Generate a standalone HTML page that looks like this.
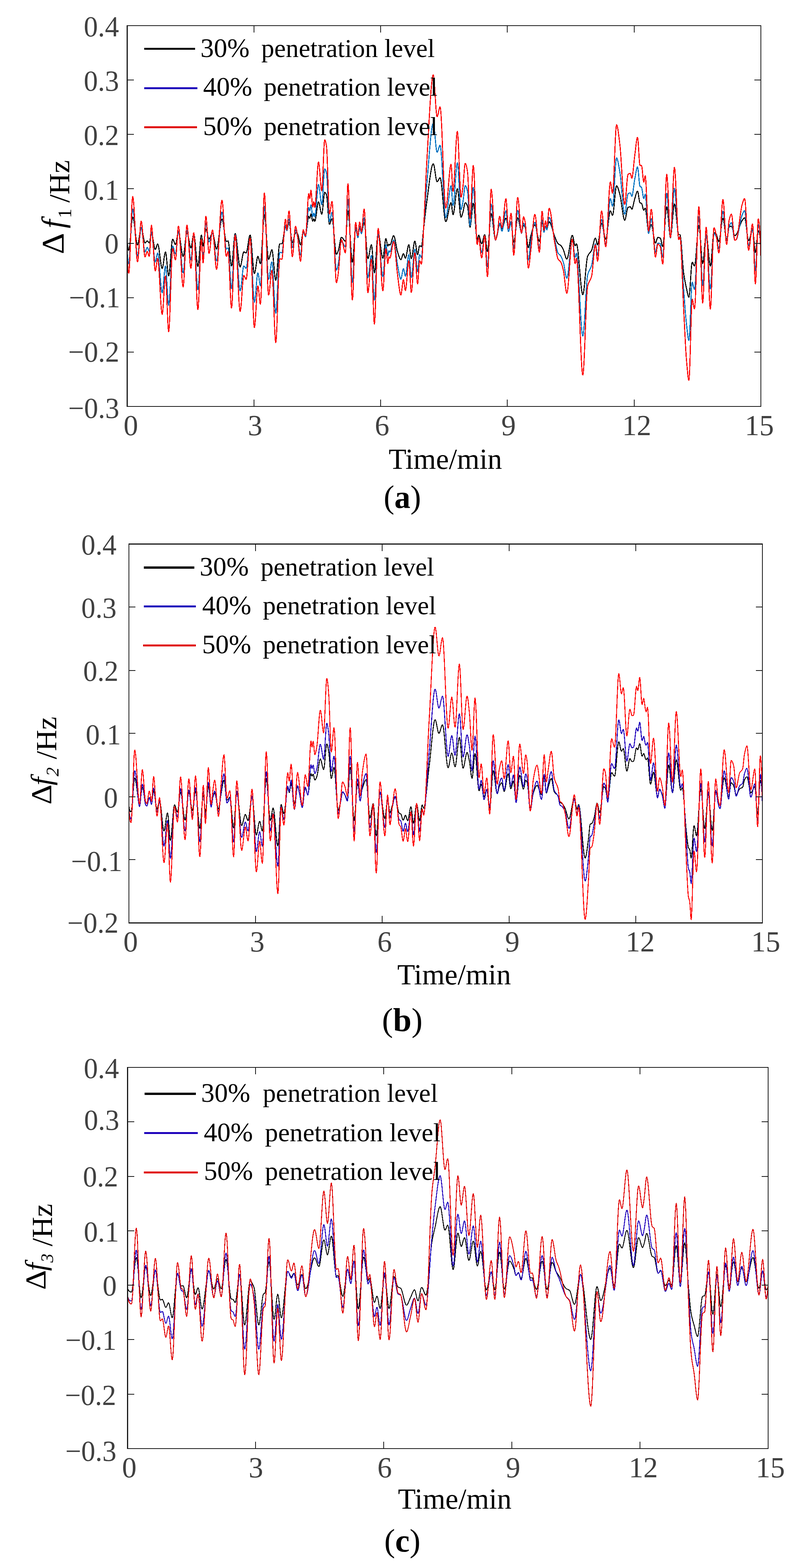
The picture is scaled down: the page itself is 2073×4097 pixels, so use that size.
<!DOCTYPE html>
<html lang="en"><head><meta charset="utf-8"><title>Frequency deviation under different penetration levels</title>
<style>html,body{margin:0;padding:0;background:#fff}body{width:2073px;height:4097px;overflow:hidden}svg{display:block}text{font-family:'Liberation Serif', 'DejaVu Serif', serif}</style></head><body>
<svg width="2073" height="4097" viewBox="0 0 2073 4097">
<rect width="2073" height="4097" fill="#ffffff"/>
<g id="chart-a">
<g fill="none" stroke-width="2.7" stroke-linejoin="round" stroke-linecap="butt" shape-rendering="crispEdges">
<path stroke="#000000" d="M332.9,636.1 333.9,644 334.9,650 335.9,653.7 336.9,654.1 337.9,650.4 338.9,643.1 339.9,633.2 340.9,621.6 341.9,609.1 342.9,596.8 343.9,585.4 344.9,576.1 345.9,569.7 346.9,567 347.9,568.1 348.9,571.6 349.9,577 350.9,583.9 351.9,591.9 352.9,600.4 353.9,609.2 354.9,617.6 355.9,625.3 356.9,631.8 357.9,636.7 358.9,639.5 359.9,639.8 360.9,637.5 361.9,633.1 362.9,627.2 363.9,620.4 364.9,613.3 365.9,606.6 366.9,600.8 367.9,596.6 368.9,594.5 369.9,595 370.9,597.7 371.9,601.9 372.9,607.3 373.9,613.2 374.9,619.3 375.9,625 376.9,629.8 377.9,633.2 378.9,634.8 379.9,634.6 380.9,633.6 381.9,632.3 382.9,631 383.9,630 384.9,629.6 385.9,630.1 386.9,631.3 387.9,632.7 388.9,634 389.9,634.8 390.9,634 391.9,629.5 392.9,622.8 393.9,615.9 394.9,610.6 395.9,608.8 396.9,610.2 397.9,613.6 398.9,618.4 399.9,624.2 400.9,630.4 401.9,636.7 402.9,642.5 403.9,647.2 404.9,650.5 405.9,651.8 406.9,650.9 407.9,648.5 408.9,645.3 409.9,641.9 410.9,639.1 411.9,637.6 412.9,638.1 413.9,641 414.9,645.9 415.9,652.3 416.9,659.8 417.9,667.8 418.9,675.9 419.9,683.7 420.9,690.6 421.9,696.1 422.9,699.9 423.9,701.4 424.9,700 425.9,695.8 426.9,689.8 427.9,682.6 428.9,675.2 429.9,668.2 430.9,662.6 431.9,659.1 432.9,658.6 433.9,662.5 434.9,670.2 435.9,680.2 436.9,691.3 437.9,702.2 438.9,711.7 439.9,718.3 440.9,720.9 441.9,718.6 442.9,711.9 443.9,702 444.9,689.8 445.9,676.3 446.9,662.6 447.9,649.6 448.9,638.4 449.9,630.1 450.9,625.5 451.9,625.1 452.9,626.5 453.9,628.8 454.9,631.5 455.9,634.3 456.9,636.7 457.9,638.3 458.9,638.7 459.9,636.7 460.9,632.6 461.9,627.2 462.9,621.2 463.9,615.5 464.9,610.8 465.9,608 466.9,607.6 467.9,609.7 468.9,613.7 469.9,619.2 470.9,625.9 471.9,633.2 472.9,640.8 473.9,648.3 474.9,655.3 475.9,661.4 476.9,666.2 477.9,669.2 478.9,670 479.9,667.8 480.9,662.6 481.9,655.2 482.9,646.4 483.9,637 484.9,627.8 485.9,619.4 486.9,612.8 487.9,608.5 488.9,607.5 489.9,609 490.9,612.2 491.9,616.6 492.9,621.9 493.9,627.7 494.9,633.4 495.9,638.7 496.9,643.2 497.9,646.4 498.9,647.8 499.9,646.7 500.9,642.4 501.9,636 502.9,628.6 503.9,621.4 504.9,615.4 505.9,611.9 506.9,611.8 507.9,615.6 508.9,622.4 509.9,631.6 510.9,642.3 511.9,653.8 512.9,665.2 513.9,675.9 514.9,685.1 515.9,691.9 516.9,695.7 517.9,695.4 518.9,690.1 519.9,680.8 520.9,668.9 521.9,655.7 522.9,642.4 523.9,630.3 524.9,620.7 525.9,615 526.9,614.6 527.9,620.6 528.9,630 529.9,638.6 530.9,642.7 531.9,640.6 532.9,634.9 533.9,626.8 534.9,617.8 535.9,609.2 536.9,602.3 537.9,598.6 538.9,598.8 539.9,601.1 540.9,604.9 541.9,609.4 542.9,614.2 543.9,618.7 544.9,622.2 545.9,624.2 546.9,624.2 547.9,623.2 548.9,621.4 549.9,619.1 550.9,616.6 551.9,614.1 552.9,611.8 553.9,610 554.9,608.9 555.9,608.9 556.9,610.8 557.9,614.2 558.9,618.8 559.9,624.3 560.9,630.1 561.9,635.8 562.9,641.2 563.9,645.6 564.9,648.9 565.9,650.4 566.9,649.9 567.9,647.3 568.9,642.8 569.9,637 570.9,630 571.9,622.2 572.9,614 573.9,605.7 574.9,597.6 575.9,590.1 576.9,583.5 577.9,578.1 578.9,574.3 579.9,572.4 580.9,572.7 581.9,575.5 582.9,580.1 583.9,586.1 584.9,593.2 585.9,600.8 586.9,608.4 587.9,615.6 588.9,621.9 589.9,626.9 590.9,630 591.9,630.9 592.9,630.7 593.9,630.3 594.9,629.9 595.9,629.6 596.9,630.8 597.9,635.7 598.9,643.5 599.9,653.3 600.9,663.9 601.9,674.3 602.9,683.6 603.9,690.6 604.9,694.5 605.9,693.9 606.9,688.4 607.9,679.1 608.9,667.2 609.9,654 610.9,640.6 611.9,628.3 612.9,618.3 613.9,611.8 614.9,610.1 615.9,612.1 616.9,616.6 617.9,623.2 618.9,631.3 619.9,640.6 620.9,650.4 621.9,660.5 622.9,670.2 623.9,679.1 624.9,686.7 625.9,692.7 626.9,696.4 627.9,697.4 628.9,695.9 629.9,692.5 630.9,687.7 631.9,682 632.9,676 633.9,670.1 634.9,664.9 635.9,660.9 636.9,658.6 637.9,658.4 638.9,658.7 639.9,659.3 640.9,659.9 641.9,660.5 642.9,660.9 643.9,660.6 644.9,658.3 645.9,654.2 646.9,648.7 647.9,642.3 648.9,635.6 649.9,629 650.9,623.1 651.9,618.3 652.9,615.1 653.9,614 654.9,616.5 655.9,622.9 656.9,632.4 657.9,644.1 658.9,657.1 659.9,670.6 660.9,683.7 661.9,695.6 662.9,705.4 663.9,712.2 664.9,715.2 665.9,714.2 666.9,710.6 667.9,704.9 668.9,698 669.9,690.5 670.9,683.3 671.9,676.9 672.9,672.2 673.9,669.8 674.9,670.3 675.9,672.9 676.9,676.9 677.9,681.4 678.9,685.5 679.9,688.3 680.9,689.1 681.9,684.7 682.9,674.9 683.9,661 684.9,644.3 685.9,626.1 686.9,608 687.9,591.1 688.9,576.8 689.9,566.5 690.9,561.6 691.9,562.9 692.9,569.2 693.9,579.4 694.9,592.6 695.9,607.6 696.9,623.5 697.9,639 698.9,653.2 699.9,665.1 700.9,673.4 701.9,677.3 702.9,676.9 703.9,674.7 704.9,671.4 705.9,667.4 706.9,663.1 707.9,659 708.9,655.6 709.9,653.3 710.9,652.7 711.9,655.6 712.9,662 713.9,671 714.9,681.8 715.9,693.4 716.9,704.9 717.9,715.5 718.9,724.2 719.9,730.1 720.9,732.3 721.9,729.9 722.9,723.2 723.9,713.3 724.9,701.2 725.9,687.8 726.9,674.2 727.9,661.4 728.9,650.3 729.9,642 730.9,637.5 731.9,637 732.9,637 733.9,637 734.9,637 735.9,637 736.9,637 737.9,635.5 738.9,631.8 739.9,626.4 740.9,620 741.9,613.2 742.9,606.5 743.9,600.5 744.9,595.9 745.9,593.1 746.9,593 747.9,595.6 748.9,598.9 749.9,600.5 750.9,598.8 751.9,594.9 752.9,589.9 753.9,585.1 754.9,581.8 755.9,581.1 756.9,584.1 757.9,590.2 758.9,598.3 759.9,607.5 760.9,616.6 761.9,624.8 762.9,631 763.9,634.2 764.9,633.9 765.9,631.7 766.9,628.1 767.9,623.7 768.9,619 769.9,614.6 770.9,611.1 771.9,608.8 772.9,608.3 773.9,608.5 774.9,608.9 775.9,609.5 776.9,610.2 777.9,611 778.9,613.2 779.9,617 780.9,621.8 781.9,627.1 782.9,632.1 783.9,636.3 784.9,639 785.9,639.5 786.9,636.8 787.9,631.6 788.9,625 789.9,618.2 790.9,612.2 791.9,608.1 792.9,607 793.9,607.7 794.9,609.1 795.9,610.7 796.9,612.2 797.9,613.2 798.9,613.4 799.9,610.9 800.9,605.5 801.9,598.3 802.9,590 803.9,581.7 804.9,574.3 805.9,568.6 806.9,565.5 807.9,566.2 808.9,569.3 809.9,570.3 810.9,566.8 811.9,561.7 812.9,558.8 813.9,560.7 814.9,566.3 815.9,572.8 816.9,577.5 817.9,577.9 818.9,575 819.9,572.2 820.9,572.6 821.9,576 822.9,578.3 823.9,576.9 824.9,572.9 825.9,566.9 826.9,559.6 827.9,551.8 828.9,544.1 829.9,537.1 830.9,531.6 831.9,528.2 832.9,527.6 833.9,529.5 834.9,533.2 835.9,538.2 836.9,543.8 837.9,549.3 838.9,554.3 839.9,558 840.9,559.9 841.9,558.7 842.9,552.7 843.9,543.4 844.9,532.3 845.9,521.1 846.9,511.4 847.9,504.7 848.9,502.7 849.9,503.1 850.9,504.2 851.9,505.9 852.9,507.9 853.9,510.7 854.9,518.2 855.9,529.5 856.9,543.1 857.9,557.2 858.9,570.1 859.9,580.2 860.9,585.6 861.9,585.8 862.9,584 863.9,581.1 864.9,577.8 865.9,574.8 866.9,572.6 867.9,571.8 868.9,574 869.9,579.5 870.9,587.6 871.9,597.6 872.9,608.8 873.9,620.6 874.9,632.2 875.9,643 876.9,652.3 877.9,659.4 878.9,663.6 879.9,664.3 880.9,663.3 881.9,661.4 882.9,658.9 883.9,656.2 884.9,653.3 885.9,649 886.9,643.8 887.9,638 888.9,632.4 889.9,627.2 890.9,623.2 891.9,620.6 892.9,620.1 893.9,620.5 894.9,621.4 895.9,622.5 896.9,623.9 897.9,625.4 898.9,626.9 899.9,628.2 900.9,629.4 901.9,630.2 902.9,630.5 903.9,626.7 904.9,614.8 905.9,598.1 906.9,579.9 907.9,563.8 908.9,553.2 909.9,551.2 910.9,555.7 911.9,564.7 912.9,577.3 913.9,592.3 914.9,608.9 915.9,626 916.9,642.7 917.9,657.9 918.9,670.7 919.9,680 920.9,684.8 921.9,684 922.9,677 923.9,665.3 924.9,650.7 925.9,635.1 926.9,620.2 927.9,607.9 928.9,599.9 929.9,598 930.9,600.2 931.9,604.4 932.9,609.6 933.9,614.4 934.9,617.8 935.9,618.6 936.9,614.3 937.9,606.8 938.9,599.5 939.9,595.4 940.9,596.3 941.9,599.6 942.9,603.7 943.9,607.1 944.9,608.3 945.9,606.6 946.9,602.8 947.9,597.7 948.9,592.1 949.9,586.9 950.9,582.9 951.9,581 952.9,582.8 953.9,589.6 954.9,600.3 955.9,613.6 956.9,628.2 957.9,642.8 958.9,656.1 959.9,667 960.9,674.1 961.9,676.1 962.9,674.6 963.9,671.1 964.9,666.1 965.9,660.4 966.9,654.4 967.9,648.8 968.9,644.1 969.9,640.8 970.9,639.6 971.9,643 972.9,651.7 973.9,663.8 974.9,677.6 975.9,691.2 976.9,702.7 977.9,710.5 978.9,712.6 979.9,708.6 980.9,699.7 981.9,687.3 982.9,672.6 983.9,656.9 984.9,641.5 985.9,627.7 986.9,616.7 987.9,609.9 988.9,608.4 989.9,610.3 990.9,614.3 991.9,620 992.9,626.9 993.9,634.6 994.9,642.7 995.9,650.8 996.9,658.3 997.9,664.9 998.9,670.2 999.9,673.6 1000.9,674.9 1001.9,672.5 1002.9,666.5 1003.9,658 1004.9,648.3 1005.9,638.8 1006.9,630.6 1007.9,625.2 1008.9,623.7 1009.9,626.1 1010.9,631 1011.9,636.5 1012.9,641.1 1013.9,643.2 1014.9,641.6 1015.9,638.8 1016.9,638.1 1017.9,639.3 1018.9,640.5 1019.9,640.2 1020.9,638.5 1021.9,635.9 1022.9,632.6 1023.9,629 1024.9,625.3 1025.9,621.8 1026.9,618.8 1027.9,616.7 1028.9,615.8 1029.9,616.3 1030.9,618.5 1031.9,621.9 1032.9,626.2 1033.9,631.3 1034.9,636.8 1035.9,642.3 1036.9,647.7 1037.9,652.6 1038.9,656.8 1039.9,660 1040.9,663.1 1041.9,666.3 1042.9,669.4 1043.9,672.3 1044.9,674.7 1045.9,676.7 1046.9,678 1047.9,678.4 1048.9,677.4 1049.9,675 1050.9,671.8 1051.9,668.4 1052.9,665.3 1053.9,663.3 1054.9,662.8 1055.9,664.4 1056.9,667.4 1057.9,670.7 1058.9,673.4 1059.9,674.5 1060.9,673.1 1061.9,669.8 1062.9,664.9 1063.9,659.3 1064.9,653.3 1065.9,647.8 1066.9,643.2 1067.9,640.1 1068.9,639.3 1069.9,642.3 1070.9,648.6 1071.9,656.7 1072.9,664.9 1073.9,671.7 1074.9,675.4 1075.9,675.1 1076.9,671.9 1077.9,666.6 1078.9,659.8 1079.9,652.4 1080.9,645.1 1081.9,638.5 1082.9,633.4 1083.9,630.5 1084.9,630.6 1085.9,634 1086.9,639.7 1087.9,646.6 1088.9,653.8 1089.9,660 1090.9,664.2 1091.9,665.2 1092.9,662.2 1093.9,656.3 1094.9,649.7 1095.9,644.2 1096.9,641.9 1097.9,642.1 1098.9,642.9 1099.9,643.7 1100.9,644.3 1101.9,644.2 1102.9,640.3 1103.9,632.6 1104.9,622.6 1105.9,611.8 1106.9,601.6 1107.9,592.9 1108.9,584.3 1109.9,575.5 1110.9,566.6 1111.9,557.7 1112.9,549.1 1113.9,540.8 1114.9,533 1115.9,525.7 1116.9,518.4 1117.9,510.8 1118.9,503 1119.9,495.1 1120.9,487.2 1121.9,479.4 1122.9,471.8 1123.9,464.5 1124.9,457.6 1125.9,451.2 1126.9,445.4 1127.9,440.2 1128.9,435.8 1129.9,432.3 1130.9,429.7 1131.9,428.2 1132.9,428 1133.9,429.9 1134.9,434 1135.9,439.6 1136.9,446.2 1137.9,453.3 1138.9,460.2 1139.9,466.4 1140.9,471.3 1141.9,474.2 1142.9,474.8 1143.9,474.1 1144.9,472.7 1145.9,470.8 1146.9,468.8 1147.9,467 1148.9,465.4 1149.9,464.5 1150.9,464.8 1151.9,467.6 1152.9,473 1153.9,480.4 1154.9,489.5 1155.9,499.8 1156.9,510.9 1157.9,522.4 1158.9,533.9 1159.9,545 1160.9,555.2 1161.9,564.1 1162.9,571.3 1163.9,576.4 1164.9,579 1165.9,578.9 1166.9,577.4 1167.9,574.6 1168.9,570.8 1169.9,566.3 1170.9,561.3 1171.9,556 1172.9,550.7 1173.9,545.5 1174.9,540.7 1175.9,536.4 1176.9,533.1 1177.9,530.7 1178.9,529.7 1179.9,531.6 1180.9,538.1 1181.9,546.9 1182.9,555.2 1183.9,560.4 1184.9,560.5 1185.9,557.4 1186.9,551.9 1187.9,544.8 1188.9,536.4 1189.9,527.4 1190.9,518.4 1191.9,510 1192.9,502.7 1193.9,497.1 1194.9,493.8 1195.9,493.4 1196.9,497.1 1197.9,504.2 1198.9,513.7 1199.9,524.8 1200.9,536.3 1201.9,547.3 1202.9,556.8 1203.9,563.8 1204.9,567.3 1205.9,567.1 1206.9,565.2 1207.9,562.4 1208.9,559 1209.9,555.8 1210.9,551.8 1211.9,546.6 1212.9,541 1213.9,535.8 1214.9,531.8 1215.9,529.8 1216.9,529.8 1217.9,530.6 1218.9,531.9 1219.9,533.6 1220.9,535.7 1221.9,538.1 1222.9,542.2 1223.9,550.7 1224.9,561.9 1225.9,573.8 1226.9,584.4 1227.9,591.6 1228.9,593.5 1229.9,590.2 1230.9,583.3 1231.9,574 1232.9,563.3 1233.9,552.6 1234.9,542.9 1235.9,535.4 1236.9,531.4 1237.9,531.9 1238.9,537.3 1239.9,546.4 1240.9,558.2 1241.9,571.7 1242.9,585.7 1243.9,599.1 1244.9,610.9 1245.9,620 1246.9,625.3 1247.9,625.8 1248.9,622.7 1249.9,618.3 1250.9,615 1251.9,614.7 1252.9,616.6 1253.9,619.8 1254.9,623.8 1255.9,628 1256.9,631.9 1257.9,635 1258.9,636.5 1259.9,636.1 1260.9,633.9 1261.9,630.3 1262.9,625.9 1263.9,621.5 1264.9,617.5 1265.9,614.5 1266.9,613.2 1267.9,614.8 1268.9,620.2 1269.9,628.1 1270.9,637.1 1271.9,645.8 1272.9,652.9 1273.9,657 1274.9,656.6 1275.9,650.7 1276.9,640.5 1277.9,627.2 1278.9,612.3 1279.9,597 1280.9,582.6 1281.9,570.5 1282.9,562 1283.9,558.4 1284.9,559.6 1285.9,563.5 1286.9,569.5 1287.9,577.2 1288.9,585.8 1289.9,594.8 1290.9,603.7 1291.9,611.8 1292.9,618.6 1293.9,623.6 1294.9,626 1295.9,625.6 1296.9,623 1297.9,619.1 1298.9,614.7 1299.9,610.6 1300.9,606.6 1301.9,601.8 1302.9,596.8 1303.9,592.3 1304.9,588.9 1305.9,587.2 1306.9,587.5 1307.9,589.1 1308.9,591.5 1309.9,594.1 1310.9,596.3 1311.9,597.4 1312.9,597.1 1313.9,595.5 1314.9,592.9 1315.9,589.6 1316.9,585.8 1317.9,581.9 1318.9,578.1 1319.9,574.7 1320.9,572.1 1321.9,570.5 1322.9,570.2 1323.9,572.6 1324.9,577 1325.9,582.6 1326.9,588.1 1327.9,592.5 1328.9,594.8 1329.9,594.6 1330.9,593.3 1331.9,591.4 1332.9,589.2 1333.9,587 1334.9,585.4 1335.9,584.5 1336.9,585.9 1337.9,592.1 1338.9,601.5 1339.9,612.1 1340.9,622.2 1341.9,629.8 1342.9,633.1 1343.9,631.7 1344.9,627.5 1345.9,620.9 1346.9,612.9 1347.9,603.9 1348.9,594.8 1349.9,586.1 1350.9,578.6 1351.9,572.9 1352.9,569.7 1353.9,569.4 1354.9,571.5 1355.9,575.1 1356.9,579.9 1357.9,585.4 1358.9,591.1 1359.9,596.5 1360.9,601.3 1361.9,604.9 1362.9,606.8 1363.9,606.4 1364.9,603.1 1365.9,598.1 1366.9,593.1 1367.9,589.6 1368.9,588.8 1369.9,589.6 1370.9,591 1371.9,592.9 1372.9,595.1 1373.9,598.6 1374.9,604.8 1375.9,612.6 1376.9,621.4 1377.9,630 1378.9,637.8 1379.9,643.8 1380.9,647.1 1381.9,646.9 1382.9,643.5 1383.9,638 1384.9,631.5 1385.9,624.9 1386.9,619.3 1387.9,615.4 1388.9,611.6 1389.9,607.9 1390.9,604.1 1391.9,600.5 1392.9,597.2 1393.9,594.2 1394.9,591.7 1395.9,589.7 1396.9,588.2 1397.9,587.5 1398.9,587.8 1399.9,589.6 1400.9,592.8 1401.9,597.1 1402.9,602.1 1403.9,607.5 1404.9,613 1405.9,618.2 1406.9,622.9 1407.9,626.7 1408.9,629.4 1409.9,630.5 1410.9,628.6 1411.9,622.5 1412.9,613.7 1413.9,603.7 1414.9,593.9 1415.9,586 1416.9,581.5 1417.9,581.7 1418.9,586.3 1419.9,592.7 1420.9,598.7 1421.9,601.7 1422.9,600.5 1423.9,597 1424.9,593.3 1425.9,591.4 1426.9,592.2 1427.9,594.2 1428.9,596.1 1429.9,596.5 1430.9,594.6 1431.9,591.1 1432.9,586.9 1433.9,583 1434.9,580.3 1435.9,579.7 1436.9,580.2 1437.9,581.5 1438.9,583.3 1439.9,585.6 1440.9,588.4 1441.9,591.4 1442.9,594.7 1443.9,598.2 1444.9,601.7 1445.9,605.2 1446.9,608.6 1447.9,611.8 1448.9,614.7 1449.9,617.3 1450.9,619.7 1451.9,622.2 1452.9,624.8 1453.9,627.3 1454.9,629.8 1455.9,632 1456.9,634 1457.9,635.6 1458.9,636.8 1459.9,637.7 1460.9,638.3 1461.9,638.8 1462.9,639.3 1463.9,639.8 1464.9,640.4 1465.9,641.2 1466.9,642.3 1467.9,643.7 1468.9,645.4 1469.9,647.2 1470.9,649.1 1471.9,651.1 1472.9,653.2 1473.9,655.8 1474.9,658.9 1475.9,662.4 1476.9,666 1477.9,669.4 1478.9,672.4 1479.9,674.9 1480.9,676.5 1481.9,676.9 1482.9,675.9 1483.9,673.4 1484.9,669.5 1485.9,664.7 1486.9,659 1487.9,652.8 1488.9,646.4 1489.9,639.9 1490.9,633.7 1491.9,628 1492.9,623 1493.9,619 1494.9,616.2 1495.9,614.9 1496.9,615.7 1497.9,618.8 1498.9,623.6 1499.9,629.1 1500.9,634.5 1501.9,639 1502.9,641.8 1503.9,642 1504.9,640.2 1505.9,638 1506.9,637 1507.9,638.5 1508.9,642.6 1509.9,648.7 1510.9,656.7 1511.9,666.2 1512.9,676.8 1513.9,688.2 1514.9,700 1515.9,711.9 1516.9,723.6 1517.9,734.7 1518.9,744.9 1519.9,753.8 1520.9,761.1 1521.9,766.5 1522.9,769.5 1523.9,769.9 1524.9,767.2 1525.9,761.7 1526.9,754 1527.9,744.6 1528.9,734 1529.9,722.8 1530.9,711.3 1531.9,700.3 1532.9,690.1 1533.9,681.4 1534.9,674.5 1535.9,670.1 1536.9,667.8 1537.9,665.8 1538.9,664.3 1539.9,662.9 1540.9,661.7 1541.9,660.6 1542.9,659.5 1543.9,658.2 1544.9,656.8 1545.9,655.2 1546.9,653.1 1547.9,650.2 1548.9,646.5 1549.9,642.4 1550.9,638 1551.9,633.7 1552.9,629.7 1553.9,626.3 1554.9,623.8 1555.9,622.4 1556.9,622.5 1557.9,625 1558.9,629.1 1559.9,633.6 1560.9,637.5 1561.9,639.5 1562.9,638.9 1563.9,635.5 1564.9,630.1 1565.9,623.3 1566.9,615.5 1567.9,607.5 1568.9,599.7 1569.9,592.9 1570.9,587.5 1571.9,584.3 1572.9,583.6 1573.9,585.2 1574.9,588.3 1575.9,592.6 1576.9,597.7 1577.9,603.4 1578.9,609 1579.9,614.4 1580.9,619.1 1581.9,622.7 1582.9,624.8 1583.9,625.1 1584.9,622.7 1585.9,617.9 1586.9,611.3 1587.9,603.2 1588.9,594.3 1589.9,585 1590.9,575.9 1591.9,567.5 1592.9,560.3 1593.9,554.8 1594.9,551.6 1595.9,551 1596.9,552.5 1597.9,555.2 1598.9,558.2 1599.9,560.9 1600.9,562.5 1601.9,562 1602.9,557.8 1603.9,550.8 1604.9,541.6 1605.9,531.1 1606.9,520.1 1607.9,509.3 1608.9,499.7 1609.9,492.1 1610.9,487.1 1611.9,485.7 1612.9,486.3 1613.9,487.8 1614.9,489.9 1615.9,492.6 1616.9,495.7 1617.9,499 1618.9,502.5 1619.9,505.9 1620.9,509.7 1621.9,514.6 1622.9,520.5 1623.9,527.1 1624.9,534.1 1625.9,541.4 1626.9,548.5 1627.9,555.4 1628.9,561.6 1629.9,567 1630.9,571.3 1631.9,574.3 1632.9,575.7 1633.9,575 1634.9,572.2 1635.9,567.7 1636.9,562.3 1637.9,556.6 1638.9,551 1639.9,546.3 1640.9,543 1641.9,541.7 1642.9,541.4 1643.9,541.1 1644.9,540.8 1645.9,540.6 1646.9,540.5 1647.9,540.5 1648.9,541.7 1649.9,543.9 1650.9,545.9 1651.9,546.4 1652.9,545.1 1653.9,542.3 1654.9,538.4 1655.9,533.9 1656.9,529.2 1657.9,524.6 1658.9,520.7 1659.9,517.4 1660.9,513.9 1661.9,510.2 1662.9,506.7 1663.9,503.6 1664.9,501.2 1665.9,499.8 1666.9,499.8 1667.9,502.8 1668.9,508.3 1669.9,515 1670.9,521.6 1671.9,527 1672.9,529.9 1673.9,530.4 1674.9,530.7 1675.9,530.9 1676.9,531.3 1677.9,532.9 1678.9,536.2 1679.9,540.3 1680.9,544.5 1681.9,547.7 1682.9,549.2 1683.9,548.3 1684.9,546.4 1685.9,544.5 1686.9,544.1 1687.9,547.3 1688.9,553.9 1689.9,562.7 1690.9,572.8 1691.9,583.1 1692.9,592.5 1693.9,599.9 1694.9,604.4 1695.9,605.1 1696.9,603.4 1697.9,600.4 1698.9,596.6 1699.9,592.8 1700.9,589.5 1701.9,587.4 1702.9,587.1 1703.9,589 1704.9,592.7 1705.9,597.7 1706.9,603.7 1707.9,610.2 1708.9,616.8 1709.9,623 1710.9,628.3 1711.9,632.4 1712.9,634.8 1713.9,635.1 1714.9,633.3 1715.9,630.1 1716.9,626.4 1717.9,623 1718.9,620.8 1719.9,620.4 1720.9,620.5 1721.9,620.7 1722.9,620.9 1723.9,621.3 1724.9,621.7 1725.9,622.2 1726.9,623.6 1727.9,627.1 1728.9,631.7 1729.9,636.7 1730.9,641 1731.9,643.8 1732.9,644.1 1733.9,639.7 1734.9,631.1 1735.9,619.3 1736.9,605.5 1737.9,590.7 1738.9,576 1739.9,562.6 1740.9,551.5 1741.9,543.8 1742.9,540.6 1743.9,542.5 1744.9,548.5 1745.9,557.7 1746.9,568.8 1747.9,581 1748.9,593.1 1749.9,604 1750.9,612.7 1751.9,618.2 1752.9,619.5 1753.9,616.2 1754.9,609.3 1755.9,599.6 1756.9,588.2 1757.9,575.8 1758.9,563.5 1759.9,552.1 1760.9,542.6 1761.9,535.9 1762.9,532.8 1763.9,533.9 1764.9,538.3 1765.9,545.3 1766.9,554.2 1767.9,564.4 1768.9,575 1769.9,585.6 1770.9,595.3 1771.9,603.6 1772.9,609.6 1773.9,612.8 1774.9,613.1 1775.9,613.1 1776.9,613.1 1777.9,613.6 1778.9,617.8 1779.9,625.6 1780.9,636.1 1781.9,648.7 1782.9,662.3 1783.9,676.2 1784.9,689.6 1785.9,701.6 1786.9,711.3 1787.9,718.5 1788.9,724.9 1789.9,730.8 1790.9,736.2 1791.9,741.3 1792.9,746.1 1793.9,750.6 1794.9,755 1795.9,759.8 1796.9,764.7 1797.9,769.3 1798.9,773.2 1799.9,775.9 1800.9,777 1801.9,773.7 1802.9,764.7 1803.9,751.6 1804.9,736.2 1805.9,720.3 1806.9,705.5 1807.9,693.6 1808.9,686.3 1809.9,685 1810.9,686.2 1811.9,688.4 1812.9,691 1813.9,693.4 1814.9,695 1815.9,695 1816.9,691.2 1817.9,683.7 1818.9,673.4 1819.9,661.1 1820.9,647.7 1821.9,633.9 1822.9,620.7 1823.9,608.8 1824.9,599.1 1825.9,592.4 1826.9,589.6 1827.9,591.8 1828.9,599 1829.9,609.8 1830.9,623.3 1831.9,638 1832.9,652.9 1833.9,666.6 1834.9,677.9 1835.9,685.7 1836.9,688.8 1837.9,686.4 1838.9,679.8 1839.9,670 1840.9,658.4 1841.9,646 1842.9,634.1 1843.9,623.9 1844.9,616.5 1845.9,613.2 1846.9,614.4 1847.9,619.2 1848.9,626.7 1849.9,636.2 1850.9,646.9 1851.9,658.1 1852.9,669.1 1853.9,679 1854.9,687.2 1855.9,692.9 1856.9,695.3 1857.9,693.2 1858.9,686.2 1859.9,675.8 1860.9,663 1861.9,649.1 1862.9,635.5 1863.9,623.4 1864.9,614 1865.9,608.6 1866.9,607.9 1867.9,608.2 1868.9,608.8 1869.9,609.6 1870.9,610.5 1871.9,611.5 1872.9,613 1873.9,615.8 1874.9,619.5 1875.9,623.4 1876.9,627 1877.9,629.8 1878.9,631.3 1879.9,630.6 1880.9,627.2 1881.9,621.7 1882.9,614.5 1883.9,606.3 1884.9,597.7 1885.9,589.4 1886.9,581.8 1887.9,575.7 1888.9,571.6 1889.9,570 1890.9,571.7 1891.9,576.2 1892.9,582.9 1893.9,590.9 1894.9,599.6 1895.9,608.1 1896.9,615.7 1897.9,621.7 1898.9,625.4 1899.9,625.9 1900.9,622.7 1901.9,617 1902.9,609.9 1903.9,602.8 1904.9,597 1905.9,593.7 1906.9,592.9 1907.9,592.2 1908.9,591.7 1909.9,591.3 1910.9,591 1911.9,590.9 1912.9,591.5 1913.9,593.6 1914.9,596.8 1915.9,600.7 1916.9,604.9 1917.9,608.9 1918.9,612.3 1919.9,614.7 1920.9,615.7 1921.9,615.4 1922.9,614.6 1923.9,613.6 1924.9,612.4 1925.9,611 1926.9,609.1 1927.9,607 1928.9,604.6 1929.9,602 1930.9,599.2 1931.9,596.4 1932.9,593.5 1933.9,590.7 1934.9,587.9 1935.9,585.2 1936.9,582.7 1937.9,580.4 1938.9,578.4 1939.9,576.7 1940.9,575.2 1941.9,573.7 1942.9,572.2 1943.9,570.9 1944.9,570 1945.9,569.4 1946.9,569.5 1947.9,572.1 1948.9,577.1 1949.9,583.9 1950.9,591.8 1951.9,600.3 1952.9,608.7 1953.9,616.4 1954.9,622.7 1955.9,627 1956.9,628.7 1957.9,628.1 1958.9,626.2 1959.9,623.2 1960.9,619.6 1961.9,615.6 1962.9,611.5 1963.9,607.6 1964.9,604.2 1965.9,601.7 1966.9,600.2 1967.9,600.8 1968.9,606.6 1969.9,616.3 1970.9,628.1 1971.9,640.3 1972.9,650.9 1973.9,658 1974.9,659.9 1975.9,656.2 1976.9,648.4 1977.9,638 1978.9,626.7 1979.9,616.1 1980.9,607.6 1981.9,603.1 1982.9,603 1983.9,604.9 1984.9,608.7 1985.9,614.3 1986.9,621.7 1987.9,631.1 1988.9,642.4 1989.1,644.4"/>
<path stroke="#0070c0" d="M332.9,662.2 333.9,674.1 334.9,683.2 335.9,688.6 336.9,689.2 337.9,683.1 338.9,671.1 339.9,654.8 340.9,635.7 341.9,615.2 342.9,595 343.9,576.4 344.9,561.1 345.9,550.5 346.9,546.2 347.9,548 348.9,553.8 349.9,562.9 350.9,574.5 351.9,587.9 352.9,602.3 353.9,616.9 354.9,631.1 355.9,644 356.9,655 357.9,663.2 358.9,667.9 359.9,668.4 360.9,664.6 361.9,657.4 362.9,647.7 363.9,636.7 364.9,625.2 365.9,614.2 366.9,604.8 367.9,597.9 368.9,594.6 369.9,595.4 370.9,599.6 371.9,606.3 372.9,614.7 373.9,624.2 374.9,633.8 375.9,642.8 376.9,650.4 377.9,655.8 378.9,658.3 379.9,657.7 380.9,655.5 381.9,652.6 382.9,649.7 383.9,647.4 384.9,646.6 385.9,647.6 386.9,649.9 387.9,652.8 388.9,655.3 389.9,656.9 390.9,655.4 391.9,646.6 392.9,633.6 393.9,620.1 394.9,609.7 395.9,606.2 396.9,608.8 397.9,614.9 398.9,623.7 399.9,634.2 400.9,645.6 401.9,657 402.9,667.4 403.9,676.1 404.9,682 405.9,684.4 406.9,683 407.9,679.1 408.9,673.8 409.9,668.2 410.9,663.6 411.9,661.1 412.9,661.9 413.9,666.7 414.9,674.7 415.9,685.2 416.9,697.4 417.9,710.5 418.9,723.8 419.9,736.4 420.9,747.7 421.9,756.8 422.9,762.9 423.9,765.3 424.9,763 425.9,756.2 426.9,746.3 427.9,734.6 428.9,722.4 429.9,711 430.9,701.8 431.9,696.1 432.9,695.3 433.9,701.8 434.9,714.4 435.9,730.8 436.9,749.1 437.9,767.1 438.9,782.7 439.9,793.6 440.9,797.9 441.9,794.1 442.9,783.4 443.9,767.3 444.9,747.5 445.9,725.8 446.9,703.6 447.9,682.6 448.9,664.5 449.9,651 450.9,643.6 451.9,643 452.9,645 453.9,648.5 454.9,652.6 455.9,656.8 456.9,660.5 457.9,662.9 458.9,663.4 459.9,659.6 460.9,651.7 461.9,641.3 462.9,629.9 463.9,619 464.9,610 465.9,604.5 466.9,603.9 467.9,607.5 468.9,614.5 469.9,624.2 470.9,635.8 471.9,648.6 472.9,661.9 473.9,675.1 474.9,687.4 475.9,698 476.9,706.3 477.9,711.6 478.9,713.1 479.9,709.1 480.9,699.9 481.9,686.8 482.9,671.3 483.9,654.6 484.9,638.2 485.9,623.4 486.9,611.6 487.9,604.2 488.9,602.3 489.9,605.1 490.9,611.2 491.9,619.7 492.9,629.8 493.9,640.8 494.9,651.7 495.9,661.8 496.9,670.3 497.9,676.3 498.9,679.1 499.9,677.1 500.9,669.4 501.9,658 502.9,644.8 503.9,631.9 504.9,621.3 505.9,614.9 506.9,614.8 507.9,621.1 508.9,632.7 509.9,648.2 510.9,666.3 511.9,685.7 512.9,705.1 513.9,723.3 514.9,738.8 515.9,750.3 516.9,756.7 517.9,756.3 518.9,748 519.9,733.6 520.9,715.1 521.9,694.5 522.9,673.8 523.9,655 524.9,640.2 525.9,631.3 526.9,630.6 527.9,639.9 528.9,654.3 529.9,667.7 530.9,674 531.9,669.7 532.9,657.9 533.9,641.3 534.9,622.7 535.9,605 536.9,590.9 537.9,583.3 538.9,583.6 539.9,588 540.9,595.1 541.9,603.8 542.9,612.9 543.9,621.4 544.9,628.1 545.9,631.8 546.9,632 547.9,630.4 548.9,627.7 549.9,624.3 550.9,620.5 551.9,616.7 552.9,613.3 553.9,610.6 554.9,609 555.9,609.1 556.9,612.3 557.9,618.3 558.9,626.4 559.9,635.9 560.9,646 561.9,656.1 562.9,665.5 563.9,673.3 564.9,678.9 565.9,681.7 566.9,680.8 567.9,676.5 568.9,669.3 569.9,659.7 570.9,648.3 571.9,635.6 572.9,622.2 573.9,608.6 574.9,595.4 575.9,583.2 576.9,572.3 577.9,563.5 578.9,557.3 579.9,554.2 580.9,554.8 581.9,559.3 582.9,566.9 583.9,576.9 584.9,588.5 585.9,600.9 586.9,613.4 587.9,625.3 588.9,635.6 589.9,643.8 590.9,649 591.9,650.5 592.9,650.1 593.9,649.2 594.9,648.4 595.9,647.9 596.9,649.8 597.9,657.8 598.9,670.7 599.9,686.7 600.9,704.1 601.9,721.2 602.9,736.4 603.9,748 604.9,754.2 605.9,753.3 606.9,744.1 607.9,728.5 608.9,708.5 609.9,686.3 610.9,663.8 611.9,643.2 612.9,626.4 613.9,615.6 614.9,612.8 615.9,616.1 616.9,623.7 617.9,634.8 618.9,648.5 619.9,664.1 620.9,680.8 621.9,697.7 622.9,714 623.9,729.1 624.9,742 625.9,752 626.9,758.3 627.9,760 628.9,757.6 629.9,751.9 630.9,743.8 631.9,734.3 632.9,724.2 633.9,714.4 634.9,705.8 635.9,699.1 636.9,695.4 637.9,695 638.9,695.9 639.9,697.3 640.9,698.9 641.9,700.3 642.9,701.2 643.9,700.9 644.9,697 645.9,690 646.9,680.6 647.9,669.9 648.9,658.5 649.9,647.3 650.9,637.3 651.9,629.1 652.9,623.6 653.9,621.8 654.9,625.9 655.9,636.6 656.9,652.3 657.9,671.6 658.9,693.2 659.9,715.6 660.9,737.3 661.9,757 662.9,773.2 663.9,784.6 664.9,789.6 665.9,787.9 666.9,781.7 667.9,772.1 668.9,760.4 669.9,747.9 670.9,735.6 671.9,724.9 672.9,717 673.9,712.9 674.9,713.8 675.9,718.4 676.9,725.3 677.9,733 678.9,740.1 679.9,745.1 680.9,746.5 681.9,739.4 682.9,723.4 683.9,700.8 684.9,673.7 685.9,644.3 686.9,614.8 687.9,587.4 688.9,564.3 689.9,547.6 690.9,539.6 691.9,541.6 692.9,552 693.9,568.8 694.9,590.5 695.9,615.1 696.9,641.1 697.9,666.6 698.9,689.9 699.9,709.3 700.9,723.1 701.9,729.4 702.9,728.6 703.9,724.6 704.9,718.5 705.9,711 706.9,703.1 707.9,695.6 708.9,689.3 709.9,685.2 710.9,684.1 711.9,688.9 712.9,699.6 713.9,714.9 714.9,733.1 715.9,752.7 716.9,772.2 717.9,790 718.9,804.7 719.9,814.7 720.9,818.4 721.9,814.4 722.9,803.2 723.9,786.7 724.9,766.4 725.9,744.1 726.9,721.3 727.9,699.9 728.9,681.4 729.9,667.6 730.9,660.1 731.9,659.2 732.9,659.5 733.9,659.8 734.9,660.1 735.9,660.4 736.9,660.5 737.9,658.1 738.9,652 739.9,643.3 740.9,633 741.9,621.9 742.9,611.1 743.9,601.4 744.9,593.9 745.9,589.5 746.9,589.4 747.9,594.2 748.9,600.2 749.9,603.1 750.9,600.5 751.9,594.2 752.9,586.2 753.9,578.5 754.9,573.1 755.9,572 756.9,576.3 757.9,584.9 758.9,596.4 759.9,609.3 760.9,622.3 761.9,633.9 762.9,642.6 763.9,647.1 764.9,646.6 765.9,642.6 766.9,636.1 767.9,628.2 768.9,619.8 769.9,611.9 770.9,605.4 771.9,601.4 772.9,600.6 773.9,602.3 774.9,605.6 775.9,609.9 776.9,614.6 777.9,619.2 778.9,624.9 779.9,632.3 780.9,640.5 781.9,648.7 782.9,656.3 783.9,662.3 784.9,666.1 785.9,666.8 786.9,661.7 787.9,652 788.9,639.6 789.9,626.7 790.9,615.4 791.9,607.7 792.9,605.8 793.9,607.1 794.9,609.8 795.9,613 796.9,616 797.9,618.2 798.9,618.6 799.9,614.5 800.9,605.9 801.9,594.4 802.9,581.3 803.9,568.1 804.9,556.2 805.9,547.1 806.9,542.2 807.9,543.4 808.9,548.8 809.9,550.6 810.9,546 811.9,539.3 812.9,535.3 813.9,538.5 814.9,547.4 815.9,557.7 816.9,565.2 817.9,565.9 818.9,561.3 819.9,556.8 820.9,557.4 821.9,562.9 822.9,566.6 823.9,564.2 824.9,557.5 825.9,547.5 826.9,535.4 827.9,522.4 828.9,509.5 829.9,497.9 830.9,488.7 831.9,483 832.9,482 833.9,485.1 834.9,491.2 835.9,499.4 836.9,508.5 837.9,517.7 838.9,525.8 839.9,532 840.9,535.1 841.9,533 842.9,523.2 843.9,508 844.9,489.9 845.9,471.6 846.9,455.7 847.9,444.8 848.9,441.3 849.9,442.1 850.9,443.9 851.9,446.5 852.9,449.7 853.9,454.3 854.9,466.6 855.9,485.4 856.9,508 857.9,531.4 858.9,552.9 859.9,569.7 860.9,578.8 861.9,579 862.9,575.9 863.9,570.9 864.9,565.3 865.9,560 866.9,556.2 867.9,554.9 868.9,558.5 869.9,567.4 870.9,580.7 871.9,597 872.9,615.4 873.9,634.6 874.9,653.6 875.9,671.2 876.9,686.4 877.9,698 878.9,704.8 879.9,706 880.9,704.1 881.9,700.4 882.9,695.8 883.9,690.9 884.9,685.7 885.9,678.4 886.9,669.6 887.9,660.1 888.9,650.7 889.9,642.3 890.9,635.6 891.9,631.4 892.9,630.5 893.9,631.1 894.9,632.3 895.9,633.9 896.9,635.8 897.9,637.8 898.9,639.9 899.9,641.7 900.9,643.3 901.9,644.4 902.9,644.8 903.9,639 904.9,620.4 905.9,594.4 906.9,566.1 907.9,541 908.9,524.5 909.9,521.4 910.9,528.7 911.9,543.3 912.9,563.6 913.9,588 914.9,614.9 915.9,642.7 916.9,669.7 917.9,694.4 918.9,715.1 919.9,730.1 920.9,738 921.9,736.7 922.9,725 923.9,705.6 924.9,681.5 925.9,655.6 926.9,630.9 927.9,610.5 928.9,597.3 929.9,594.1 930.9,597 931.9,602.6 932.9,609.3 933.9,615.7 934.9,620.2 935.9,621.1 936.9,615.6 937.9,606.1 938.9,596.7 939.9,591.5 940.9,592.9 941.9,597.8 942.9,604 943.9,609.1 944.9,610.9 945.9,608.3 946.9,602.5 947.9,594.7 948.9,586.2 949.9,578.2 950.9,572.2 951.9,569.3 952.9,572.2 953.9,583.5 954.9,601.1 955.9,622.9 956.9,646.8 957.9,670.8 958.9,692.8 959.9,710.7 960.9,722.3 961.9,725.7 962.9,723.2 963.9,717.5 964.9,709.6 965.9,700.4 966.9,690.8 967.9,681.8 968.9,674.2 969.9,668.9 970.9,667 971.9,672.4 972.9,686.4 973.9,705.9 974.9,728 975.9,749.9 976.9,768.5 977.9,780.9 978.9,784.3 979.9,777.6 980.9,762.9 981.9,742.2 982.9,717.8 983.9,691.7 984.9,666.1 985.9,643.1 986.9,624.9 987.9,613.6 988.9,611.1 989.9,614.3 990.9,621.1 991.9,630.6 992.9,642.3 993.9,655.3 994.9,668.9 995.9,682.5 996.9,695.2 997.9,706.3 998.9,715.2 999.9,721 1000.9,723.1 1001.9,719.3 1002.9,709.4 1003.9,695.5 1004.9,679.7 1005.9,664.1 1006.9,650.8 1007.9,641.8 1008.9,639.3 1009.9,643 1010.9,650 1011.9,658.2 1012.9,665 1013.9,667.9 1014.9,664 1015.9,656.9 1016.9,655.1 1017.9,657 1018.9,658.7 1019.9,658.3 1020.9,656.3 1021.9,653 1022.9,648.8 1023.9,644.2 1024.9,639.5 1025.9,635.1 1026.9,631.4 1027.9,628.7 1028.9,627.5 1029.9,628.4 1030.9,631.6 1031.9,636.7 1032.9,643.3 1033.9,650.9 1034.9,659.3 1035.9,667.8 1036.9,676.2 1037.9,683.9 1038.9,690.6 1039.9,696 1040.9,701.5 1041.9,707.2 1042.9,712.7 1043.9,718 1044.9,722.5 1045.9,726.1 1046.9,728.5 1047.9,729.3 1048.9,727.5 1049.9,723.3 1050.9,717.7 1051.9,711.7 1052.9,706.4 1053.9,702.8 1054.9,702 1055.9,704.7 1056.9,709.6 1057.9,715.2 1058.9,719.7 1059.9,721.4 1060.9,719.3 1061.9,714 1062.9,706.3 1063.9,697.2 1064.9,687.8 1065.9,678.9 1066.9,671.6 1067.9,666.7 1068.9,665.4 1069.9,670.4 1070.9,680.7 1071.9,693.9 1072.9,707.4 1073.9,718.6 1074.9,724.8 1075.9,724.3 1076.9,719 1077.9,710.3 1078.9,699.4 1079.9,687.3 1080.9,675.3 1081.9,664.6 1082.9,656.3 1083.9,651.6 1084.9,651.8 1085.9,657.4 1086.9,666.9 1087.9,678.5 1088.9,690.4 1089.9,700.7 1090.9,707.7 1091.9,709.5 1092.9,703.8 1093.9,692.7 1094.9,680.1 1095.9,669.8 1096.9,665.3 1097.9,666.2 1098.9,668.3 1099.9,670.8 1100.9,672.7 1101.9,672.8 1102.9,666.5 1103.9,654.1 1104.9,638 1105.9,620.6 1106.9,604.1 1107.9,590.1 1108.9,576.1 1109.9,561.7 1110.9,547.2 1111.9,532.7 1112.9,518.6 1113.9,505.1 1114.9,492.3 1115.9,480.5 1116.9,468.6 1117.9,456.3 1118.9,443.7 1119.9,430.9 1120.9,418.1 1121.9,405.5 1122.9,393.3 1123.9,381.5 1124.9,370.3 1125.9,359.9 1126.9,350.4 1127.9,342.1 1128.9,335 1129.9,329.3 1130.9,325.2 1131.9,322.8 1132.9,322.3 1133.9,325.4 1134.9,332 1135.9,341.1 1136.9,351.8 1137.9,363.2 1138.9,374.3 1139.9,384.2 1140.9,392.1 1141.9,396.8 1142.9,397.8 1143.9,396.5 1144.9,394 1145.9,390.8 1146.9,387.3 1147.9,384 1148.9,381.4 1149.9,379.8 1150.9,380.2 1151.9,384.9 1152.9,393.7 1153.9,406 1154.9,420.9 1155.9,437.9 1156.9,456.2 1157.9,475.2 1158.9,494.1 1159.9,512.4 1160.9,529.2 1161.9,543.9 1162.9,555.8 1163.9,564.2 1164.9,568.4 1165.9,568.3 1166.9,565.6 1167.9,561 1168.9,554.7 1169.9,547.1 1170.9,538.7 1171.9,529.8 1172.9,520.7 1173.9,512 1174.9,503.8 1175.9,496.7 1176.9,491 1177.9,487.1 1178.9,485.4 1179.9,488.5 1180.9,499.4 1181.9,514 1182.9,527.8 1183.9,536.5 1184.9,536.6 1185.9,531.5 1186.9,522.5 1187.9,510.7 1188.9,496.8 1189.9,482 1190.9,467.2 1191.9,453.2 1192.9,441.1 1193.9,431.9 1194.9,426.4 1195.9,425.7 1196.9,431.8 1197.9,443.5 1198.9,459.3 1199.9,477.5 1200.9,496.5 1201.9,514.6 1202.9,530.2 1203.9,541.8 1204.9,547.5 1205.9,547.3 1206.9,544.4 1207.9,540.1 1208.9,534.9 1209.9,529.7 1210.9,523.2 1211.9,514.4 1212.9,504.9 1213.9,495.9 1214.9,489 1215.9,485.5 1216.9,485.6 1217.9,486.8 1218.9,488.8 1219.9,491.5 1220.9,494.8 1221.9,498.6 1222.9,505.1 1223.9,519.1 1224.9,537.5 1225.9,557.1 1226.9,574.5 1227.9,586.3 1228.9,589.5 1229.9,584.3 1230.9,573.2 1231.9,558.2 1232.9,541.1 1233.9,523.9 1234.9,508.3 1235.9,496.3 1236.9,489.8 1237.9,490.6 1238.9,498.8 1239.9,512.7 1240.9,530.7 1241.9,551.2 1242.9,572.5 1243.9,592.9 1244.9,610.8 1245.9,624.6 1246.9,632.7 1247.9,633.6 1248.9,630.1 1249.9,625.2 1250.9,621.5 1251.9,621.4 1252.9,624.8 1253.9,630.4 1254.9,637.5 1255.9,645 1256.9,651.8 1257.9,657.1 1258.9,659.9 1259.9,659.2 1260.9,655.2 1261.9,648.8 1262.9,641.1 1263.9,633.2 1264.9,626.1 1265.9,620.8 1266.9,618.4 1267.9,621.4 1268.9,631.1 1269.9,645.3 1270.9,661.4 1271.9,677 1272.9,689.7 1273.9,697.1 1274.9,696.4 1275.9,686.7 1276.9,669.7 1277.9,647.7 1278.9,623 1279.9,597.6 1280.9,573.7 1281.9,553.7 1282.9,539.6 1283.9,533.6 1284.9,535.2 1285.9,540.7 1286.9,549.1 1287.9,559.6 1288.9,571.5 1289.9,584.1 1290.9,596.3 1291.9,607.6 1292.9,617 1293.9,623.9 1294.9,627.3 1295.9,627.1 1296.9,625.1 1297.9,622 1298.9,618.3 1299.9,614.5 1300.9,610 1301.9,603.8 1302.9,597.1 1303.9,590.8 1304.9,585.8 1305.9,583.3 1306.9,584 1307.9,587.3 1308.9,592.1 1309.9,597.2 1310.9,601.5 1311.9,603.9 1312.9,603.3 1313.9,600.2 1314.9,595.1 1315.9,588.5 1316.9,581.2 1317.9,573.5 1318.9,566.1 1319.9,559.6 1320.9,554.4 1321.9,551.3 1322.9,550.8 1323.9,556 1324.9,565.8 1325.9,578.1 1326.9,590.3 1327.9,600 1328.9,605.1 1329.9,604.5 1330.9,601.3 1331.9,596.5 1332.9,591 1333.9,585.7 1334.9,581.6 1335.9,579.4 1336.9,581.3 1337.9,590.2 1338.9,603.5 1339.9,618.7 1340.9,633.1 1341.9,644 1342.9,648.7 1343.9,646.6 1344.9,640 1345.9,629.9 1346.9,617.4 1347.9,603.5 1348.9,589.3 1349.9,575.9 1350.9,564.2 1351.9,555.3 1352.9,550.3 1353.9,550 1354.9,553.2 1355.9,559 1356.9,566.6 1357.9,575.3 1358.9,584.3 1359.9,593 1360.9,600.5 1361.9,606.2 1362.9,609.3 1363.9,608.8 1364.9,604 1365.9,596.9 1366.9,589.8 1367.9,584.7 1368.9,583.6 1369.9,584.8 1370.9,587.1 1371.9,590.2 1372.9,593.6 1373.9,599.4 1374.9,609.5 1375.9,622.5 1376.9,636.9 1377.9,651.3 1378.9,664.1 1379.9,674 1380.9,679.5 1381.9,679.2 1382.9,674 1383.9,665.6 1384.9,655.3 1385.9,645 1386.9,636.2 1387.9,629.7 1388.9,623.3 1389.9,616.8 1390.9,610.4 1391.9,604.1 1392.9,598.3 1393.9,593 1394.9,588.5 1395.9,584.9 1396.9,582.3 1397.9,581.1 1398.9,581.4 1399.9,584.4 1400.9,589.4 1401.9,596.1 1402.9,604 1403.9,612.5 1404.9,621.1 1405.9,629.4 1406.9,636.8 1407.9,642.8 1408.9,647 1409.9,648.7 1410.9,646 1411.9,636.8 1412.9,623.6 1413.9,608.5 1414.9,593.9 1415.9,582 1416.9,575.2 1417.9,575.6 1418.9,582.7 1419.9,592.8 1420.9,602.1 1421.9,606.9 1422.9,605.1 1423.9,599.8 1424.9,594.2 1425.9,591.4 1426.9,592.9 1427.9,596.4 1428.9,599.6 1429.9,600.3 1430.9,596.7 1431.9,589.9 1432.9,581.9 1433.9,574.4 1434.9,569.2 1435.9,567.9 1436.9,568.8 1437.9,570.6 1438.9,573.2 1439.9,576.6 1440.9,580.6 1441.9,585.1 1442.9,590 1443.9,595.1 1444.9,600.4 1445.9,605.7 1446.9,611 1447.9,616 1448.9,620.7 1449.9,625 1450.9,629.2 1451.9,633.8 1452.9,638.6 1453.9,643.4 1454.9,648 1455.9,652.3 1456.9,656.1 1457.9,659.2 1458.9,661.5 1459.9,662.9 1460.9,664 1461.9,664.8 1462.9,665.6 1463.9,666.4 1464.9,667.4 1465.9,668.7 1466.9,670.4 1467.9,672.4 1468.9,674.7 1469.9,677.3 1470.9,680 1471.9,683 1472.9,686.1 1473.9,690.2 1474.9,695.5 1475.9,701.5 1476.9,707.7 1477.9,713.7 1478.9,719.1 1479.9,723.4 1480.9,726.2 1481.9,727 1482.9,725.4 1483.9,721.2 1484.9,714.9 1485.9,706.9 1486.9,697.6 1487.9,687.5 1488.9,677 1489.9,666.4 1490.9,656.2 1491.9,646.8 1492.9,638.6 1493.9,632 1494.9,627.5 1495.9,625.4 1496.9,626.7 1497.9,632.1 1498.9,640.2 1499.9,649.7 1500.9,659 1501.9,666.8 1502.9,671.5 1503.9,671.8 1504.9,668.2 1505.9,663.8 1506.9,661.8 1507.9,664.3 1508.9,670.8 1509.9,680.8 1510.9,693.9 1511.9,709.3 1512.9,726.5 1513.9,745 1514.9,764.3 1515.9,783.7 1516.9,802.7 1517.9,820.8 1518.9,837.4 1519.9,851.9 1520.9,863.8 1521.9,872.5 1522.9,877.4 1523.9,878.1 1524.9,873.8 1525.9,865.2 1526.9,853 1527.9,838.2 1528.9,821.4 1529.9,803.6 1530.9,785.6 1531.9,768.1 1532.9,752 1533.9,738 1534.9,727.1 1535.9,720 1536.9,716.1 1537.9,712.9 1538.9,710.3 1539.9,708.1 1540.9,706.1 1541.9,704.3 1542.9,702.4 1543.9,700.3 1544.9,698 1545.9,695.1 1546.9,691.6 1547.9,686.6 1548.9,680.2 1549.9,672.9 1550.9,665.2 1551.9,657.5 1552.9,650.5 1553.9,644.4 1554.9,639.9 1555.9,637.4 1556.9,637.6 1557.9,641.9 1558.9,648.9 1559.9,656.7 1560.9,663.3 1561.9,666.9 1562.9,665.7 1563.9,660.1 1564.9,651.1 1565.9,639.6 1566.9,626.6 1567.9,613.2 1568.9,600.2 1569.9,588.8 1570.9,579.8 1571.9,574.3 1572.9,573.2 1573.9,575.6 1574.9,580.5 1575.9,587.2 1576.9,595.3 1577.9,604.1 1578.9,612.9 1579.9,621.3 1580.9,628.6 1581.9,634.3 1582.9,637.6 1583.9,638.1 1584.9,634.2 1585.9,626.5 1586.9,615.8 1587.9,602.8 1588.9,588.5 1589.9,573.6 1590.9,559 1591.9,545.5 1592.9,533.9 1593.9,525.1 1594.9,519.9 1595.9,519 1596.9,521.6 1597.9,526.2 1598.9,531.4 1599.9,536.1 1600.9,538.9 1601.9,538 1602.9,531.3 1603.9,519.7 1604.9,504.5 1605.9,487.3 1606.9,469.1 1607.9,451.5 1608.9,435.7 1609.9,423.1 1610.9,415 1611.9,412.7 1612.9,413.7 1613.9,416.2 1614.9,419.8 1615.9,424.4 1616.9,429.6 1617.9,435.2 1618.9,441.1 1619.9,446.8 1620.9,453 1621.9,461.1 1622.9,470.7 1623.9,481.5 1624.9,492.9 1625.9,504.6 1626.9,516.2 1627.9,527.2 1628.9,537.3 1629.9,546.1 1630.9,553 1631.9,557.8 1632.9,560 1633.9,558.9 1634.9,554.5 1635.9,547.6 1636.9,539.1 1637.9,530 1638.9,521.3 1639.9,513.8 1640.9,508.6 1641.9,506.5 1642.9,505.7 1643.9,505.1 1644.9,504.6 1645.9,504.2 1646.9,504 1647.9,504 1648.9,505.8 1649.9,509.2 1650.9,512.2 1651.9,513 1652.9,510.8 1653.9,506.1 1654.9,499.7 1655.9,492.3 1656.9,484.5 1657.9,477 1658.9,470.5 1659.9,465.2 1660.9,459.4 1661.9,453.4 1662.9,447.7 1663.9,442.7 1664.9,438.9 1665.9,436.6 1666.9,436.5 1667.9,441.6 1668.9,450.6 1669.9,461.7 1670.9,472.8 1671.9,481.8 1672.9,486.7 1673.9,487.7 1674.9,488.3 1675.9,488.7 1676.9,489.5 1677.9,492.2 1678.9,497.7 1679.9,504.6 1680.9,511.5 1681.9,516.8 1682.9,519.1 1683.9,517.3 1684.9,512.9 1685.9,508.7 1686.9,507.7 1687.9,513.1 1688.9,524.1 1689.9,539 1690.9,555.9 1691.9,573.2 1692.9,589 1693.9,601.5 1694.9,609.1 1695.9,610.1 1696.9,606.5 1697.9,600 1698.9,592 1699.9,583.8 1700.9,576.8 1701.9,572.3 1702.9,571.6 1703.9,575 1704.9,581.6 1705.9,590.8 1706.9,601.7 1707.9,613.4 1708.9,625.3 1709.9,636.5 1710.9,646.2 1711.9,653.6 1712.9,658 1713.9,658.5 1714.9,655.6 1715.9,650.6 1716.9,644.8 1717.9,639.5 1718.9,636 1719.9,635.3 1720.9,635.3 1721.9,635.5 1722.9,635.6 1723.9,635.9 1724.9,636.2 1725.9,636.5 1726.9,638.5 1727.9,643.9 1728.9,651.3 1729.9,659.2 1730.9,666.2 1731.9,670.8 1732.9,671.3 1733.9,664.3 1734.9,650.4 1735.9,631.5 1736.9,609.2 1737.9,585.4 1738.9,561.8 1739.9,540.2 1740.9,522.4 1741.9,510 1742.9,504.8 1743.9,507.7 1744.9,516.7 1745.9,530.2 1746.9,546.8 1747.9,564.9 1748.9,582.8 1749.9,599 1750.9,612 1751.9,620.2 1752.9,622 1753.9,617.1 1754.9,606.7 1755.9,592.2 1756.9,575 1757.9,556.5 1758.9,538 1759.9,520.9 1760.9,506.6 1761.9,496.5 1762.9,491.9 1763.9,493.7 1764.9,500.9 1765.9,512.4 1766.9,527 1767.9,543.6 1768.9,561.1 1769.9,578.4 1770.9,594.4 1771.9,607.9 1772.9,617.8 1773.9,623 1774.9,623 1775.9,620.9 1776.9,618.7 1777.9,618.9 1778.9,624.2 1779.9,634 1780.9,647.5 1781.9,663.7 1782.9,681.8 1783.9,700.6 1784.9,719.4 1785.9,737.1 1786.9,752.9 1787.9,766.3 1788.9,779.7 1789.9,793.1 1790.9,806.3 1791.9,818.8 1792.9,830.5 1793.9,840.9 1794.9,850 1795.9,859 1796.9,868 1797.9,876.3 1798.9,883.2 1799.9,887.9 1800.9,889.7 1801.9,884.3 1802.9,869.3 1803.9,847.6 1804.9,822.2 1805.9,795.7 1806.9,771.2 1807.9,751.5 1808.9,739.4 1809.9,737.2 1810.9,739.6 1811.9,743.7 1812.9,748.6 1813.9,753 1814.9,756 1815.9,756 1816.9,749.2 1817.9,735.7 1818.9,717.2 1819.9,695 1820.9,670.8 1821.9,646 1822.9,622.1 1823.9,600.7 1824.9,583.2 1825.9,571.2 1826.9,566.2 1827.9,570.1 1828.9,583.1 1829.9,602.9 1830.9,627.3 1831.9,654 1832.9,681 1833.9,705.9 1834.9,726.5 1835.9,740.7 1836.9,746.2 1837.9,742 1838.9,730.3 1839.9,713.2 1840.9,692.7 1841.9,670.9 1842.9,650 1843.9,632 1844.9,619.1 1845.9,613.2 1846.9,615.4 1847.9,623.7 1848.9,636.7 1849.9,653.1 1850.9,671.7 1851.9,691 1852.9,710 1853.9,727.2 1854.9,741.3 1855.9,751.1 1856.9,755.2 1857.9,751.8 1858.9,740.3 1859.9,722.9 1860.9,701.7 1861.9,678.8 1862.9,656.3 1863.9,636.2 1864.9,620.6 1865.9,611.8 1866.9,610.6 1867.9,611.2 1868.9,612.4 1869.9,613.9 1870.9,615.8 1871.9,617.8 1872.9,620.5 1873.9,625.1 1874.9,630.9 1875.9,637.1 1876.9,642.8 1877.9,647.2 1878.9,649.5 1879.9,648.4 1880.9,643 1881.9,634.1 1882.9,622.7 1883.9,609.6 1884.9,596 1885.9,582.6 1886.9,570.6 1887.9,560.8 1888.9,554.2 1889.9,551.8 1890.9,554.1 1891.9,560.3 1892.9,569.4 1893.9,580.4 1894.9,592.3 1895.9,604 1896.9,614.4 1897.9,622.7 1898.9,627.7 1899.9,628.5 1900.9,625.3 1901.9,619.4 1902.9,612 1903.9,604.3 1904.9,597.5 1905.9,592.8 1906.9,590.1 1907.9,587.6 1908.9,585.4 1909.9,583.6 1910.9,582.3 1911.9,581.8 1912.9,582.9 1913.9,586.7 1914.9,592.7 1915.9,599.9 1916.9,607.5 1917.9,614.9 1918.9,621.2 1919.9,625.7 1920.9,627.4 1921.9,627.3 1922.9,626.9 1923.9,626.4 1924.9,625.6 1925.9,624 1926.9,621.4 1927.9,618 1928.9,613.9 1929.9,609.4 1930.9,604.4 1931.9,599.1 1932.9,593.7 1933.9,588.3 1934.9,583 1935.9,577.9 1936.9,573.2 1937.9,569 1938.9,565.3 1939.9,562.5 1940.9,560 1941.9,557.5 1942.9,555.2 1943.9,553.1 1944.9,551.6 1945.9,550.6 1946.9,550.8 1947.9,554.8 1948.9,562.5 1949.9,572.9 1950.9,585.1 1951.9,598.2 1952.9,611 1953.9,622.8 1954.9,632.5 1955.9,639.1 1956.9,641.8 1957.9,640.8 1958.9,637.8 1959.9,633.2 1960.9,627.6 1961.9,621.4 1962.9,615.1 1963.9,609.1 1964.9,603.9 1965.9,599.9 1966.9,597.7 1967.9,598.9 1968.9,609.4 1969.9,627.1 1970.9,648.8 1971.9,670.9 1972.9,690.2 1973.9,703.3 1974.9,706.8 1975.9,699 1976.9,682.6 1977.9,661 1978.9,637.3 1979.9,615 1980.9,597.4 1981.9,587.9 1982.9,587.6 1983.9,590.9 1984.9,597.3 1985.9,607.1 1986.9,620.5 1987.9,637.7 1988.9,658.9 1989.1,662.7"/>
<path stroke="#ff0000" d="M332.9,676.6 333.9,693.1 334.9,705.6 335.9,713 336.9,713.8 337.9,705.2 338.9,688.5 339.9,665.7 340.9,638.9 341.9,610.3 342.9,581.9 343.9,555.9 344.9,534.5 345.9,519.6 346.9,513.6 347.9,516.1 348.9,524.2 349.9,536.9 350.9,553.1 351.9,571.7 352.9,591.7 353.9,612.2 354.9,631.9 355.9,649.9 356.9,665.2 357.9,676.6 358.9,683.2 359.9,683.9 360.9,678.4 361.9,668.1 362.9,654.2 363.9,638.3 364.9,621.7 365.9,605.9 366.9,592.4 367.9,582.5 368.9,577.7 369.9,578.9 370.9,585 371.9,594.9 372.9,607.3 373.9,621.2 374.9,635.3 375.9,648.5 376.9,659.7 377.9,667.7 378.9,671.3 379.9,670.6 380.9,668 381.9,664.4 382.9,660.8 383.9,658 384.9,657 385.9,658.3 386.9,661.2 387.9,664.7 388.9,667.9 389.9,669.9 390.9,667.4 391.9,653.3 392.9,632.5 393.9,610.7 394.9,594.1 395.9,588.4 396.9,592.4 397.9,601.7 398.9,615.1 399.9,631.2 400.9,648.6 401.9,666 402.9,682 403.9,695.2 404.9,704.3 405.9,707.9 406.9,705.9 407.9,700.5 408.9,693.1 409.9,685.4 410.9,679 411.9,675.5 412.9,676.7 413.9,683.4 414.9,694.6 415.9,709.3 416.9,726.4 417.9,744.7 418.9,763.3 419.9,781 420.9,796.7 421.9,809.4 422.9,818 423.9,821.4 424.9,818.1 425.9,808.5 426.9,794.4 427.9,777.7 428.9,760.2 429.9,744 430.9,730.9 431.9,722.7 432.9,721.6 433.9,730.8 434.9,748.6 435.9,772 436.9,797.9 437.9,823.4 438.9,845.4 439.9,861 440.9,867.1 441.9,861.7 442.9,846.6 443.9,824.1 444.9,796.4 445.9,765.8 446.9,734.7 447.9,705.2 448.9,679.9 449.9,660.8 450.9,650.4 451.9,649.7 452.9,652.6 453.9,657.5 454.9,663.5 455.9,669.5 456.9,674.8 457.9,678.3 458.9,679 459.9,673.3 460.9,661.7 461.9,646.3 462.9,629.5 463.9,613.3 464.9,600.1 465.9,592 466.9,591 467.9,596.2 468.9,606.4 469.9,620.4 470.9,637.3 471.9,655.9 472.9,675.3 473.9,694.4 474.9,712.2 475.9,727.7 476.9,739.8 477.9,747.4 478.9,749.6 479.9,743.8 480.9,730.4 481.9,711.4 482.9,688.8 483.9,664.6 484.9,640.8 485.9,619.3 486.9,602.1 487.9,591.2 488.9,588.5 489.9,592.7 490.9,601.6 491.9,614.1 492.9,628.9 493.9,645 494.9,661 495.9,675.8 496.9,688.3 497.9,697.1 498.9,701.2 499.9,698.4 500.9,687.3 501.9,670.8 502.9,651.9 503.9,633.3 504.9,618 505.9,608.8 506.9,608.6 507.9,617.5 508.9,633.8 509.9,655.7 510.9,681.2 511.9,708.6 512.9,735.9 513.9,761.4 514.9,783.3 515.9,799.6 516.9,808.5 517.9,807.9 518.9,796 519.9,775.1 520.9,748.3 521.9,718.4 522.9,688.4 523.9,661.2 524.9,639.7 525.9,626.8 526.9,625.8 527.9,639 528.9,659.3 529.9,678.2 530.9,687 531.9,681.3 532.9,665.4 533.9,643.1 534.9,618.2 535.9,594.4 536.9,575.5 537.9,565.2 538.9,566.2 539.9,574.9 540.9,588.9 541.9,606.1 542.9,624.1 543.9,640.8 544.9,654 545.9,661.4 546.9,661.6 547.9,657.5 548.9,650.5 549.9,641.6 550.9,631.7 551.9,621.8 552.9,612.8 553.9,605.8 554.9,601.6 555.9,601.4 556.9,605.9 557.9,614.4 558.9,625.8 559.9,639.2 560.9,653.5 561.9,667.8 562.9,680.9 563.9,692 564.9,699.9 565.9,703.8 566.9,702.6 567.9,696.5 568.9,686.3 569.9,672.7 570.9,656.6 571.9,638.7 572.9,619.7 573.9,600.5 574.9,581.8 575.9,564.5 576.9,549.2 577.9,536.7 578.9,527.9 579.9,523.5 580.9,524.5 581.9,531.3 582.9,542.8 583.9,558 584.9,575.7 585.9,594.6 586.9,613.6 587.9,631.7 588.9,647.5 589.9,659.9 590.9,667.8 591.9,670 592.9,667.9 593.9,663.8 594.9,659.7 595.9,657.2 596.9,659.6 597.9,670.8 598.9,688.7 599.9,710.9 600.9,735.1 601.9,758.9 602.9,780.1 603.9,796.2 604.9,804.9 605.9,803.6 606.9,791.2 607.9,770.2 608.9,743.2 609.9,713.3 610.9,683 611.9,655.1 612.9,632.5 613.9,618 614.9,614.1 615.9,618.7 616.9,629 617.9,644 618.9,662.6 619.9,683.6 620.9,706.2 621.9,729.1 622.9,751.2 623.9,771.6 624.9,789.1 625.9,802.6 626.9,811.1 627.9,813.5 628.9,809.9 629.9,801.7 630.9,790.2 631.9,776.5 632.9,762 633.9,747.8 634.9,735.4 635.9,725.8 636.9,720.4 637.9,719.8 638.9,721.3 639.9,723.5 640.9,726.1 641.9,728.4 642.9,729.9 643.9,729.4 644.9,724.1 645.9,714.5 646.9,701.9 647.9,687.2 648.9,671.7 649.9,656.5 650.9,642.8 651.9,631.7 652.9,624.3 653.9,621.8 654.9,627.6 655.9,642.4 656.9,664.4 657.9,691.4 658.9,721.5 659.9,752.8 660.9,783.1 661.9,810.6 662.9,833.3 663.9,849.1 664.9,856 665.9,853.7 666.9,844.8 667.9,831.2 668.9,814.6 669.9,796.7 670.9,779.3 671.9,764 672.9,752.7 673.9,747 674.9,748.1 675.9,754.7 676.9,764.5 677.9,775.5 678.9,785.6 679.9,792.8 680.9,794.7 681.9,784.7 682.9,762.3 683.9,730.6 684.9,692.6 685.9,651.4 686.9,610 687.9,571.6 688.9,539.1 689.9,515.7 690.9,504.5 691.9,507.4 692.9,521.9 693.9,545.6 694.9,576 695.9,610.6 696.9,647 697.9,682.8 698.9,715.6 699.9,742.8 700.9,762.1 701.9,771.1 702.9,769.9 703.9,764.2 704.9,755.4 705.9,744.8 706.9,733.5 707.9,722.7 708.9,713.8 709.9,707.9 710.9,706.3 711.9,713 712.9,728.2 713.9,749.7 714.9,775.3 715.9,802.9 716.9,830.3 717.9,855.4 718.9,876.1 719.9,890.1 720.9,895.3 721.9,889.8 722.9,874.5 723.9,851.7 724.9,823.8 725.9,793 726.9,761.7 727.9,732.2 728.9,706.7 729.9,687.7 730.9,677.3 731.9,676.2 732.9,676.4 733.9,676.8 734.9,677.1 735.9,677.4 736.9,677.5 737.9,673.9 738.9,665 739.9,652.2 740.9,636.9 741.9,620.6 742.9,604.7 743.9,590.4 744.9,579.4 745.9,572.9 746.9,573 747.9,582.6 748.9,594.7 749.9,600.5 750.9,596.3 751.9,586.3 752.9,573.7 753.9,561.6 754.9,553 755.9,551.3 756.9,558.1 757.9,571.8 758.9,590 759.9,610.5 760.9,631 761.9,649.4 762.9,663.3 763.9,670.4 764.9,669.5 765.9,662.6 766.9,651.7 767.9,638.3 768.9,624.1 769.9,610.7 770.9,599.7 771.9,592.8 772.9,591.5 773.9,593.8 774.9,598.3 775.9,604.1 776.9,610.5 777.9,616.8 778.9,624.6 779.9,634.7 780.9,646 781.9,657.4 782.9,667.8 783.9,676.2 784.9,681.5 785.9,682.3 786.9,675.6 787.9,662.5 788.9,645.9 789.9,628.6 790.9,613.4 791.9,603.2 792.9,600.6 793.9,602.2 794.9,605.4 795.9,609.2 796.9,612.9 797.9,615.4 798.9,615.9 799.9,610 800.9,597.7 801.9,581 802.9,562.2 803.9,543.1 804.9,526 805.9,512.9 806.9,505.9 807.9,507.7 808.9,516.3 809.9,519.2 810.9,512.4 811.9,502.5 812.9,496.7 813.9,501.3 814.9,514.1 815.9,529 816.9,539.8 817.9,540.8 818.9,533.9 819.9,527.1 820.9,528.1 821.9,536.3 822.9,541.8 823.9,538.5 824.9,529.1 825.9,515.1 826.9,498.2 827.9,479.9 828.9,461.9 829.9,445.6 830.9,432.7 831.9,424.8 832.9,423.3 833.9,427.8 834.9,436.5 835.9,448 836.9,460.9 837.9,473.9 838.9,485.4 839.9,494.1 840.9,498.5 841.9,495.5 842.9,481.6 843.9,460 844.9,434.4 845.9,408.5 846.9,386 847.9,370.5 848.9,365.7 849.9,366.8 850.9,369.5 851.9,373.4 852.9,378.3 853.9,385 854.9,402.4 855.9,428.7 856.9,460.3 857.9,493 858.9,522.9 859.9,546.2 860.9,558.8 861.9,559.2 862.9,554.9 863.9,548.1 864.9,540.4 865.9,533.2 866.9,528 867.9,526.2 868.9,531.2 869.9,543.8 870.9,562.4 871.9,585.4 872.9,611.2 873.9,638.2 874.9,664.9 875.9,689.7 876.9,711 877.9,727.3 878.9,736.9 879.9,738.6 880.9,735.7 881.9,730.4 882.9,723.7 883.9,716.5 884.9,708.8 885.9,697.9 886.9,684.8 887.9,670.7 888.9,656.7 889.9,644.1 890.9,634.2 891.9,628 892.9,626.7 893.9,628 894.9,630.8 895.9,634.6 896.9,639.1 897.9,643.9 898.9,648.7 899.9,653.1 900.9,656.8 901.9,659.4 902.9,660.5 903.9,651.9 904.9,624.8 905.9,586.6 906.9,545.3 907.9,508.6 908.9,484.5 909.9,479.9 910.9,490.1 911.9,510.5 912.9,539 913.9,573.2 914.9,610.9 915.9,649.8 916.9,687.7 917.9,722.2 918.9,751.2 919.9,772.3 920.9,783.4 921.9,781.5 922.9,765.1 923.9,737.8 924.9,703.9 925.9,667.5 926.9,632.9 927.9,604.2 928.9,585.7 929.9,581.1 930.9,584.8 931.9,592 932.9,600.7 933.9,608.8 934.9,614.6 935.9,615.8 936.9,609.2 937.9,597.6 938.9,586.2 939.9,579.8 940.9,581.7 941.9,588.2 942.9,596.4 943.9,603.2 944.9,605.7 945.9,602 946.9,593.6 947.9,582.4 948.9,570.1 949.9,558.7 950.9,550 951.9,545.8 952.9,550 953.9,565.7 954.9,590.4 955.9,620.9 956.9,654.4 957.9,688 958.9,718.8 959.9,743.8 960.9,760.1 961.9,764.8 962.9,761.1 963.9,752.7 964.9,740.9 965.9,727.2 966.9,712.9 967.9,699.4 968.9,688.1 969.9,680.3 970.9,677.5 971.9,685.3 972.9,705.4 973.9,733.6 974.9,765.5 975.9,797.1 976.9,824 977.9,842 978.9,846.8 979.9,837.2 980.9,815.9 981.9,786.1 982.9,750.8 983.9,713.2 984.9,676.2 985.9,643.1 986.9,616.8 987.9,600.4 988.9,596.8 989.9,601.5 990.9,611.3 991.9,625.2 992.9,642.1 993.9,661.1 994.9,680.9 995.9,700.6 996.9,719.1 997.9,735.3 998.9,748.1 999.9,756.6 1000.9,759.7 1001.9,754.7 1002.9,741.7 1003.9,723.5 1004.9,702.8 1005.9,682.3 1006.9,664.8 1007.9,653.1 1008.9,649.8 1009.9,654.7 1010.9,664.4 1011.9,675.5 1012.9,684.7 1013.9,688.8 1014.9,683.3 1015.9,673.4 1016.9,670.7 1017.9,672.6 1018.9,674.4 1019.9,673.8 1020.9,671 1021.9,666.4 1022.9,660.7 1023.9,654.4 1024.9,647.9 1025.9,641.8 1026.9,636.7 1027.9,633.1 1028.9,631.5 1029.9,632.6 1030.9,636.7 1031.9,643.4 1032.9,652.1 1033.9,662.3 1034.9,673.3 1035.9,684.7 1036.9,695.9 1037.9,706.3 1038.9,715.4 1039.9,722.9 1040.9,730.7 1041.9,738.8 1042.9,746.9 1043.9,754.5 1044.9,761.1 1045.9,766.4 1046.9,769.8 1047.9,771 1048.9,768.5 1049.9,762.3 1050.9,754 1051.9,745.1 1052.9,737.2 1053.9,731.9 1054.9,730.8 1055.9,734.7 1056.9,742 1057.9,750.1 1058.9,756.7 1059.9,759.3 1060.9,756.3 1061.9,748.8 1062.9,738.1 1063.9,725.5 1064.9,712.3 1065.9,699.9 1066.9,689.7 1067.9,683 1068.9,681.1 1069.9,688 1070.9,702.4 1071.9,720.8 1072.9,739.6 1073.9,755.1 1074.9,763.7 1075.9,763 1076.9,755.6 1077.9,743.4 1078.9,728 1079.9,711.1 1080.9,694.3 1081.9,679.2 1082.9,667.6 1083.9,661 1084.9,661.2 1085.9,669.1 1086.9,682.5 1087.9,698.7 1088.9,715.3 1089.9,729.8 1090.9,739.6 1091.9,742.1 1092.9,734.1 1093.9,718.8 1094.9,701.4 1095.9,687.1 1096.9,681 1097.9,682 1098.9,684.5 1099.9,687.4 1100.9,689.6 1101.9,689.7 1102.9,682.3 1103.9,667.7 1104.9,648.4 1105.9,627.1 1106.9,606.2 1107.9,587.4 1108.9,567.2 1109.9,545.5 1110.9,523.1 1111.9,500.4 1112.9,478.1 1113.9,456.7 1114.9,437 1115.9,419.4 1116.9,402.2 1117.9,384.4 1118.9,366.3 1119.9,348.1 1120.9,330 1121.9,312.2 1122.9,294.9 1123.9,278.3 1124.9,262.6 1125.9,248.1 1126.9,234.9 1127.9,223.3 1128.9,213.4 1129.9,205.5 1130.9,199.8 1131.9,196.5 1132.9,195.8 1133.9,200.3 1134.9,209.8 1135.9,223 1136.9,238.5 1137.9,255 1138.9,271.1 1139.9,285.5 1140.9,296.8 1141.9,303.8 1142.9,305.1 1143.9,303.3 1144.9,299.7 1145.9,295.2 1146.9,290.2 1147.9,285.5 1148.9,281.7 1149.9,279.5 1150.9,280 1151.9,286.6 1152.9,298.9 1153.9,316 1154.9,337 1155.9,360.7 1156.9,386.4 1157.9,413 1158.9,439.5 1159.9,465 1160.9,488.5 1161.9,509.1 1162.9,525.8 1163.9,537.5 1164.9,543.5 1165.9,543.3 1166.9,539.7 1167.9,533.2 1168.9,524.6 1169.9,514.2 1170.9,502.6 1171.9,490.3 1172.9,477.9 1173.9,465.8 1174.9,454.7 1175.9,444.9 1176.9,437.1 1177.9,431.7 1178.9,429.3 1179.9,433.6 1180.9,448.6 1181.9,468.7 1182.9,487.7 1183.9,499.5 1184.9,499.8 1185.9,492.6 1186.9,479.9 1187.9,463.2 1188.9,443.8 1189.9,422.9 1190.9,402 1191.9,382.4 1192.9,365.4 1193.9,352.4 1194.9,344.6 1195.9,343.7 1196.9,352.2 1197.9,368.7 1198.9,390.8 1199.9,416.4 1200.9,443 1201.9,468.5 1202.9,490.5 1203.9,506.7 1204.9,514.8 1205.9,514.4 1206.9,510.6 1207.9,504.7 1208.9,497.7 1209.9,490.5 1210.9,481.4 1211.9,468.8 1212.9,455 1213.9,442.1 1214.9,432 1215.9,426.8 1216.9,427 1217.9,428.9 1218.9,432 1219.9,436.3 1220.9,441.4 1221.9,447.1 1222.9,456.6 1223.9,475.8 1224.9,500.9 1225.9,527.4 1226.9,550.9 1227.9,566.9 1228.9,571.2 1229.9,563.9 1230.9,548.6 1231.9,527.7 1232.9,504 1233.9,480 1234.9,458.3 1235.9,441.7 1236.9,432.7 1237.9,433.9 1238.9,445.5 1239.9,465.4 1240.9,491.2 1241.9,520.6 1242.9,551 1243.9,580.3 1244.9,606 1245.9,625.8 1246.9,637.3 1247.9,638.7 1248.9,633.8 1249.9,626.9 1250.9,621.8 1251.9,621.6 1252.9,626.2 1253.9,633.9 1254.9,643.6 1255.9,653.8 1256.9,663.2 1257.9,670.4 1258.9,674.2 1259.9,673.2 1260.9,667.5 1261.9,658.5 1262.9,647.8 1263.9,636.6 1264.9,626.6 1265.9,619.2 1266.9,615.8 1267.9,619.8 1268.9,633.1 1269.9,652.4 1270.9,674.3 1271.9,695.6 1272.9,712.9 1273.9,722.8 1274.9,721.9 1275.9,708.3 1276.9,684.6 1277.9,653.9 1278.9,619.3 1279.9,583.8 1280.9,550.5 1281.9,522.5 1282.9,502.8 1283.9,494.5 1284.9,496.8 1285.9,504.5 1286.9,516.4 1287.9,531.3 1288.9,548.2 1289.9,565.9 1290.9,583.3 1291.9,599.3 1292.9,612.7 1293.9,622.3 1294.9,627.2 1295.9,627 1296.9,624.7 1297.9,621 1298.9,616.6 1299.9,612 1300.9,605.6 1301.9,596.6 1302.9,586.4 1303.9,576.7 1304.9,569.1 1305.9,565.1 1306.9,566 1307.9,570.8 1308.9,577.7 1309.9,585.1 1310.9,591.3 1311.9,594.7 1312.9,593.9 1313.9,589.5 1314.9,582.2 1315.9,573 1316.9,562.6 1317.9,551.7 1318.9,541.3 1319.9,532 1320.9,524.7 1321.9,520.3 1322.9,519.6 1323.9,527 1324.9,541.1 1325.9,558.5 1326.9,576 1327.9,590 1328.9,597.2 1329.9,596.2 1330.9,591.3 1331.9,583.8 1332.9,575.3 1333.9,567.1 1334.9,560.7 1335.9,557.3 1336.9,560.4 1337.9,574.4 1338.9,595.5 1339.9,619.6 1340.9,642.3 1341.9,659.5 1342.9,667 1343.9,663.8 1344.9,653.6 1345.9,638.2 1346.9,619.1 1347.9,598 1348.9,576.3 1349.9,555.8 1350.9,537.9 1351.9,524.4 1352.9,516.8 1353.9,516.3 1354.9,521.3 1355.9,530.4 1356.9,542.3 1357.9,555.9 1358.9,570 1359.9,583.6 1360.9,595.4 1361.9,604.3 1362.9,609.1 1363.9,608.2 1364.9,600.4 1365.9,588.7 1366.9,576.8 1367.9,568.5 1368.9,566.7 1369.9,568.3 1370.9,571.5 1371.9,575.7 1372.9,580.5 1373.9,588.5 1374.9,602.5 1375.9,620.6 1376.9,640.7 1377.9,660.7 1378.9,678.7 1379.9,692.5 1380.9,700.1 1381.9,700.3 1382.9,695.9 1383.9,688.6 1384.9,679.5 1385.9,669.7 1386.9,660.3 1387.9,651.9 1388.9,642.2 1389.9,631.3 1390.9,619.8 1391.9,608 1392.9,596.5 1393.9,585.8 1394.9,576.4 1395.9,568.7 1396.9,563.1 1397.9,560.3 1398.9,560.8 1399.9,565.1 1400.9,572.5 1401.9,582.3 1402.9,593.8 1403.9,606.2 1404.9,618.8 1405.9,630.9 1406.9,641.7 1407.9,650.5 1408.9,656.6 1409.9,659.2 1410.9,655.1 1411.9,641.8 1412.9,622.5 1413.9,600.6 1414.9,579.3 1415.9,562 1416.9,552.1 1417.9,552.9 1418.9,563.9 1419.9,579.6 1420.9,594.2 1421.9,601.7 1422.9,598.8 1423.9,590.4 1424.9,581.5 1425.9,577 1426.9,579.8 1427.9,586.3 1428.9,592.3 1429.9,593.7 1430.9,588.1 1431.9,577.9 1432.9,565.7 1433.9,554.2 1434.9,546.3 1435.9,544.5 1436.9,545.8 1437.9,548.8 1438.9,553.1 1439.9,558.6 1440.9,565 1441.9,572.2 1442.9,580 1443.9,588.1 1444.9,596.3 1445.9,604.5 1446.9,612.5 1447.9,620 1448.9,626.8 1449.9,632.8 1450.9,638.3 1451.9,644.2 1452.9,650.2 1453.9,656 1454.9,661.6 1455.9,666.7 1456.9,671.1 1457.9,674.7 1458.9,677.1 1459.9,678.6 1460.9,679.7 1461.9,680.5 1462.9,681.2 1463.9,682 1464.9,683 1465.9,684.4 1466.9,686.4 1467.9,688.9 1468.9,691.9 1469.9,695.3 1470.9,699 1471.9,703 1472.9,707.2 1473.9,713 1474.9,720.5 1475.9,729.1 1476.9,738 1477.9,746.7 1478.9,754.5 1479.9,760.8 1480.9,764.9 1481.9,766.2 1482.9,763.8 1483.9,758 1484.9,749.3 1485.9,738.3 1486.9,725.5 1487.9,711.5 1488.9,696.9 1489.9,682.2 1490.9,668.1 1491.9,655.1 1492.9,643.7 1493.9,634.6 1494.9,628.3 1495.9,625.4 1496.9,627.2 1497.9,634.5 1498.9,645.6 1499.9,658.5 1500.9,671.2 1501.9,681.7 1502.9,688.2 1503.9,688.6 1504.9,683.6 1505.9,677.6 1506.9,674.9 1507.9,678.3 1508.9,687.5 1509.9,701.7 1510.9,720 1511.9,741.7 1512.9,766 1513.9,792.1 1514.9,819.3 1515.9,846.7 1516.9,873.5 1517.9,899 1518.9,922.3 1519.9,942.8 1520.9,959.5 1521.9,971.8 1522.9,978.8 1523.9,979.7 1524.9,973.2 1525.9,960.2 1526.9,942 1527.9,919.8 1528.9,894.9 1529.9,868.5 1530.9,841.8 1531.9,816.1 1532.9,792.8 1533.9,772.9 1534.9,757.8 1535.9,748.8 1536.9,744.7 1537.9,741.5 1538.9,738.9 1539.9,736.8 1540.9,735 1541.9,733.3 1542.9,731.5 1543.9,729.5 1544.9,727.1 1545.9,724 1546.9,720.1 1547.9,713.5 1548.9,704.5 1549.9,693.9 1550.9,682.5 1551.9,671.1 1552.9,660.3 1553.9,651.1 1554.9,644.1 1555.9,640.2 1556.9,640.5 1557.9,646.7 1558.9,656.7 1559.9,667.8 1560.9,677.3 1561.9,682.4 1562.9,680.8 1563.9,673 1564.9,660.3 1565.9,644.2 1566.9,626 1567.9,607.1 1568.9,589 1569.9,572.9 1570.9,560.3 1571.9,552.7 1572.9,551.1 1573.9,554.5 1574.9,561.6 1575.9,571.3 1576.9,582.9 1577.9,595.5 1578.9,608.3 1579.9,620.4 1580.9,630.9 1581.9,639 1582.9,643.9 1583.9,644.5 1584.9,639 1585.9,628.1 1586.9,612.9 1587.9,594.5 1588.9,574.1 1589.9,553 1590.9,532.3 1591.9,513.1 1592.9,496.7 1593.9,484.2 1594.9,476.8 1595.9,475.5 1596.9,479.4 1597.9,486.1 1598.9,493.8 1599.9,500.7 1600.9,504.8 1601.9,503.6 1602.9,494 1603.9,477.6 1604.9,456.1 1605.9,431.6 1606.9,405.9 1607.9,380.9 1608.9,358.5 1609.9,340.6 1610.9,329.1 1611.9,325.8 1612.9,327.2 1613.9,330.7 1614.9,335.7 1615.9,342.1 1616.9,349.3 1617.9,357.2 1618.9,365.3 1619.9,373.3 1620.9,382 1621.9,393.4 1622.9,407.1 1623.9,422.3 1624.9,438.5 1625.9,455.1 1626.9,471.6 1627.9,487.3 1628.9,501.6 1629.9,514 1630.9,523.9 1631.9,530.7 1632.9,533.8 1633.9,532.3 1634.9,525.7 1635.9,515.5 1636.9,503 1637.9,489.6 1638.9,476.8 1639.9,465.9 1640.9,458.4 1641.9,455.6 1642.9,454.8 1643.9,454.2 1644.9,453.7 1645.9,453.4 1646.9,453.1 1647.9,453.1 1648.9,455.8 1649.9,460.5 1650.9,464.8 1651.9,466 1652.9,463.2 1653.9,457.1 1654.9,448.8 1655.9,439.1 1656.9,428.7 1657.9,418.8 1658.9,409.9 1659.9,402.3 1660.9,393.8 1661.9,385 1662.9,376.4 1663.9,368.8 1664.9,362.8 1665.9,359.3 1666.9,359.3 1667.9,366.9 1668.9,380.5 1669.9,397 1670.9,413.3 1671.9,426 1672.9,432.1 1673.9,432.2 1674.9,432.2 1675.9,432.2 1676.9,432.2 1677.9,435 1678.9,442.8 1679.9,453.3 1680.9,463.9 1681.9,472.3 1682.9,476.1 1683.9,473.4 1684.9,466.7 1685.9,460.5 1686.9,459 1687.9,466.6 1688.9,482.2 1689.9,503.1 1690.9,527 1691.9,551.4 1692.9,573.6 1693.9,591.3 1694.9,602 1695.9,603.4 1696.9,598.1 1697.9,588.6 1698.9,576.9 1699.9,564.9 1700.9,554.6 1701.9,547.9 1702.9,546.9 1703.9,551.8 1704.9,561.3 1705.9,574.4 1706.9,590 1707.9,606.9 1708.9,623.9 1709.9,639.9 1710.9,653.8 1711.9,664.5 1712.9,670.7 1713.9,671.4 1714.9,667.2 1715.9,660 1716.9,651.6 1717.9,643.9 1718.9,638.9 1719.9,637.9 1720.9,638.2 1721.9,638.9 1722.9,639.8 1723.9,641.1 1724.9,642.5 1725.9,644.2 1726.9,647.7 1727.9,655.1 1728.9,664.6 1729.9,674.6 1730.9,683.2 1731.9,688.9 1732.9,689.3 1733.9,679.5 1734.9,660 1735.9,633.4 1736.9,602.1 1737.9,568.6 1738.9,535.4 1739.9,505 1740.9,479.9 1741.9,462.5 1742.9,455.3 1743.9,459.3 1744.9,472 1745.9,491.1 1746.9,514.5 1747.9,540 1748.9,565.3 1749.9,588.2 1750.9,606.5 1751.9,618 1752.9,620.6 1753.9,613.7 1754.9,599 1755.9,578.6 1756.9,554.3 1757.9,528.2 1758.9,502.1 1759.9,478 1760.9,457.9 1761.9,443.6 1762.9,437.1 1763.9,439.8 1764.9,450.1 1765.9,466.6 1766.9,487.6 1767.9,511.4 1768.9,536.6 1769.9,561.4 1770.9,584.3 1771.9,603.7 1772.9,617.9 1773.9,625.4 1774.9,625.4 1775.9,622.1 1776.9,618.9 1777.9,619.1 1778.9,626.2 1779.9,639.5 1780.9,657.8 1781.9,679.8 1782.9,704.3 1783.9,730.1 1784.9,755.8 1785.9,780.4 1786.9,802.5 1787.9,821.7 1788.9,841.3 1789.9,861.4 1790.9,881.2 1791.9,900 1792.9,917.3 1793.9,932.3 1794.9,944.5 1795.9,956.1 1796.9,967.5 1797.9,977.8 1798.9,986.2 1799.9,991.9 1800.9,994.1 1801.9,986.5 1802.9,965.7 1803.9,935.5 1804.9,900 1805.9,863.2 1806.9,829 1807.9,801.5 1808.9,784.7 1809.9,781.7 1810.9,784.8 1811.9,790.3 1812.9,796.8 1813.9,802.7 1814.9,806.7 1815.9,806.7 1816.9,797.1 1817.9,778.2 1818.9,752.1 1819.9,721 1820.9,687 1821.9,652.1 1822.9,618.6 1823.9,588.5 1824.9,564 1825.9,547.2 1826.9,540.1 1827.9,545.6 1828.9,563.8 1829.9,591.4 1830.9,625.5 1831.9,663 1832.9,700.7 1833.9,735.5 1834.9,764.4 1835.9,784.2 1836.9,791.8 1837.9,785.7 1838.9,768.2 1839.9,742.7 1840.9,712.2 1841.9,679.7 1842.9,648.5 1843.9,621.7 1844.9,602.4 1845.9,593.7 1846.9,597 1847.9,609.5 1848.9,629 1849.9,653.7 1850.9,681.6 1851.9,710.8 1852.9,739.3 1853.9,765.2 1854.9,786.4 1855.9,801.2 1856.9,807.4 1857.9,802.3 1858.9,785.5 1859.9,760 1860.9,728.8 1861.9,695.2 1862.9,662 1863.9,632.5 1864.9,609.7 1865.9,596.7 1866.9,595 1867.9,596.6 1868.9,599.5 1869.9,603.3 1870.9,607.5 1871.9,612 1872.9,617.1 1873.9,624.7 1874.9,633.7 1875.9,643 1876.9,651.4 1877.9,657.8 1878.9,661.2 1879.9,659.7 1880.9,651.9 1881.9,639.2 1882.9,622.8 1883.9,604.1 1884.9,584.5 1885.9,565.4 1886.9,548.2 1887.9,534.2 1888.9,524.7 1889.9,521.2 1890.9,524.7 1891.9,534.3 1892.9,548.3 1893.9,565.1 1894.9,583.3 1895.9,601.2 1896.9,617.3 1897.9,629.9 1898.9,637.6 1899.9,638.7 1900.9,633.1 1901.9,622.6 1902.9,609.5 1903.9,595.9 1904.9,584 1905.9,576.1 1906.9,572 1907.9,568.2 1908.9,564.9 1909.9,562.2 1910.9,560.4 1911.9,559.6 1912.9,561.2 1913.9,567 1914.9,575.8 1915.9,586.5 1916.9,597.9 1917.9,608.8 1918.9,618.2 1919.9,624.8 1920.9,627.4 1921.9,627.3 1922.9,626.9 1923.9,626.4 1924.9,625.6 1925.9,623.3 1926.9,619.7 1927.9,614.9 1928.9,609.2 1929.9,602.6 1930.9,595.4 1931.9,587.9 1932.9,580.1 1933.9,572.2 1934.9,564.6 1935.9,557.2 1936.9,550.4 1937.9,544.4 1938.9,539.2 1939.9,535.2 1940.9,531.8 1941.9,528.4 1942.9,525.1 1943.9,522.3 1944.9,520.1 1945.9,518.9 1946.9,519.1 1947.9,525 1948.9,536.4 1949.9,551.8 1950.9,569.8 1951.9,589.1 1952.9,608.1 1953.9,625.5 1954.9,639.8 1955.9,649.6 1956.9,653.5 1957.9,652 1958.9,647.3 1959.9,640.2 1960.9,631.5 1961.9,621.8 1962.9,611.9 1963.9,602.5 1964.9,594.4 1965.9,588.3 1966.9,584.9 1967.9,586.5 1968.9,601.6 1969.9,627.1 1970.9,658.3 1971.9,690.2 1972.9,718 1973.9,736.9 1974.9,741.9 1975.9,730.9 1976.9,707.5 1977.9,676.7 1978.9,643 1979.9,611.3 1980.9,586.2 1981.9,572.6 1982.9,572.1 1983.9,576.5 1984.9,585.1 1985.9,598.4 1986.9,616.6 1987.9,640.1 1988.9,669.2 1989.1,674.4"/>
</g>
<path d="M331 66H334V1063H331ZM1988 66H1990V1063H1988ZM331 66H1990V68H331ZM331 1061H1990V1063H331ZM334 208H350V210H334ZM1972 208H1988V210H1972ZM334 350H350V352H334ZM1972 350H1988V352H1972ZM334 492H350V494H334ZM1972 492H1988V494H1972ZM334 635H350V637H334ZM1972 635H1988V637H1972ZM334 777H350V779H334ZM1972 777H1988V779H1972ZM334 919H350V921H334ZM1972 919H1988V921H1972ZM663 1044H665V1061H663ZM663 68H665V85H663ZM994 1044H996V1061H994ZM994 68H996V85H994ZM1325 1044H1327V1061H1325ZM1325 68H1327V85H1325ZM1657 1044H1659V1061H1657ZM1657 68H1659V85H1657Z" fill="#141414" shape-rendering="crispEdges"/>
<text x="218.9" y="94.8" font-size="76" fill="#404040" textLength="92.1" lengthAdjust="spacingAndGlyphs">0.4</text>
<text x="218.9" y="237.4" font-size="76" fill="#404040" textLength="92.1" lengthAdjust="spacingAndGlyphs">0.3</text>
<text x="218.9" y="379.1" font-size="76" fill="#404040" textLength="92.1" lengthAdjust="spacingAndGlyphs">0.2</text>
<text x="218.9" y="521.6" font-size="76" fill="#404040" textLength="92.1" lengthAdjust="spacingAndGlyphs">0.1</text>
<text x="273.4" y="662.1" font-size="76" fill="#404040" textLength="36.9" lengthAdjust="spacingAndGlyphs">0</text>
<text x="180.3" y="802.5" font-size="76" fill="#404040" textLength="133.7" lengthAdjust="spacingAndGlyphs">−0.1</text>
<text x="178.2" y="945.1" font-size="76" fill="#404040" textLength="133.7" lengthAdjust="spacingAndGlyphs">−0.2</text>
<text x="178.2" y="1091.8" font-size="76" fill="#404040" textLength="133.7" lengthAdjust="spacingAndGlyphs">−0.3</text>
<text x="323.1" y="1136.6" font-size="76" fill="#404040">0</text>
<text x="647.7" y="1136.6" font-size="76" fill="#404040">3</text>
<text x="979.7" y="1136.6" font-size="76" fill="#404040">6</text>
<text x="1310.5" y="1136.6" font-size="76" fill="#404040">9</text>
<text x="1626.5" y="1136.6" font-size="76" fill="#404040">12</text>
<text x="1947.1" y="1136.6" font-size="76" fill="#404040">15</text>
<text x="1016.1" y="1225.4" font-size="75.8" fill="#000">Time/min</text>
<text x="1003.0" y="1326.8" font-size="83.7" fill="#000">(<tspan font-weight="bold">a</tspan>)</text>
<text transform="translate(165.6 660.8) rotate(-90)" x="-3.5" y="0" font-size="82" fill="#000" textLength="55.9" lengthAdjust="spacingAndGlyphs">Δ</text>
<text transform="translate(165.6 580.3) rotate(-90)" x="-16.4" y="0" font-size="82" fill="#000" font-style="italic">f</text>
<text transform="translate(186.3 556.7) rotate(-90)" x="-13.2" y="0" font-size="50" fill="#000">1</text>
<text transform="translate(180.6 529.6) rotate(-90)" x="-0.0" y="0" font-size="77" fill="#000">/Hz</text>
<path d="M377 125H510V130H377Z" fill="#000000" shape-rendering="crispEdges"/>
<text x="524.1" y="148.6" font-size="70" fill="#000">30%</text>
<text x="683.0" y="148.6" font-size="67.8" fill="#000">penetration level</text>
<path d="M377 228H516V233H377Z" fill="#1c00bb" shape-rendering="crispEdges"/>
<text x="531.0" y="250.1" font-size="70" fill="#000">40%</text>
<text x="689.4" y="250.1" font-size="67.9" fill="#000">penetration level</text>
<path d="M377 330H515V335H377Z" fill="#e00000" shape-rendering="crispEdges"/>
<text x="530.8" y="352.6" font-size="70" fill="#000">50%</text>
<text x="689.4" y="352.6" font-size="67.9" fill="#000">penetration level</text>
</g>
<g id="chart-b">
<g fill="none" stroke-width="2.4" stroke-linejoin="round" stroke-linecap="butt" shape-rendering="crispEdges">
<path stroke="#000000" d="M336.9,2106.1 337.9,2112.1 338.9,2116.3 339.9,2119 340.9,2120.5 341.9,2121.2 342.9,2121.1 343.9,2117.2 344.9,2109 345.9,2097.9 346.9,2084.9 347.9,2071.3 348.9,2058.1 349.9,2046.7 350.9,2038.1 351.9,2033.5 352.9,2033.5 353.9,2036.1 354.9,2040.7 355.9,2046.7 356.9,2053.8 357.9,2061.7 358.9,2069.8 359.9,2077.7 360.9,2085.1 361.9,2091.6 362.9,2096.6 363.9,2099.9 364.9,2100.9 365.9,2098.3 366.9,2092.2 367.9,2083.9 368.9,2074.9 369.9,2066.4 370.9,2059.9 371.9,2056.7 372.9,2057.4 373.9,2060.8 374.9,2065.9 375.9,2072.2 376.9,2078.9 377.9,2085.3 378.9,2090.8 379.9,2094.6 380.9,2096.2 381.9,2097.3 382.9,2098 383.9,2098.3 384.9,2097.3 385.9,2095 386.9,2091.9 387.9,2088.6 388.9,2085.9 389.9,2084.2 390.9,2084.2 391.9,2085.7 392.9,2088.2 393.9,2090.9 394.9,2093.2 395.9,2094.3 396.9,2092.9 397.9,2087.7 398.9,2080.5 399.9,2073.3 400.9,2068.3 401.9,2067.1 402.9,2069.7 403.9,2074.8 404.9,2081.6 405.9,2089.3 406.9,2097.2 407.9,2104.3 408.9,2110 409.9,2113.4 410.9,2113.7 411.9,2111.3 412.9,2107.1 413.9,2102.1 414.9,2097.2 415.9,2093.5 416.9,2091.8 417.9,2093.1 418.9,2097.3 419.9,2103.9 420.9,2112.2 421.9,2121.7 422.9,2131.8 423.9,2141.9 424.9,2151.3 425.9,2159.6 426.9,2166.1 427.9,2170.2 428.9,2171.3 429.9,2169.3 430.9,2164.7 431.9,2158.3 432.9,2150.9 433.9,2143.1 434.9,2135.8 435.9,2129.6 436.9,2125.4 437.9,2123.9 438.9,2127.5 439.9,2136.6 440.9,2149.2 441.9,2163.4 442.9,2177.1 443.9,2188.3 444.9,2195.1 445.9,2195.7 446.9,2191.5 447.9,2183.7 448.9,2173.3 449.9,2161.2 450.9,2148.2 451.9,2135.4 452.9,2123.5 453.9,2113.6 454.9,2106.5 455.9,2103.2 456.9,2103.5 457.9,2105.4 458.9,2108.3 459.9,2111.8 460.9,2115.4 461.9,2118.5 462.9,2120.8 463.9,2121.8 464.9,2119.9 465.9,2114.3 466.9,2106.3 467.9,2096.8 468.9,2087.3 469.9,2078.8 470.9,2072.5 471.9,2069.7 472.9,2070.7 473.9,2074.4 474.9,2080.3 475.9,2087.9 476.9,2096.6 477.9,2105.8 478.9,2115.1 479.9,2123.8 480.9,2131.5 481.9,2137.5 482.9,2141.4 483.9,2142.6 484.9,2140.2 485.9,2134.3 486.9,2125.8 487.9,2115.6 488.9,2104.6 489.9,2093.8 490.9,2084 491.9,2076.1 492.9,2071 493.9,2069.7 494.9,2071.8 495.9,2076.5 496.9,2083.1 497.9,2090.7 498.9,2098.6 499.9,2106 500.9,2112.2 501.9,2116.4 502.9,2117.9 503.9,2115.7 504.9,2110.2 505.9,2102.5 506.9,2093.6 507.9,2084.6 508.9,2076.5 509.9,2070.3 510.9,2067.2 511.9,2068.1 512.9,2073 513.9,2081.2 514.9,2091.9 515.9,2104.1 516.9,2117.1 517.9,2130 518.9,2142 519.9,2152.2 520.9,2159.9 521.9,2164.2 522.9,2164.2 523.9,2158.7 524.9,2149 525.9,2136.5 526.9,2122.4 527.9,2108.2 528.9,2095.3 529.9,2085 530.9,2078.7 531.9,2078 532.9,2084.3 533.9,2095.4 534.9,2107.7 535.9,2118 536.9,2123 537.9,2120.6 538.9,2112.6 539.9,2100.9 540.9,2087.4 541.9,2074.1 542.9,2062.9 543.9,2055.6 544.9,2054.2 545.9,2058.1 546.9,2065.6 547.9,2075.1 548.9,2085.2 549.9,2094.3 550.9,2101 551.9,2103.5 552.9,2101.6 553.9,2096.9 554.9,2091 555.9,2085.4 556.9,2081.8 557.9,2078.7 558.9,2075.8 559.9,2073.6 560.9,2072.3 561.9,2072.7 562.9,2075.1 563.9,2079.3 564.9,2084.7 565.9,2090.8 566.9,2097.1 567.9,2103.1 568.9,2108.2 569.9,2111.9 570.9,2113.8 571.9,2113.1 572.9,2109.2 573.9,2103.1 574.9,2095.7 575.9,2087.9 576.9,2080.9 577.9,2075.1 578.9,2069.1 579.9,2062.7 580.9,2056.3 581.9,2050.3 582.9,2045.1 583.9,2041.2 584.9,2038.8 585.9,2038.6 586.9,2042.6 587.9,2050.1 588.9,2059.7 589.9,2070 590.9,2079.5 591.9,2086.8 592.9,2090.3 593.9,2090.3 594.9,2089.8 595.9,2088.9 596.9,2088 597.9,2086.8 598.9,2085 599.9,2083.4 600.9,2082.7 601.9,2084.8 602.9,2091.1 603.9,2100.5 604.9,2112 605.9,2124.5 606.9,2136.8 607.9,2147.9 608.9,2156.8 609.9,2162.3 610.9,2163.2 611.9,2157.8 612.9,2146.8 613.9,2132.3 614.9,2116.1 615.9,2100.2 616.9,2086.3 617.9,2076.3 618.9,2072.2 619.9,2073.5 620.9,2077.4 621.9,2083.5 622.9,2091.3 623.9,2100.3 624.9,2110 625.9,2120 626.9,2129.6 627.9,2138.5 628.9,2146.2 629.9,2152.2 630.9,2155.9 631.9,2157 632.9,2155.9 633.9,2153.4 634.9,2149.9 635.9,2145.7 636.9,2141.3 637.9,2136.9 638.9,2133.1 639.9,2130.2 640.9,2128.5 641.9,2128.5 642.9,2130.1 643.9,2132.8 644.9,2136 645.9,2139.3 646.9,2142 647.9,2143.7 648.9,2143.6 649.9,2140.8 650.9,2135.4 651.9,2128.3 652.9,2120.1 653.9,2111.3 654.9,2102.7 655.9,2094.9 656.9,2088.5 657.9,2084.2 658.9,2082.7 659.9,2084.9 660.9,2091 661.9,2100.2 662.9,2111.6 663.9,2124.3 664.9,2137.5 665.9,2150.4 666.9,2162.1 667.9,2171.8 668.9,2178.6 669.9,2181.7 670.9,2181 671.9,2177.8 672.9,2173 673.9,2167.1 674.9,2160.8 675.9,2154.9 676.9,2150 677.9,2146.8 678.9,2145.9 679.9,2147.7 680.9,2151.6 681.9,2156.7 682.9,2162.1 683.9,2167 684.9,2170.3 685.9,2171.3 686.9,2166.7 687.9,2155.9 688.9,2140.5 689.9,2122.1 690.9,2102.1 691.9,2082.2 692.9,2063.9 693.9,2048.8 694.9,2038.5 695.9,2034.4 696.9,2036.9 697.9,2044 698.9,2054.8 699.9,2068.2 700.9,2083.1 701.9,2098.4 702.9,2113.1 703.9,2126.1 704.9,2136.2 705.9,2142.5 706.9,2143.9 707.9,2141.5 708.9,2136.6 709.9,2130.4 710.9,2123.7 711.9,2117.7 712.9,2113.2 713.9,2111.4 714.9,2113 715.9,2117.8 716.9,2125.3 717.9,2134.7 718.9,2145.6 719.9,2157.2 720.9,2169.1 721.9,2180.5 722.9,2190.9 723.9,2199.7 724.9,2206.2 725.9,2209.9 726.9,2209.7 727.9,2202.2 728.9,2188.5 729.9,2170.9 730.9,2151.6 731.9,2132.9 732.9,2116.9 733.9,2106 734.9,2102.3 735.9,2103.6 736.9,2106.9 737.9,2111.2 738.9,2116 739.9,2120.5 740.9,2124 741.9,2125.7 742.9,2124.6 743.9,2120.3 744.9,2113.4 745.9,2104.7 746.9,2095 747.9,2085.1 748.9,2075.6 749.9,2067.5 750.9,2061.4 751.9,2058.2 752.9,2058.7 753.9,2062.6 754.9,2067.5 755.9,2070.7 756.9,2069.6 757.9,2064.1 758.9,2056.8 759.9,2050.3 760.9,2047.5 761.9,2049.3 762.9,2054.5 763.9,2061.9 764.9,2070.6 765.9,2079.6 766.9,2088 767.9,2094.7 768.9,2098.9 769.9,2099.4 770.9,2096.5 771.9,2091 772.9,2083.8 773.9,2075.9 774.9,2068.2 775.9,2061.6 776.9,2057 777.9,2055.3 778.9,2056.5 779.9,2059.5 780.9,2063.7 781.9,2068.4 782.9,2073.2 783.9,2077.3 784.9,2081.9 785.9,2087.2 786.9,2092.4 787.9,2097 788.9,2100.5 789.9,2102.2 790.9,2101.1 791.9,2096.7 792.9,2090 793.9,2082 794.9,2073.9 795.9,2066.7 796.9,2061.4 797.9,2059.2 798.9,2060.1 799.9,2062.5 800.9,2066 801.9,2069.7 802.9,2073 803.9,2075.4 804.9,2076.1 805.9,2073.4 806.9,2067.2 807.9,2058.7 808.9,2049.1 809.9,2039.4 810.9,2030.8 811.9,2024.5 812.9,2021.5 813.9,2022.8 814.9,2026.4 815.9,2027.8 816.9,2026 817.9,2023.4 818.9,2022.9 819.9,2026 820.9,2031 821.9,2035.8 822.9,2038.3 823.9,2037.9 824.9,2036.7 825.9,2034.8 826.9,2032.5 827.9,2030.1 828.9,2027.1 829.9,2022.4 830.9,2016.4 831.9,2009.6 832.9,2002.6 833.9,1995.9 834.9,1990.1 835.9,1985.7 836.9,1983.3 837.9,1983.3 838.9,1985.3 839.9,1988.8 840.9,1993.2 841.9,1998 842.9,2002.8 843.9,2006.8 844.9,2009.7 845.9,2010.9 846.9,2008.7 847.9,2001.9 848.9,1992 849.9,1980.4 850.9,1968.4 851.9,1957.4 852.9,1948.9 853.9,1944.1 854.9,1944 855.9,1946.5 856.9,1950.6 857.9,1955.9 858.9,1961.7 859.9,1968.5 860.9,1979.3 861.9,1992.9 862.9,2007.1 863.9,2020 864.9,2029.8 865.9,2034.3 866.9,2033.3 867.9,2029.6 868.9,2024.1 869.9,2017.9 870.9,2012.1 871.9,2007.5 872.9,2005.3 873.9,2006.8 874.9,2013 875.9,2023 876.9,2035.8 877.9,2050.3 878.9,2065.5 879.9,2080.3 880.9,2093.9 881.9,2105.1 882.9,2113 883.9,2116.5 884.9,2116 885.9,2113.8 886.9,2110.5 887.9,2106.4 888.9,2102 889.9,2097.8 890.9,2093 891.9,2086.8 892.9,2080.1 893.9,2074.3 894.9,2070.5 895.9,2069.7 896.9,2070.2 897.9,2071.2 898.9,2072.6 899.9,2074.1 900.9,2075.6 901.9,2077.1 902.9,2079.2 903.9,2081.6 904.9,2084.1 905.9,2086.4 906.9,2088.1 907.9,2089.1 908.9,2087.7 909.9,2078.7 910.9,2063.9 911.9,2046.3 912.9,2028.7 913.9,2014.2 914.9,2005.6 915.9,2005.4 916.9,2012.3 917.9,2024.7 918.9,2041.1 919.9,2060 920.9,2080 921.9,2099.5 922.9,2117.2 923.9,2131.5 924.9,2140.9 925.9,2144 926.9,2139.9 927.9,2130 928.9,2115.9 929.9,2099.7 930.9,2083 931.9,2067.7 932.9,2055.6 933.9,2048.6 934.9,2047.8 935.9,2050.8 936.9,2055.9 937.9,2062.1 938.9,2068.3 939.9,2073.6 940.9,2076.9 941.9,2077.3 942.9,2075.6 943.9,2072.5 944.9,2068.7 945.9,2064.6 946.9,2061 947.9,2058.1 948.9,2055.2 949.9,2052.2 950.9,2049.1 951.9,2046.1 952.9,2043.3 953.9,2040.9 954.9,2039 955.9,2037.7 956.9,2037.1 957.9,2038.7 958.9,2045.4 959.9,2056 960.9,2069.4 961.9,2084.2 962.9,2099.3 963.9,2113.4 964.9,2125.3 965.9,2133.7 966.9,2137.4 967.9,2136.5 968.9,2133 969.9,2127.8 970.9,2121.6 971.9,2115 972.9,2108.9 973.9,2103.8 974.9,2100.5 975.9,2099.9 976.9,2105.3 977.9,2116.4 978.9,2131.1 979.9,2147.2 980.9,2162.7 981.9,2175.3 982.9,2183.1 983.9,2183.9 984.9,2178.3 985.9,2167.7 986.9,2153.5 987.9,2137.2 988.9,2120.1 989.9,2103.6 990.9,2089.1 991.9,2078.1 992.9,2071.8 993.9,2071.2 994.9,2073.5 995.9,2077.7 996.9,2083.3 997.9,2090.2 998.9,2097.7 999.9,2105.6 1000.9,2113.5 1001.9,2120.9 1002.9,2127.6 1003.9,2133 1004.9,2136.8 1005.9,2138.7 1006.9,2137.4 1007.9,2131.6 1008.9,2122.7 1009.9,2112.4 1010.9,2102.4 1011.9,2094.4 1012.9,2090 1013.9,2090.7 1014.9,2095.5 1015.9,2102.8 1016.9,2110.8 1017.9,2118 1018.9,2122.7 1019.9,2123.4 1020.9,2121.7 1021.9,2118.5 1022.9,2114.5 1023.9,2110.3 1024.9,2106.5 1025.9,2103.3 1026.9,2099.7 1027.9,2095.9 1028.9,2092.2 1029.9,2088.9 1030.9,2086 1031.9,2084.1 1032.9,2083.2 1033.9,2083.9 1034.9,2086.4 1035.9,2090.4 1036.9,2095.4 1037.9,2101 1038.9,2106.9 1039.9,2112.5 1040.9,2117.6 1041.9,2121.6 1042.9,2124.2 1043.9,2125.1 1044.9,2125.4 1045.9,2125.7 1046.9,2126 1047.9,2126.7 1048.9,2128.9 1049.9,2132.2 1050.9,2135.9 1051.9,2139.4 1052.9,2142.1 1053.9,2143.2 1054.9,2142.3 1055.9,2139.9 1056.9,2136.8 1057.9,2133.7 1058.9,2131.2 1059.9,2130.1 1060.9,2131.2 1061.9,2134 1062.9,2137.6 1063.9,2141.1 1064.9,2143.7 1065.9,2144.4 1066.9,2142.5 1067.9,2138.5 1068.9,2133.1 1069.9,2126.8 1070.9,2120.6 1071.9,2114.9 1072.9,2110.5 1073.9,2108.2 1074.9,2109 1075.9,2114.4 1076.9,2123 1077.9,2132.8 1078.9,2141.9 1079.9,2148.6 1080.9,2151 1081.9,2148.7 1082.9,2143.2 1083.9,2135.4 1084.9,2126.5 1085.9,2117.5 1086.9,2109.4 1087.9,2103.3 1088.9,2100.3 1089.9,2101.2 1090.9,2105.6 1091.9,2112.5 1092.9,2120.7 1093.9,2129.1 1094.9,2136.6 1095.9,2142.1 1096.9,2144.5 1097.9,2142.3 1098.9,2136 1099.9,2127.1 1100.9,2117.6 1101.9,2109.2 1102.9,2103.8 1103.9,2103 1104.9,2105.3 1105.9,2108.7 1106.9,2111.4 1107.9,2111.6 1108.9,2109.8 1109.9,2106.1 1110.9,2100.9 1111.9,2094.4 1112.9,2086.7 1113.9,2078.1 1114.9,2068.9 1115.9,2059.1 1116.9,2049.1 1117.9,2039.1 1118.9,2029.2 1119.9,2019.7 1120.9,2010.8 1121.9,2002.8 1122.9,1994.5 1123.9,1985.3 1124.9,1975.6 1125.9,1965.4 1126.9,1955 1127.9,1944.5 1128.9,1934.2 1129.9,1924.2 1130.9,1914.8 1131.9,1906.1 1132.9,1898.4 1133.9,1891.8 1134.9,1886.5 1135.9,1882.7 1136.9,1880.7 1137.9,1880.6 1138.9,1882.5 1139.9,1885.9 1140.9,1890.4 1141.9,1895.5 1142.9,1900.9 1143.9,1906.1 1144.9,1910.6 1145.9,1914 1146.9,1915.9 1147.9,1916 1148.9,1914.6 1149.9,1912.2 1150.9,1909.1 1151.9,1905.6 1152.9,1902.1 1153.9,1898.9 1154.9,1896.2 1155.9,1894.5 1156.9,1894 1157.9,1895.9 1158.9,1900.5 1159.9,1907.3 1160.9,1915.9 1161.9,1925.9 1162.9,1936.8 1163.9,1948.2 1164.9,1959.6 1165.9,1970.8 1166.9,1981.1 1167.9,1990.2 1168.9,1997.6 1169.9,2003 1170.9,2005.8 1171.9,2005.8 1172.9,2003.6 1173.9,1999.6 1174.9,1994.5 1175.9,1988.7 1176.9,1982.7 1177.9,1977.1 1178.9,1972.4 1179.9,1969 1180.9,1967.6 1181.9,1968.6 1182.9,1971.9 1183.9,1976.9 1184.9,1982.9 1185.9,1989.1 1186.9,1995 1187.9,1999.8 1188.9,2002.8 1189.9,2003.4 1190.9,2000.9 1191.9,1995.4 1192.9,1987.8 1193.9,1978.7 1194.9,1968.7 1195.9,1958.4 1196.9,1948.6 1197.9,1939.8 1198.9,1932.8 1199.9,1928.2 1200.9,1926.6 1201.9,1929.2 1202.9,1935.9 1203.9,1945.6 1204.9,1957.3 1205.9,1969.7 1206.9,1982 1207.9,1992.9 1208.9,2001.5 1209.9,2006.6 1210.9,2007.3 1211.9,2005.5 1212.9,2002 1213.9,1997.3 1214.9,1991.8 1215.9,1985.9 1216.9,1980.1 1217.9,1974.8 1218.9,1970.4 1219.9,1967.4 1220.9,1966.3 1221.9,1967.1 1222.9,1969.7 1223.9,1973.4 1224.9,1978 1225.9,1982.9 1226.9,1987.7 1227.9,1993.4 1228.9,2001.2 1229.9,2009.8 1230.9,2018.4 1231.9,2025.9 1232.9,2031.3 1233.9,2033.6 1234.9,2031.2 1235.9,2024 1236.9,2013.5 1237.9,2001.4 1238.9,1989.2 1239.9,1978.7 1240.9,1971.4 1241.9,1968.9 1242.9,1971.8 1243.9,1978.9 1244.9,1989.2 1245.9,2001.8 1246.9,2015.5 1247.9,2029.4 1248.9,2042.4 1249.9,2053.5 1250.9,2061.7 1251.9,2065.9 1252.9,2065.6 1253.9,2062.8 1254.9,2058.7 1255.9,2054.4 1256.9,2050.9 1257.9,2049.3 1258.9,2050.6 1259.9,2054.7 1260.9,2060.6 1261.9,2067.2 1262.9,2073.6 1263.9,2078.7 1264.9,2081.6 1265.9,2081.5 1266.9,2079.6 1267.9,2076.6 1268.9,2072.9 1269.9,2069.3 1270.9,2066.1 1271.9,2064.1 1272.9,2063.8 1273.9,2067.4 1274.9,2074.4 1275.9,2083.5 1276.9,2093.3 1277.9,2102.4 1278.9,2109.4 1279.9,2113 1280.9,2111.4 1281.9,2103.9 1282.9,2091.9 1283.9,2077 1284.9,2060.8 1285.9,2044.9 1286.9,2030.7 1287.9,2019.9 1288.9,2014.1 1289.9,2014 1290.9,2017.3 1291.9,2022.8 1292.9,2030 1293.9,2038.3 1294.9,2046.9 1295.9,2055.4 1296.9,2062.9 1297.9,2069 1298.9,2072.9 1299.9,2074 1300.9,2072.2 1301.9,2068.4 1302.9,2063.8 1303.9,2059.3 1304.9,2055.9 1305.9,2053.7 1306.9,2051.4 1307.9,2049.4 1308.9,2047.6 1309.9,2046.2 1310.9,2045.5 1311.9,2045.6 1312.9,2048 1313.9,2052.1 1314.9,2057.1 1315.9,2062 1316.9,2065.8 1317.9,2067.5 1318.9,2066.6 1319.9,2063.6 1320.9,2059 1321.9,2053.2 1322.9,2046.9 1323.9,2040.3 1324.9,2034.1 1325.9,2028.7 1326.9,2024.6 1327.9,2022.2 1328.9,2022.3 1329.9,2026.4 1330.9,2033.4 1331.9,2041.9 1332.9,2050.2 1333.9,2057 1334.9,2060.7 1335.9,2060.5 1336.9,2058.1 1337.9,2054.5 1338.9,2050.2 1339.9,2046 1340.9,2042.7 1341.9,2040.8 1342.9,2041.8 1343.9,2048 1344.9,2057.7 1345.9,2068.9 1346.9,2079.6 1347.9,2088 1348.9,2091.9 1349.9,2090.7 1350.9,2085.9 1351.9,2078.4 1352.9,2069.2 1353.9,2059.2 1354.9,2049.1 1355.9,2039.9 1356.9,2032.5 1357.9,2027.6 1358.9,2026.3 1359.9,2027.7 1360.9,2030.9 1361.9,2035.3 1362.9,2040.6 1363.9,2046.1 1364.9,2051.4 1365.9,2056.2 1366.9,2059.8 1367.9,2061.8 1368.9,2061.5 1369.9,2058.3 1370.9,2053.1 1371.9,2047.3 1372.9,2042.1 1373.9,2039 1374.9,2038.7 1375.9,2039.8 1376.9,2041.7 1377.9,2044.1 1378.9,2047.5 1379.9,2054.8 1380.9,2064.9 1381.9,2076.5 1382.9,2088.2 1383.9,2098.7 1384.9,2106.4 1385.9,2110.2 1386.9,2109.5 1387.9,2106.6 1388.9,2101.9 1389.9,2096.2 1390.9,2089.8 1391.9,2083.5 1392.9,2077.7 1393.9,2073.1 1394.9,2070 1395.9,2067.1 1396.9,2064.3 1397.9,2061.6 1398.9,2059.1 1399.9,2056.9 1400.9,2055 1401.9,2053.6 1402.9,2052.7 1403.9,2052.4 1404.9,2052.9 1405.9,2054.3 1406.9,2056.4 1407.9,2058.9 1408.9,2061.8 1409.9,2064.9 1410.9,2067.9 1411.9,2070.7 1412.9,2073.1 1413.9,2075 1414.9,2076.1 1415.9,2076.2 1416.9,2072.4 1417.9,2065 1418.9,2055.8 1419.9,2046.2 1420.9,2037.8 1421.9,2032.2 1422.9,2031 1423.9,2036.2 1424.9,2046 1425.9,2057.3 1426.9,2067.1 1427.9,2072.2 1428.9,2071.8 1429.9,2069.1 1430.9,2065.3 1431.9,2061.2 1432.9,2057.4 1433.9,2054.2 1434.9,2050.7 1435.9,2046.9 1436.9,2043.3 1437.9,2039.9 1438.9,2037.1 1439.9,2035.1 1440.9,2034.2 1441.9,2034.9 1442.9,2038.1 1443.9,2043.1 1444.9,2049.2 1445.9,2055.5 1446.9,2061.4 1447.9,2066.1 1448.9,2068.8 1449.9,2070.4 1450.9,2071.7 1451.9,2072.8 1452.9,2073.6 1453.9,2074.4 1454.9,2075.2 1455.9,2076 1456.9,2077 1457.9,2078.3 1458.9,2079.8 1459.9,2082.2 1460.9,2086.2 1461.9,2090.7 1462.9,2094.5 1463.9,2096.3 1464.9,2097.1 1465.9,2097.7 1466.9,2098.2 1467.9,2098.7 1468.9,2099.3 1469.9,2100.1 1470.9,2101.3 1471.9,2102.6 1472.9,2104.2 1473.9,2105.9 1474.9,2107.8 1475.9,2109.8 1476.9,2111.8 1477.9,2113.9 1478.9,2116.6 1479.9,2119.8 1480.9,2123.3 1481.9,2126.9 1482.9,2130.4 1483.9,2133.7 1484.9,2136.3 1485.9,2138.3 1486.9,2139.4 1487.9,2139.3 1488.9,2137.8 1489.9,2134.9 1490.9,2131 1491.9,2126.4 1492.9,2121.1 1493.9,2115.5 1494.9,2109.7 1495.9,2104.1 1496.9,2098.8 1497.9,2094.1 1498.9,2090.2 1499.9,2087.4 1500.9,2085.8 1501.9,2085.9 1502.9,2088.9 1503.9,2094 1504.9,2100.2 1505.9,2106.3 1506.9,2111.3 1507.9,2114 1508.9,2113.5 1509.9,2110.4 1510.9,2106.3 1511.9,2103 1512.9,2102 1513.9,2104 1514.9,2108.5 1515.9,2115.2 1516.9,2123.7 1517.9,2133.6 1518.9,2144.7 1519.9,2156.5 1520.9,2168.8 1521.9,2181.2 1522.9,2193.3 1523.9,2204.8 1524.9,2215.4 1525.9,2224.7 1526.9,2232.3 1527.9,2238 1528.9,2241.3 1529.9,2242 1530.9,2240.4 1531.9,2236.9 1532.9,2231.9 1533.9,2225.7 1534.9,2218.6 1535.9,2211 1536.9,2203 1537.9,2195.2 1538.9,2187.6 1539.9,2177.5 1540.9,2165.8 1541.9,2156.4 1542.9,2153.2 1543.9,2152.8 1544.9,2152.6 1545.9,2152.4 1546.9,2151.8 1547.9,2150.6 1548.9,2148.7 1549.9,2146.3 1550.9,2143.4 1551.9,2140.3 1552.9,2137.1 1553.9,2133.3 1554.9,2128.1 1555.9,2121.8 1556.9,2115.3 1557.9,2109 1558.9,2103.7 1559.9,2100 1560.9,2098.6 1561.9,2099.9 1562.9,2103.5 1563.9,2108.6 1564.9,2114 1565.9,2118.9 1566.9,2122.3 1567.9,2123.3 1568.9,2121.1 1569.9,2116.1 1570.9,2109 1571.9,2100.5 1572.9,2091.2 1573.9,2081.7 1574.9,2072.8 1575.9,2065.1 1576.9,2059.3 1577.9,2056 1578.9,2055.6 1579.9,2056.4 1580.9,2057.7 1581.9,2059.4 1582.9,2061.4 1583.9,2065.7 1584.9,2071.8 1585.9,2078.5 1586.9,2084.4 1587.9,2088.5 1588.9,2089.3 1589.9,2086.3 1590.9,2080.3 1591.9,2072.1 1592.9,2062.4 1593.9,2052.1 1594.9,2041.9 1595.9,2032.8 1596.9,2025.3 1597.9,2020.5 1598.9,2019 1599.9,2019.5 1600.9,2020.6 1601.9,2022.2 1602.9,2023.9 1603.9,2025.6 1604.9,2027 1605.9,2027.9 1606.9,2027.9 1607.9,2024.7 1608.9,2018 1609.9,2008.7 1610.9,1997.6 1611.9,1985.5 1612.9,1973.2 1613.9,1961.6 1614.9,1951.5 1615.9,1943.7 1616.9,1939.1 1617.9,1938.2 1618.9,1940.4 1619.9,1944.4 1620.9,1949.5 1621.9,1954.7 1622.9,1959.2 1623.9,1962.2 1624.9,1962.8 1625.9,1961.6 1626.9,1959.5 1627.9,1957.4 1628.9,1956 1629.9,1956.5 1630.9,1960.3 1631.9,1966.8 1632.9,1975.1 1633.9,1984.4 1634.9,1993.8 1635.9,2002.4 1636.9,2009.3 1637.9,2013.8 1638.9,2015 1639.9,2013 1640.9,2008.8 1641.9,2003.2 1642.9,1997 1643.9,1991.1 1644.9,1986.1 1645.9,1983.1 1646.9,1982.5 1647.9,1983.6 1648.9,1985.3 1649.9,1987.4 1650.9,1989.1 1651.9,1990.2 1652.9,1990.2 1653.9,1990 1654.9,1989.6 1655.9,1989.1 1656.9,1987.8 1657.9,1984.1 1658.9,1978.6 1659.9,1972.2 1660.9,1965.6 1661.9,1959.9 1662.9,1955.6 1663.9,1953.8 1664.9,1954.6 1665.9,1956.8 1666.9,1958.6 1667.9,1958.5 1668.9,1955.5 1669.9,1950.8 1670.9,1946.2 1671.9,1943.2 1672.9,1943.5 1673.9,1948.2 1674.9,1955.5 1675.9,1963.7 1676.9,1970.9 1677.9,1975.3 1678.9,1975.6 1679.9,1974 1680.9,1971.7 1681.9,1969.6 1682.9,1968.9 1683.9,1970.5 1684.9,1974 1685.9,1977.9 1686.9,1981.2 1687.9,1983.6 1688.9,1985.2 1689.9,1984.6 1690.9,1982.7 1691.9,1980.7 1692.9,1980.1 1693.9,1984.2 1694.9,1993.1 1695.9,2004.9 1696.9,2018.1 1697.9,2030.7 1698.9,2041.2 1699.9,2047.8 1700.9,2049 1701.9,2046.7 1702.9,2042.4 1703.9,2036.9 1704.9,2030.9 1705.9,2025.3 1706.9,2020.8 1707.9,2018.2 1708.9,2018.3 1709.9,2021.5 1710.9,2027.3 1711.9,2034.8 1712.9,2043.5 1713.9,2052.6 1714.9,2061.5 1715.9,2069.6 1716.9,2076.1 1717.9,2080.4 1718.9,2081.8 1719.9,2080 1720.9,2075.9 1721.9,2071 1722.9,2066.5 1723.9,2063.8 1724.9,2063.7 1725.9,2064.5 1726.9,2066 1727.9,2068 1728.9,2070.3 1729.9,2072.8 1730.9,2075.4 1731.9,2078.3 1732.9,2082.8 1733.9,2088.3 1734.9,2094.1 1735.9,2099.3 1736.9,2103.3 1737.9,2105.2 1738.9,2103.5 1739.9,2096.3 1740.9,2085 1741.9,2070.8 1742.9,2055 1743.9,2039.1 1744.9,2024.1 1745.9,2011.6 1746.9,2002.7 1747.9,1998.9 1748.9,2000.4 1749.9,2005.5 1750.9,2013.4 1751.9,2023.2 1752.9,2034 1753.9,2044.9 1754.9,2054.9 1755.9,2063.3 1756.9,2069.1 1757.9,2071.4 1758.9,2069.2 1759.9,2062.8 1760.9,2053.1 1761.9,2041.4 1762.9,2028.5 1763.9,2015.7 1764.9,2003.9 1765.9,1994.1 1766.9,1987.6 1767.9,1985.3 1768.9,1987 1769.9,1991.6 1770.9,1998.4 1771.9,2006.9 1772.9,2016.5 1773.9,2026.6 1774.9,2036.6 1775.9,2046 1776.9,2054 1777.9,2060.2 1778.9,2064 1779.9,2064.7 1780.9,2063.2 1781.9,2060.8 1782.9,2058.8 1783.9,2058.6 1784.9,2062.2 1785.9,2069.4 1786.9,2079.3 1787.9,2091.4 1788.9,2105 1789.9,2119.3 1790.9,2133.6 1791.9,2147.3 1792.9,2159.6 1793.9,2169.9 1794.9,2179.1 1795.9,2188.7 1796.9,2197.9 1797.9,2205.9 1798.9,2211.9 1799.9,2215.3 1800.9,2216.9 1801.9,2218 1802.9,2219.6 1803.9,2224 1804.9,2232.1 1805.9,2239.6 1806.9,2242.2 1807.9,2237 1808.9,2225.6 1809.9,2210.3 1810.9,2193.5 1811.9,2177.6 1812.9,2164.8 1813.9,2157.7 1814.9,2157.6 1815.9,2160.9 1816.9,2166.2 1817.9,2172.2 1818.9,2177.9 1819.9,2182.1 1820.9,2183.6 1821.9,2180.5 1822.9,2172.7 1823.9,2161.2 1824.9,2147.1 1825.9,2131.3 1826.9,2114.9 1827.9,2099.1 1828.9,2084.7 1829.9,2072.9 1830.9,2064.6 1831.9,2061 1832.9,2062.9 1833.9,2069.9 1834.9,2080.7 1835.9,2094.3 1836.9,2109.3 1837.9,2124.6 1838.9,2139 1839.9,2151.3 1840.9,2160.4 1841.9,2165 1842.9,2164 1843.9,2157.8 1844.9,2147.5 1845.9,2134.5 1846.9,2120.2 1847.9,2105.8 1848.9,2092.7 1849.9,2082.2 1850.9,2075.6 1851.9,2074.2 1852.9,2078.1 1853.9,2086.2 1854.9,2097.4 1855.9,2110.7 1856.9,2124.8 1857.9,2138.7 1858.9,2151.4 1859.9,2161.6 1860.9,2168.3 1861.9,2170.5 1862.9,2166.5 1863.9,2157 1864.9,2143.5 1865.9,2127.6 1866.9,2110.9 1867.9,2095.1 1868.9,2081.8 1869.9,2072.4 1870.9,2068.8 1871.9,2070 1872.9,2073.3 1873.9,2078.1 1874.9,2083.5 1875.9,2088.7 1876.9,2093.1 1877.9,2096 1878.9,2098.7 1879.9,2101.1 1880.9,2103 1881.9,2103.9 1882.9,2103.1 1883.9,2099.1 1884.9,2092.8 1885.9,2084.6 1886.9,2075.4 1887.9,2065.6 1888.9,2056 1889.9,2047.2 1890.9,2039.9 1891.9,2034.7 1892.9,2032.3 1893.9,2032.9 1894.9,2035.3 1895.9,2039.2 1896.9,2044.3 1897.9,2050.2 1898.9,2056.4 1899.9,2062.7 1900.9,2068.7 1901.9,2073.9 1902.9,2078.1 1903.9,2080.9 1904.9,2081.8 1905.9,2079.3 1906.9,2073.4 1907.9,2065.4 1908.9,2057.2 1909.9,2050.1 1910.9,2045.9 1911.9,2045.3 1912.9,2045.9 1913.9,2046.8 1914.9,2048.1 1915.9,2049.6 1916.9,2051.3 1917.9,2053.1 1918.9,2055.8 1919.9,2060.1 1920.9,2065 1921.9,2069.8 1922.9,2073.8 1923.9,2076.2 1924.9,2076.5 1925.9,2075.7 1926.9,2074.2 1927.9,2072.2 1928.9,2069.9 1929.9,2067.5 1930.9,2065.2 1931.9,2063.2 1932.9,2061.6 1933.9,2060.7 1934.9,2060.1 1935.9,2059.7 1936.9,2059.3 1937.9,2059 1938.9,2058.6 1939.9,2058.1 1940.9,2057.5 1941.9,2056.1 1942.9,2052.4 1943.9,2047.3 1944.9,2042.1 1945.9,2038.4 1946.9,2036.4 1947.9,2034.5 1948.9,2032.8 1949.9,2031.4 1950.9,2030.4 1951.9,2029.8 1952.9,2029.7 1953.9,2031.5 1954.9,2035 1955.9,2039.9 1956.9,2045.6 1957.9,2051.7 1958.9,2057.7 1959.9,2063.2 1960.9,2067.6 1961.9,2070.5 1962.9,2071.4 1963.9,2070.9 1964.9,2069.7 1965.9,2068 1966.9,2066 1967.9,2063.8 1968.9,2061.6 1969.9,2059.5 1970.9,2057.7 1971.9,2056.4 1972.9,2055.8 1973.9,2057.4 1974.9,2065.3 1975.9,2077.5 1976.9,2091.9 1977.9,2106.2 1978.9,2118.3 1979.9,2125.9 1980.9,2126.8 1981.9,2118.8 1982.9,2104.2 1983.9,2086.1 1984.9,2067.5 1985.9,2051.5 1986.9,2041.1 1987.9,2038.9 1988.9,2041.4 1989.9,2047.1 1990.9,2056 1991.9,2068.4 1992.9,2084.2 1993.1,2087"/>
<path stroke="#1c00bb" d="M336.9,2112.7 337.9,2122.7 338.9,2130 339.9,2135.1 340.9,2138.2 341.9,2139.8 342.9,2139.8 343.9,2134.2 344.9,2122.5 345.9,2106.5 346.9,2087.9 347.9,2068.3 348.9,2049.4 349.9,2033 350.9,2020.7 351.9,2014.1 352.9,2014.1 353.9,2017.7 354.9,2024 355.9,2032.4 356.9,2042.3 357.9,2053.1 358.9,2064.3 359.9,2075.3 360.9,2085.6 361.9,2094.5 362.9,2101.5 363.9,2106 364.9,2107.4 365.9,2104 366.9,2095.9 367.9,2084.9 368.9,2073 369.9,2061.8 370.9,2053.1 371.9,2048.9 372.9,2049.9 373.9,2054.4 374.9,2061.4 375.9,2070 376.9,2079.1 377.9,2087.9 378.9,2095.4 379.9,2100.6 380.9,2103 381.9,2104.6 382.9,2105.7 383.9,2106.1 384.9,2104.6 385.9,2101 386.9,2096.2 387.9,2091.2 388.9,2086.9 389.9,2084.3 390.9,2084.4 391.9,2087.1 392.9,2091.4 393.9,2096.1 394.9,2100.1 395.9,2102.1 396.9,2099.9 397.9,2091.7 398.9,2080.4 399.9,2069.1 400.9,2061.2 401.9,2059.4 402.9,2062.7 403.9,2069.5 404.9,2078.6 405.9,2088.9 406.9,2099.4 407.9,2109 408.9,2116.5 409.9,2121 410.9,2121.5 411.9,2118.5 412.9,2113.3 413.9,2107.1 414.9,2101.1 415.9,2096.5 416.9,2094.4 417.9,2096.3 418.9,2102.5 419.9,2112.1 420.9,2124.2 421.9,2138.1 422.9,2152.8 423.9,2167.5 424.9,2181.3 425.9,2193.3 426.9,2202.8 427.9,2208.8 428.9,2210.5 429.9,2207.6 430.9,2201.2 431.9,2192.2 432.9,2181.8 433.9,2170.9 434.9,2160.6 435.9,2152 436.9,2146.1 437.9,2144 438.9,2148.9 439.9,2161.4 440.9,2178.7 441.9,2198.2 442.9,2217 443.9,2232.4 444.9,2241.6 445.9,2242.4 446.9,2236.4 447.9,2225.2 448.9,2210.2 449.9,2192.7 450.9,2174 451.9,2155.5 452.9,2138.4 453.9,2124 454.9,2113.8 455.9,2109 456.9,2109.4 457.9,2112.1 458.9,2116.2 459.9,2121 460.9,2125.9 461.9,2130.3 462.9,2133.5 463.9,2134.8 464.9,2132.1 465.9,2124.2 466.9,2112.7 467.9,2099.3 468.9,2085.7 469.9,2073.6 470.9,2064.6 471.9,2060.6 472.9,2062.1 473.9,2067.8 474.9,2076.8 475.9,2088.3 476.9,2101.4 477.9,2115.4 478.9,2129.5 479.9,2142.7 480.9,2154.4 481.9,2163.6 482.9,2169.5 483.9,2171.3 484.9,2167.7 485.9,2159 486.9,2146.5 487.9,2131.5 488.9,2115.4 489.9,2099.5 490.9,2085 491.9,2073.4 492.9,2066 493.9,2063.9 494.9,2067 495.9,2073.7 496.9,2083 497.9,2093.7 498.9,2104.9 499.9,2115.4 500.9,2124.2 501.9,2130.2 502.9,2132.2 503.9,2129 504.9,2121 505.9,2109.8 506.9,2096.8 507.9,2083.6 508.9,2071.7 509.9,2062.7 510.9,2058.2 511.9,2059.4 512.9,2066.6 513.9,2078.6 514.9,2094 515.9,2111.8 516.9,2130.6 517.9,2149.4 518.9,2166.8 519.9,2181.7 520.9,2192.9 521.9,2199.2 522.9,2199 523.9,2190.8 524.9,2176 525.9,2156.9 526.9,2135.5 527.9,2113.9 528.9,2094.2 529.9,2078.5 530.9,2069 531.9,2067.8 532.9,2077.6 533.9,2094.6 534.9,2113.7 535.9,2129.6 536.9,2137.3 537.9,2134.1 538.9,2123.2 539.9,2107.3 540.9,2089 541.9,2070.9 542.9,2055.6 543.9,2045.8 544.9,2043.8 545.9,2049 546.9,2058.8 547.9,2071.4 548.9,2084.7 549.9,2096.7 550.9,2105.4 551.9,2108.7 552.9,2106.4 553.9,2100.7 554.9,2093.4 555.9,2086.4 556.9,2081.4 557.9,2076.9 558.9,2072.6 559.9,2069.1 560.9,2067.2 561.9,2067.6 562.9,2070.8 563.9,2076.3 564.9,2083.4 565.9,2091.4 566.9,2099.7 567.9,2107.5 568.9,2114.2 569.9,2119.1 570.9,2121.6 571.9,2120.7 572.9,2115.8 573.9,2107.9 574.9,2098.4 575.9,2088.5 576.9,2079.3 577.9,2071.8 578.9,2063.7 579.9,2055.1 580.9,2046.4 581.9,2038.3 582.9,2031.2 583.9,2025.8 584.9,2022.5 585.9,2022.3 586.9,2028.1 587.9,2039.1 588.9,2053.3 589.9,2068.3 590.9,2082.2 591.9,2092.9 592.9,2098.1 593.9,2098 594.9,2096.8 595.9,2095.2 596.9,2093.3 597.9,2091.1 598.9,2088 599.9,2085.3 600.9,2084 601.9,2087 602.9,2096.1 603.9,2109.6 604.9,2126.1 605.9,2144 606.9,2161.7 607.9,2177.6 608.9,2190.3 609.9,2198.2 610.9,2199.6 611.9,2191.6 612.9,2175.7 613.9,2154.6 614.9,2131 615.9,2107.7 616.9,2087.5 617.9,2073 618.9,2067 619.9,2068.8 620.9,2074.5 621.9,2083.2 622.9,2094.4 623.9,2107.2 624.9,2121.1 625.9,2135.3 626.9,2149.1 627.9,2161.9 628.9,2172.9 629.9,2181.4 630.9,2186.8 631.9,2188.3 632.9,2186.8 633.9,2183.2 634.9,2178.2 635.9,2172.4 636.9,2166.1 637.9,2160 638.9,2154.7 639.9,2150.5 640.9,2148.2 641.9,2148.2 642.9,2150.6 643.9,2154.6 644.9,2159.5 645.9,2164.3 646.9,2168.4 647.9,2171 648.9,2170.9 649.9,2166.6 650.9,2158.7 651.9,2148.1 652.9,2135.8 653.9,2122.7 654.9,2109.9 655.9,2098.2 656.9,2088.7 657.9,2082.4 658.9,2080 659.9,2083.4 660.9,2092.3 661.9,2105.8 662.9,2122.4 663.9,2141.1 664.9,2160.4 665.9,2179.3 666.9,2196.5 667.9,2210.7 668.9,2220.7 669.9,2225.3 670.9,2224.2 671.9,2219.6 672.9,2212.5 673.9,2203.8 674.9,2194.7 675.9,2186 676.9,2178.8 677.9,2174.1 678.9,2172.8 679.9,2175.5 680.9,2181.3 681.9,2188.8 682.9,2196.8 683.9,2204 684.9,2209 685.9,2210.5 686.9,2203.9 687.9,2188.6 688.9,2166.7 689.9,2140.5 690.9,2112.2 691.9,2084 692.9,2058 693.9,2036.6 694.9,2021.9 695.9,2016.2 696.9,2019.6 697.9,2029.8 698.9,2045.1 699.9,2064.1 700.9,2085.1 701.9,2106.8 702.9,2127.6 703.9,2146 704.9,2160.3 705.9,2169.2 706.9,2171.2 707.9,2167.8 708.9,2161.1 709.9,2152.3 710.9,2143 711.9,2134.5 712.9,2128.3 713.9,2125.8 714.9,2128 715.9,2134.7 716.9,2145.1 717.9,2158.3 718.9,2173.4 719.9,2189.7 720.9,2206.2 721.9,2222.1 722.9,2236.6 723.9,2248.9 724.9,2258 725.9,2263.2 726.9,2262.9 727.9,2252 728.9,2232.1 729.9,2206.7 730.9,2178.8 731.9,2151.7 732.9,2128.6 733.9,2112.8 734.9,2107.5 735.9,2109.5 736.9,2114.1 737.9,2120.4 738.9,2127.3 739.9,2133.8 740.9,2138.8 741.9,2141.3 742.9,2140 743.9,2134.4 744.9,2125.5 745.9,2114.3 746.9,2101.8 747.9,2089 748.9,2076.9 749.9,2066.4 750.9,2058.6 751.9,2054.4 752.9,2054.9 753.9,2059.2 754.9,2064.5 755.9,2068.1 756.9,2066.7 757.9,2059.6 758.9,2050.2 759.9,2042 760.9,2038.3 761.9,2041.1 762.9,2048.7 763.9,2059.6 764.9,2072.5 765.9,2085.8 766.9,2098.1 767.9,2108.1 768.9,2114.1 769.9,2115 770.9,2110.8 771.9,2103 772.9,2093 773.9,2081.8 774.9,2070.9 775.9,2061.6 776.9,2055.1 777.9,2052.7 778.9,2054.1 779.9,2057.6 780.9,2062.6 781.9,2068.2 782.9,2073.8 783.9,2078.8 784.9,2084.6 785.9,2091.1 786.9,2097.7 787.9,2103.5 788.9,2107.9 789.9,2110 790.9,2108.7 791.9,2103.2 792.9,2094.9 793.9,2085 794.9,2074.9 795.9,2065.9 796.9,2059.3 797.9,2056.6 798.9,2057.7 799.9,2060.7 800.9,2064.9 801.9,2069.5 802.9,2073.6 803.9,2076.6 804.9,2077.4 805.9,2073.4 806.9,2064.4 807.9,2052.1 808.9,2038.1 809.9,2024.1 810.9,2011.6 811.9,2002.4 812.9,1998 813.9,2000.2 814.9,2005.9 815.9,2008.2 816.9,2004.9 817.9,2000.5 818.9,1999.5 819.9,2003.9 820.9,2011 821.9,2017.8 822.9,2021.3 823.9,2020.8 824.9,2019 825.9,2016.4 826.9,2013.1 827.9,2009.5 828.9,2005.4 829.9,1998.8 830.9,1990.5 831.9,1981.1 832.9,1971.4 833.9,1962.2 834.9,1954.2 835.9,1948.1 836.9,1944.8 837.9,1944.8 838.9,1947.6 839.9,1952.5 840.9,1958.7 841.9,1965.5 842.9,1972.1 843.9,1977.8 844.9,1981.8 845.9,1983.5 846.9,1980.4 847.9,1971 848.9,1957.2 849.9,1940.9 850.9,1924.2 851.9,1908.9 852.9,1897 853.9,1890.3 854.9,1890.1 855.9,1893.4 856.9,1899 857.9,1906.1 858.9,1913.9 859.9,1923.2 860.9,1938.4 861.9,1957.4 862.9,1977.5 863.9,1995.8 864.9,2009.6 865.9,2016 866.9,2014.6 867.9,2009.4 868.9,2001.9 869.9,1993.3 870.9,1985.2 871.9,1978.9 872.9,1975.8 873.9,1977.9 874.9,1986.3 875.9,1999.7 876.9,2016.9 877.9,2036.4 878.9,2056.9 879.9,2076.9 880.9,2095.2 881.9,2110.3 882.9,2120.9 883.9,2125.6 884.9,2124.8 885.9,2121.3 886.9,2116.2 887.9,2110 888.9,2103.7 889.9,2098 890.9,2092.4 891.9,2085.8 892.9,2079.1 893.9,2073.3 894.9,2069.6 895.9,2068.9 896.9,2069.5 897.9,2070.6 898.9,2072.1 899.9,2073.8 900.9,2075.5 901.9,2077.3 902.9,2080 903.9,2083.1 904.9,2086.3 905.9,2089.3 906.9,2091.7 907.9,2093 908.9,2091.1 909.9,2078.4 910.9,2057.7 911.9,2033 912.9,2008.5 913.9,1988.1 914.9,1976.1 915.9,1975.8 916.9,1985.6 917.9,2003.2 918.9,2026.5 919.9,2053.4 920.9,2081.8 921.9,2109.5 922.9,2134.6 923.9,2154.9 924.9,2168.3 925.9,2172.7 926.9,2166.8 927.9,2152.6 928.9,2132.5 929.9,2109.2 930.9,2085.3 931.9,2063.4 932.9,2046.1 933.9,2036 934.9,2035.1 935.9,2040.9 936.9,2050.9 937.9,2063 938.9,2075.2 939.9,2085.5 940.9,2092 941.9,2092.7 942.9,2088.6 943.9,2081.4 944.9,2072.5 945.9,2063.5 946.9,2055.9 947.9,2050.8 948.9,2046.2 949.9,2041.7 950.9,2037.3 951.9,2033.2 952.9,2029.5 953.9,2026.3 954.9,2023.9 955.9,2022.2 956.9,2021.4 957.9,2023.7 958.9,2033.1 959.9,2048 960.9,2066.7 961.9,2087.6 962.9,2108.7 963.9,2128.5 964.9,2145.2 965.9,2157 966.9,2162.2 967.9,2160.8 968.9,2155.8 969.9,2148.3 970.9,2139.3 971.9,2129.8 972.9,2120.8 973.9,2113.5 974.9,2108.7 975.9,2107.8 976.9,2115.5 977.9,2131.2 978.9,2152 979.9,2174.8 980.9,2196.7 981.9,2214.6 982.9,2225.5 983.9,2226.7 984.9,2218.9 985.9,2204.1 986.9,2184.3 987.9,2161.4 988.9,2137.5 989.9,2114.5 990.9,2094.2 991.9,2078.8 992.9,2070.1 993.9,2069.3 994.9,2072.4 995.9,2078.1 996.9,2085.9 997.9,2095.3 998.9,2105.7 999.9,2116.6 1000.9,2127.5 1001.9,2137.7 1002.9,2146.8 1003.9,2154.3 1004.9,2159.6 1005.9,2162.1 1006.9,2160.2 1007.9,2151.2 1008.9,2137.6 1009.9,2121.8 1010.9,2106.5 1011.9,2094.3 1012.9,2087.6 1013.9,2088.6 1014.9,2095.6 1015.9,2106.2 1016.9,2118 1017.9,2128.5 1018.9,2135.3 1019.9,2136.4 1020.9,2133.9 1021.9,2129.3 1022.9,2123.5 1023.9,2117.5 1024.9,2112.1 1025.9,2107.7 1026.9,2102.8 1027.9,2097.7 1028.9,2092.7 1029.9,2088.2 1030.9,2084.4 1031.9,2081.8 1032.9,2080.6 1033.9,2081.6 1034.9,2085.2 1035.9,2091 1036.9,2098.2 1037.9,2106.4 1038.9,2115 1039.9,2123.2 1040.9,2130.7 1041.9,2136.7 1042.9,2140.7 1043.9,2142.2 1044.9,2142.9 1045.9,2143.4 1046.9,2144 1047.9,2145.3 1048.9,2149 1049.9,2154.3 1050.9,2160.3 1051.9,2165.9 1052.9,2170.1 1053.9,2171.9 1054.9,2170.5 1055.9,2166.7 1056.9,2161.7 1057.9,2156.7 1058.9,2152.7 1059.9,2151 1060.9,2152.6 1061.9,2156.9 1062.9,2162.5 1063.9,2168 1064.9,2172 1065.9,2173.1 1066.9,2170.4 1067.9,2164.7 1068.9,2156.9 1069.9,2148 1070.9,2139 1071.9,2130.9 1072.9,2124.7 1073.9,2121.3 1074.9,2122.4 1075.9,2130 1076.9,2141.9 1077.9,2155.6 1078.9,2168.4 1079.9,2177.7 1080.9,2181 1081.9,2177.5 1082.9,2169.1 1083.9,2157.4 1084.9,2143.9 1085.9,2130.3 1086.9,2118.1 1087.9,2108.9 1088.9,2104.3 1089.9,2105.7 1090.9,2112.4 1091.9,2122.9 1092.9,2135.5 1093.9,2148.3 1094.9,2159.8 1095.9,2168.2 1096.9,2171.8 1097.9,2168.9 1098.9,2160.2 1099.9,2148 1100.9,2134.9 1101.9,2123.4 1102.9,2116 1103.9,2114.8 1104.9,2117.8 1105.9,2122.2 1106.9,2125.6 1107.9,2125.9 1108.9,2123.1 1109.9,2117.6 1110.9,2109.8 1111.9,2100.1 1112.9,2088.6 1113.9,2075.9 1114.9,2062.2 1115.9,2047.8 1116.9,2033 1117.9,2018.3 1118.9,2003.9 1119.9,1990.1 1120.9,1977.4 1121.9,1965.9 1122.9,1954.3 1123.9,1941.7 1124.9,1928.3 1125.9,1914.4 1126.9,1900.3 1127.9,1886.2 1128.9,1872.3 1129.9,1858.9 1130.9,1846.3 1131.9,1834.7 1132.9,1824.4 1133.9,1815.6 1134.9,1808.6 1135.9,1803.6 1136.9,1801 1137.9,1800.9 1138.9,1803.4 1139.9,1808.1 1140.9,1814.4 1141.9,1821.6 1142.9,1829 1143.9,1836.2 1144.9,1842.5 1145.9,1847.2 1146.9,1849.8 1147.9,1849.9 1148.9,1847.9 1149.9,1844.5 1150.9,1840.2 1151.9,1835.3 1152.9,1830.3 1153.9,1825.8 1154.9,1822 1155.9,1819.6 1156.9,1818.9 1157.9,1821.6 1158.9,1828 1159.9,1837.5 1160.9,1849.6 1161.9,1863.5 1162.9,1878.8 1163.9,1894.8 1164.9,1910.9 1165.9,1926.5 1166.9,1941 1167.9,1953.7 1168.9,1964.2 1169.9,1971.7 1170.9,1975.7 1171.9,1975.7 1172.9,1972.5 1173.9,1967 1174.9,1959.8 1175.9,1951.7 1176.9,1943.3 1177.9,1935.5 1178.9,1928.9 1179.9,1924.2 1180.9,1922.2 1181.9,1923.6 1182.9,1928.4 1183.9,1935.5 1184.9,1944 1185.9,1952.9 1186.9,1961.3 1187.9,1968.1 1188.9,1972.5 1189.9,1973.4 1190.9,1969.7 1191.9,1962.1 1192.9,1951.3 1193.9,1938.4 1194.9,1924.2 1195.9,1909.7 1196.9,1895.8 1197.9,1883.5 1198.9,1873.5 1199.9,1867 1200.9,1864.8 1201.9,1868.4 1202.9,1877.8 1203.9,1891.4 1204.9,1907.7 1205.9,1925.2 1206.9,1942.3 1207.9,1957.6 1208.9,1969.6 1209.9,1976.7 1210.9,1977.8 1211.9,1975.2 1212.9,1970.3 1213.9,1963.7 1214.9,1955.9 1215.9,1947.6 1216.9,1939.5 1217.9,1932 1218.9,1925.9 1219.9,1921.7 1220.9,1920.1 1221.9,1921.2 1222.9,1924.5 1223.9,1929.5 1224.9,1935.5 1225.9,1942 1226.9,1948.5 1227.9,1956.5 1228.9,1967.4 1229.9,1979.7 1230.9,1992.1 1231.9,2002.9 1232.9,2010.7 1233.9,2014 1234.9,2010.7 1235.9,2000.5 1236.9,1985.8 1237.9,1968.8 1238.9,1951.8 1239.9,1937 1240.9,1926.7 1241.9,1923.2 1242.9,1927.3 1243.9,1937.5 1244.9,1952.3 1245.9,1970.3 1246.9,1989.9 1247.9,2009.7 1248.9,2028.3 1249.9,2044.1 1250.9,2055.8 1251.9,2061.8 1252.9,2061.5 1253.9,2057.6 1254.9,2052 1255.9,2045.9 1256.9,2041.1 1257.9,2038.8 1258.9,2040.9 1259.9,2047.3 1260.9,2056.5 1261.9,2066.8 1262.9,2076.7 1263.9,2084.7 1264.9,2089.2 1265.9,2089.2 1266.9,2086.3 1267.9,2081.8 1268.9,2076.3 1269.9,2070.8 1270.9,2066.1 1271.9,2063 1272.9,2062.5 1273.9,2065.8 1274.9,2072.3 1275.9,2080.6 1276.9,2089.6 1277.9,2098 1278.9,2104.5 1279.9,2107.8 1280.9,2105.8 1281.9,2096.7 1282.9,2082.3 1283.9,2064.3 1284.9,2044.7 1285.9,2025.3 1286.9,2008.2 1287.9,1995.2 1288.9,1988.1 1289.9,1988.2 1290.9,1992.8 1291.9,2000.7 1292.9,2011 1293.9,2022.9 1294.9,2035.3 1295.9,2047.3 1296.9,2058.2 1297.9,2066.8 1298.9,2072.4 1299.9,2074 1300.9,2071.4 1301.9,2066.1 1302.9,2059.4 1303.9,2052.9 1304.9,2048.2 1305.9,2044.9 1306.9,2041.7 1307.9,2038.7 1308.9,2036.1 1309.9,2034.1 1310.9,2033 1311.9,2033.2 1312.9,2036.6 1313.9,2042.7 1314.9,2049.9 1315.9,2056.9 1316.9,2062.4 1317.9,2064.9 1318.9,2063.5 1319.9,2059.1 1320.9,2052.4 1321.9,2044 1322.9,2034.6 1323.9,2025 1324.9,2015.9 1325.9,2007.9 1326.9,2001.8 1327.9,1998.4 1328.9,1998.5 1329.9,2004.5 1330.9,2014.6 1331.9,2026.8 1332.9,2038.9 1333.9,2048.7 1334.9,2054 1335.9,2053.7 1336.9,2050.3 1337.9,2045 1338.9,2038.8 1339.9,2032.8 1340.9,2027.9 1341.9,2025.2 1342.9,2026.6 1343.9,2035.3 1344.9,2048.9 1345.9,2064.7 1346.9,2079.8 1347.9,2091.5 1348.9,2097.1 1349.9,2095.3 1350.9,2088.5 1351.9,2077.9 1352.9,2064.8 1353.9,2050.5 1354.9,2036.2 1355.9,2023.2 1356.9,2012.6 1357.9,2005.8 1358.9,2003.9 1359.9,2005.9 1360.9,2010.5 1361.9,2016.9 1362.9,2024.5 1363.9,2032.5 1364.9,2040.2 1365.9,2047 1366.9,2052.2 1367.9,2055.1 1368.9,2054.8 1369.9,2050.2 1370.9,2042.8 1371.9,2034.5 1372.9,2027.2 1373.9,2022.7 1374.9,2022.4 1375.9,2024.6 1376.9,2028.3 1377.9,2032.8 1378.9,2038.4 1379.9,2048.4 1380.9,2061.6 1381.9,2076.3 1382.9,2090.9 1383.9,2103.8 1384.9,2113.4 1385.9,2118 1386.9,2117.2 1387.9,2113.4 1388.9,2107.4 1389.9,2099.9 1390.9,2091.7 1391.9,2083.5 1392.9,2076 1393.9,2069.9 1394.9,2065.6 1395.9,2061.7 1396.9,2057.8 1397.9,2054.1 1398.9,2050.6 1399.9,2047.5 1400.9,2044.9 1401.9,2042.9 1402.9,2041.6 1403.9,2041.2 1404.9,2042.2 1405.9,2045 1406.9,2049.1 1407.9,2054.2 1408.9,2060 1409.9,2066 1410.9,2072 1411.9,2077.6 1412.9,2082.5 1413.9,2086.2 1414.9,2088.4 1415.9,2088.6 1416.9,2083.1 1417.9,2072.5 1418.9,2059.2 1419.9,2045.3 1420.9,2033.1 1421.9,2025 1422.9,2023.2 1423.9,2029.2 1424.9,2040.6 1425.9,2053.6 1426.9,2064.9 1427.9,2070.9 1428.9,2070.1 1429.9,2066.1 1430.9,2060.3 1431.9,2054.1 1432.9,2048.5 1433.9,2044 1434.9,2039 1435.9,2033.8 1436.9,2028.8 1437.9,2024.3 1438.9,2020.5 1439.9,2017.7 1440.9,2016.4 1441.9,2017.4 1442.9,2021.9 1443.9,2028.9 1444.9,2037.4 1445.9,2046.3 1446.9,2054.6 1447.9,2061.2 1448.9,2065 1449.9,2067.4 1450.9,2069.2 1451.9,2070.7 1452.9,2072 1453.9,2073.1 1454.9,2074.3 1455.9,2075.5 1456.9,2076.9 1457.9,2078.7 1458.9,2080.9 1459.9,2084.3 1460.9,2089.8 1461.9,2096 1462.9,2101 1463.9,2103.4 1464.9,2104.4 1465.9,2105.2 1466.9,2105.8 1467.9,2106.3 1468.9,2107 1469.9,2108 1470.9,2109.1 1471.9,2110.4 1472.9,2111.9 1473.9,2113.5 1474.9,2115.3 1475.9,2117.3 1476.9,2119.5 1477.9,2122 1478.9,2125.8 1479.9,2130.7 1480.9,2136.5 1481.9,2142.5 1482.9,2148.5 1483.9,2154.1 1484.9,2158.9 1485.9,2162.4 1486.9,2164.3 1487.9,2164.3 1488.9,2162.1 1489.9,2158.1 1490.9,2152.6 1491.9,2145.9 1492.9,2138.5 1493.9,2130.5 1494.9,2122.4 1495.9,2114.4 1496.9,2106.9 1497.9,2100.3 1498.9,2094.8 1499.9,2090.7 1500.9,2088.5 1501.9,2088.6 1502.9,2092.8 1503.9,2100.1 1504.9,2108.8 1505.9,2117.4 1506.9,2124.5 1507.9,2128.3 1508.9,2127.1 1509.9,2120.8 1510.9,2112.5 1511.9,2105.8 1512.9,2103.9 1513.9,2106.7 1514.9,2113.1 1515.9,2122.5 1516.9,2134.5 1517.9,2148.6 1518.9,2164.3 1519.9,2181 1520.9,2198.4 1521.9,2215.9 1522.9,2233.1 1523.9,2249.4 1524.9,2264.3 1525.9,2277.4 1526.9,2288.3 1527.9,2296.3 1528.9,2301 1529.9,2302 1530.9,2300.1 1531.9,2295.9 1532.9,2289.9 1533.9,2282.3 1534.9,2273.6 1535.9,2264.1 1536.9,2254.1 1537.9,2244.1 1538.9,2234.2 1539.9,2220.4 1540.9,2203.9 1541.9,2190.6 1542.9,2185.7 1543.9,2184.9 1544.9,2184.5 1545.9,2184 1546.9,2182.9 1547.9,2180.3 1548.9,2176.2 1549.9,2171 1550.9,2165.2 1551.9,2159.1 1552.9,2153.3 1553.9,2147.2 1554.9,2139.7 1555.9,2131.3 1556.9,2122.8 1557.9,2114.9 1558.9,2108.3 1559.9,2103.8 1560.9,2102 1561.9,2103.9 1562.9,2109.4 1563.9,2116.9 1564.9,2125 1565.9,2132.4 1566.9,2137.5 1567.9,2138.9 1568.9,2135.9 1569.9,2129.2 1570.9,2119.5 1571.9,2107.8 1572.9,2095.1 1573.9,2082.2 1574.9,2070 1575.9,2059.5 1576.9,2051.5 1577.9,2047 1578.9,2046.5 1579.9,2047.4 1580.9,2049 1581.9,2051.2 1582.9,2053.9 1583.9,2060 1584.9,2069.1 1585.9,2079.2 1586.9,2088.3 1587.9,2094.5 1588.9,2095.7 1589.9,2091.5 1590.9,2082.9 1591.9,2071.1 1592.9,2057.2 1593.9,2042.4 1594.9,2027.9 1595.9,2014.7 1596.9,2004.1 1597.9,1997.1 1598.9,1995 1599.9,1995.7 1600.9,1997.4 1601.9,1999.7 1602.9,2002.3 1603.9,2004.8 1604.9,2006.9 1605.9,2008.2 1606.9,2008.3 1607.9,2003.7 1608.9,1994.2 1609.9,1980.9 1610.9,1965.2 1611.9,1948 1612.9,1930.6 1613.9,1914.1 1614.9,1899.8 1615.9,1888.7 1616.9,1882.1 1617.9,1880.9 1618.9,1884 1619.9,1889.9 1620.9,1897.2 1621.9,1904.8 1622.9,1911.3 1623.9,1915.7 1624.9,1916.6 1625.9,1914.6 1626.9,1911.3 1627.9,1907.9 1628.9,1905.7 1629.9,1906.4 1630.9,1911.8 1631.9,1921 1632.9,1932.7 1633.9,1945.7 1634.9,1958.9 1635.9,1971.1 1636.9,1980.9 1637.9,1987.2 1638.9,1988.9 1639.9,1986.1 1640.9,1980.2 1641.9,1972.4 1642.9,1963.7 1643.9,1955.4 1644.9,1948.5 1645.9,1944.2 1646.9,1943.4 1647.9,1944.8 1648.9,1947.2 1649.9,1949.9 1650.9,1952.2 1651.9,1953.6 1652.9,1953.7 1653.9,1953.5 1654.9,1953.1 1655.9,1952.6 1656.9,1950.9 1657.9,1945.7 1658.9,1937.8 1659.9,1928.6 1660.9,1919.3 1661.9,1910.9 1662.9,1904.8 1663.9,1902.1 1664.9,1903.5 1665.9,1907.1 1666.9,1910.2 1667.9,1910 1668.9,1905.5 1669.9,1898.6 1670.9,1891.8 1671.9,1887.3 1672.9,1887.8 1673.9,1894.5 1674.9,1905.2 1675.9,1917.2 1676.9,1927.7 1677.9,1934.1 1678.9,1934.5 1679.9,1932.1 1680.9,1928.6 1681.9,1925.6 1682.9,1924.5 1683.9,1927.2 1684.9,1932.7 1685.9,1938.8 1686.9,1943.3 1687.9,1945.8 1688.9,1947.4 1689.9,1946.4 1690.9,1943.5 1691.9,1940.6 1692.9,1939.7 1693.9,1945.6 1694.9,1958.3 1695.9,1975.3 1696.9,1994.1 1697.9,2012.3 1698.9,2027.4 1699.9,2036.8 1700.9,2038.5 1701.9,2035.2 1702.9,2028.9 1703.9,2020.8 1704.9,2012.1 1705.9,2003.9 1706.9,1997.4 1707.9,1993.6 1708.9,1993.7 1709.9,1998.4 1710.9,2006.6 1711.9,2017.4 1712.9,2029.8 1713.9,2043 1714.9,2055.8 1715.9,2067.4 1716.9,2076.8 1717.9,2082.9 1718.9,2084.9 1719.9,2082.6 1720.9,2077.6 1721.9,2071.5 1722.9,2065.9 1723.9,2062.6 1724.9,2062.4 1725.9,2063.6 1726.9,2065.5 1727.9,2068.1 1728.9,2071.1 1729.9,2074.4 1730.9,2077.8 1731.9,2081.3 1732.9,2086.5 1733.9,2092.8 1734.9,2099.3 1735.9,2105.2 1736.9,2109.6 1737.9,2111.7 1738.9,2109.3 1739.9,2099.6 1740.9,2084.2 1741.9,2064.9 1742.9,2043.5 1743.9,2021.7 1744.9,2001.4 1745.9,1984.4 1746.9,1972.3 1747.9,1967.1 1748.9,1969.2 1749.9,1976.6 1750.9,1988 1751.9,2002.1 1752.9,2017.6 1753.9,2033.2 1754.9,2047.7 1755.9,2059.7 1756.9,2068.1 1757.9,2071.4 1758.9,2068.2 1759.9,2058.9 1760.9,2045 1761.9,2027.9 1762.9,2009.3 1763.9,1990.7 1764.9,1973.6 1765.9,1959.5 1766.9,1950 1767.9,1946.6 1768.9,1949.1 1769.9,1955.5 1770.9,1965.1 1771.9,1977 1772.9,1990.5 1773.9,2004.7 1774.9,2018.8 1775.9,2031.9 1776.9,2043.2 1777.9,2051.9 1778.9,2057.1 1779.9,2058.2 1780.9,2055.7 1781.9,2051.8 1782.9,2048.6 1783.9,2048.2 1784.9,2052.5 1785.9,2061 1786.9,2073 1787.9,2087.7 1788.9,2104.4 1789.9,2122.3 1790.9,2140.6 1791.9,2158.5 1792.9,2175.4 1793.9,2190.5 1794.9,2205.4 1795.9,2222.1 1796.9,2238.7 1797.9,2253.5 1798.9,2264.6 1799.9,2270.4 1800.9,2272.8 1801.9,2274.5 1802.9,2276.8 1803.9,2283.1 1804.9,2294.5 1805.9,2305 1806.9,2308.7 1807.9,2301.4 1808.9,2285.4 1809.9,2264 1810.9,2240.5 1811.9,2218.2 1812.9,2200.4 1813.9,2190.4 1814.9,2190.1 1815.9,2194.6 1816.9,2201.8 1817.9,2209.9 1818.9,2217.6 1819.9,2223.3 1820.9,2225.3 1821.9,2220.9 1822.9,2209.5 1823.9,2192.8 1824.9,2172.1 1825.9,2149.1 1826.9,2125.3 1827.9,2102.1 1828.9,2081.2 1829.9,2064 1830.9,2051.9 1831.9,2046.7 1832.9,2049.5 1833.9,2059.8 1834.9,2075.8 1835.9,2095.7 1836.9,2117.9 1837.9,2140.4 1838.9,2161.7 1839.9,2179.9 1840.9,2193.2 1841.9,2200 1842.9,2198.7 1843.9,2189.6 1844.9,2174.8 1845.9,2156.1 1846.9,2135.4 1847.9,2114.7 1848.9,2095.7 1849.9,2080.6 1850.9,2071 1851.9,2069 1852.9,2074.8 1853.9,2086.6 1854.9,2103 1855.9,2122.3 1856.9,2142.9 1857.9,2163.3 1858.9,2181.7 1859.9,2196.6 1860.9,2206.5 1861.9,2209.6 1862.9,2204 1863.9,2190.4 1864.9,2171.1 1865.9,2148.5 1866.9,2124.8 1867.9,2102.4 1868.9,2083.3 1869.9,2070.1 1870.9,2064.9 1871.9,2066.5 1872.9,2071 1873.9,2077.4 1874.9,2084.6 1875.9,2091.7 1876.9,2097.6 1877.9,2101.7 1878.9,2105.5 1879.9,2109 1880.9,2111.7 1881.9,2113.1 1882.9,2111.8 1883.9,2106.4 1884.9,2097.7 1885.9,2086.4 1886.9,2073.6 1887.9,2060 1888.9,2046.8 1889.9,2034.6 1890.9,2024.5 1891.9,2017.4 1892.9,2014.1 1893.9,2014.9 1894.9,2018.6 1895.9,2024.5 1896.9,2032.1 1897.9,2040.9 1898.9,2050.3 1899.9,2059.7 1900.9,2068.6 1901.9,2076.5 1902.9,2082.8 1903.9,2086.9 1904.9,2088.3 1905.9,2084.5 1906.9,2075.2 1907.9,2062.9 1908.9,2050.1 1909.9,2039.2 1910.9,2032.6 1911.9,2031.8 1912.9,2032.4 1913.9,2033.5 1914.9,2035 1915.9,2036.9 1916.9,2039 1917.9,2041.3 1918.9,2045.5 1919.9,2052.3 1920.9,2060.6 1921.9,2068.8 1922.9,2075.7 1923.9,2079.9 1924.9,2080.3 1925.9,2078.9 1926.9,2076.2 1927.9,2072.7 1928.9,2068.7 1929.9,2064.5 1930.9,2060.5 1931.9,2056.9 1932.9,2054.3 1933.9,2052.7 1934.9,2051.7 1935.9,2051 1936.9,2050.4 1937.9,2049.9 1938.9,2049.2 1939.9,2048.4 1940.9,2047.3 1941.9,2045.3 1942.9,2040.5 1943.9,2034.1 1944.9,2027.5 1945.9,2022.5 1946.9,2019.2 1947.9,2016.1 1948.9,2013.2 1949.9,2010.7 1950.9,2008.8 1951.9,2007.7 1952.9,2007.6 1953.9,2010.8 1954.9,2017.2 1955.9,2026 1956.9,2036.4 1957.9,2047.5 1958.9,2058.4 1959.9,2068.3 1960.9,2076.2 1961.9,2081.5 1962.9,2083.1 1963.9,2082 1964.9,2079.4 1965.9,2075.6 1966.9,2071 1967.9,2066.1 1968.9,2061 1969.9,2056.3 1970.9,2052.4 1971.9,2049.5 1972.9,2048 1973.9,2050.2 1974.9,2060.7 1975.9,2077.2 1976.9,2096.5 1977.9,2115.8 1978.9,2132.1 1979.9,2142.4 1980.9,2143.5 1981.9,2132.5 1982.9,2112.6 1983.9,2087.8 1984.9,2062.4 1985.9,2040.5 1986.9,2026.3 1987.9,2023.4 1988.9,2027.8 1989.9,2037.4 1990.9,2052.2 1991.9,2072.1 1992.9,2097 1993.1,2101.4"/>
<path stroke="#ff0000" d="M336.9,2114 337.9,2127.5 338.9,2137.2 339.9,2143.5 340.9,2147.2 341.9,2148.9 342.9,2148.8 343.9,2140.3 344.9,2122.9 345.9,2098.9 346.9,2071 347.9,2041.6 348.9,2013.4 349.9,1988.7 350.9,1970.2 351.9,1960.4 352.9,1960.5 353.9,1965.9 354.9,1975.3 355.9,1987.9 356.9,2002.8 357.9,2019.1 358.9,2036 359.9,2052.6 360.9,2068 361.9,2081.4 362.9,2092 363.9,2098.7 364.9,2100.9 365.9,2095.6 366.9,2083.2 367.9,2066.4 368.9,2048 369.9,2030.9 370.9,2017.7 371.9,2011.1 372.9,2012.8 373.9,2019.9 374.9,2030.9 375.9,2044.4 376.9,2058.7 377.9,2072.5 378.9,2084.1 379.9,2092.1 380.9,2095.4 381.9,2097.5 382.9,2099.1 383.9,2099.6 384.9,2097.4 385.9,2092.1 386.9,2085 387.9,2077.6 388.9,2071.3 389.9,2067.5 390.9,2067.6 391.9,2071.7 392.9,2078.1 393.9,2085.2 394.9,2091.2 395.9,2094.3 396.9,2090.9 397.9,2078.2 398.9,2060.9 399.9,2043.7 400.9,2031.4 401.9,2028.7 402.9,2034.3 403.9,2045.6 404.9,2060.8 405.9,2078 406.9,2095.4 407.9,2111.4 408.9,2124 409.9,2131.5 410.9,2132.2 411.9,2126.8 412.9,2117.6 413.9,2106.6 414.9,2095.9 415.9,2087.7 416.9,2084 417.9,2086.8 418.9,2095.8 419.9,2109.9 420.9,2127.7 421.9,2148.1 422.9,2169.6 423.9,2191.2 424.9,2211.4 425.9,2229.1 426.9,2243 427.9,2251.8 428.9,2254.3 429.9,2249.9 430.9,2240 431.9,2226.1 432.9,2210 433.9,2193.3 434.9,2177.4 435.9,2164.2 436.9,2155.1 437.9,2151.8 438.9,2159.4 439.9,2178.8 440.9,2205.8 441.9,2235.9 442.9,2265.1 443.9,2289.1 444.9,2303.4 445.9,2304.7 446.9,2295.8 447.9,2279.3 448.9,2257.1 449.9,2231.3 450.9,2203.7 451.9,2176.4 452.9,2151.1 453.9,2130 454.9,2114.9 455.9,2107.8 456.9,2108.5 457.9,2112.6 458.9,2118.9 459.9,2126.4 460.9,2134.1 461.9,2140.9 462.9,2145.8 463.9,2147.9 464.9,2143.6 465.9,2131 466.9,2112.7 467.9,2091.4 468.9,2069.8 469.9,2050.5 470.9,2036.3 471.9,2029.8 472.9,2032.1 473.9,2040.5 474.9,2053.9 475.9,2070.9 476.9,2090.5 477.9,2111.3 478.9,2132.1 479.9,2151.8 480.9,2169.1 481.9,2182.7 482.9,2191.5 483.9,2194.3 484.9,2188.9 485.9,2176 486.9,2157.4 487.9,2135.2 488.9,2111.3 489.9,2087.7 490.9,2066.3 491.9,2049.1 492.9,2038 493.9,2035 494.9,2039.8 495.9,2050.2 496.9,2064.6 497.9,2081.4 498.9,2098.8 499.9,2115.2 500.9,2128.8 501.9,2138.1 502.9,2141.4 503.9,2136.4 504.9,2124.1 505.9,2106.8 506.9,2086.9 507.9,2066.6 508.9,2048.4 509.9,2034.6 510.9,2027.5 511.9,2029.4 512.9,2040.2 513.9,2057.9 514.9,2081 515.9,2107.5 516.9,2135.6 517.9,2163.6 518.9,2189.6 519.9,2211.8 520.9,2228.5 521.9,2237.9 522.9,2237.7 523.9,2226 524.9,2205.2 525.9,2178.1 526.9,2147.8 527.9,2117.2 528.9,2089.4 529.9,2067.2 530.9,2053.6 531.9,2052 532.9,2066.2 533.9,2090.7 534.9,2118.3 535.9,2141.3 536.9,2152.4 537.9,2147.3 538.9,2130.1 539.9,2105.2 540.9,2076.5 541.9,2048.1 542.9,2024.2 543.9,2008.7 544.9,2005.6 545.9,2013.2 546.9,2027.9 547.9,2046.6 548.9,2066.4 549.9,2084.2 550.9,2097.2 551.9,2102.2 552.9,2099 553.9,2090.8 554.9,2080.3 555.9,2070 556.9,2062.4 557.9,2055.1 558.9,2047.8 559.9,2042 560.9,2038.6 561.9,2039.3 562.9,2044.9 563.9,2054.5 564.9,2066.8 565.9,2080.7 566.9,2095.1 567.9,2108.7 568.9,2120.4 569.9,2128.9 570.9,2133.2 571.9,2131.7 572.9,2123.1 573.9,2109.7 574.9,2093.5 575.9,2076.6 576.9,2061.3 577.9,2049 578.9,2036.3 579.9,2022.8 580.9,2009.4 581.9,1996.8 582.9,1986 583.9,1977.7 584.9,1972.8 585.9,1972.4 586.9,1981.2 587.9,1997.7 588.9,2018.9 589.9,2041.5 590.9,2062.4 591.9,2078.4 592.9,2086.2 593.9,2085.8 594.9,2083.3 595.9,2079.8 596.9,2076.5 597.9,2073.5 598.9,2070 599.9,2067 600.9,2065.7 601.9,2070.3 602.9,2083.8 603.9,2104.1 604.9,2128.7 605.9,2155.4 606.9,2181.8 607.9,2205.7 608.9,2224.7 609.9,2236.5 610.9,2238.6 611.9,2226.6 612.9,2202.8 613.9,2171.2 614.9,2136 615.9,2101.2 616.9,2070.9 617.9,2049.3 618.9,2040.4 619.9,2043.1 620.9,2051.6 621.9,2064.7 622.9,2081.4 623.9,2100.7 624.9,2121.5 625.9,2142.8 626.9,2163.5 627.9,2182.6 628.9,2199.1 629.9,2211.9 630.9,2219.9 631.9,2222.2 632.9,2219.9 633.9,2214.5 634.9,2207 635.9,2198 636.9,2188.6 637.9,2179.3 638.9,2171.2 639.9,2165 640.9,2161.4 641.9,2161.4 642.9,2165.1 643.9,2171.4 644.9,2179 645.9,2186.5 646.9,2192.9 647.9,2196.8 648.9,2196.7 649.9,2190.4 650.9,2178.6 651.9,2162.9 652.9,2144.6 653.9,2125.2 654.9,2106.1 655.9,2088.8 656.9,2074.7 657.9,2065.2 658.9,2061.8 659.9,2066.7 660.9,2080.1 661.9,2100.1 662.9,2124.9 663.9,2152.7 664.9,2181.5 665.9,2209.7 666.9,2235.2 667.9,2256.4 668.9,2271.3 669.9,2278.2 670.9,2276.5 671.9,2269.5 672.9,2258.7 673.9,2245.6 674.9,2231.7 675.9,2218.5 676.9,2207.6 677.9,2200.4 678.9,2198.4 679.9,2202.5 680.9,2211.3 681.9,2222.7 682.9,2234.9 683.9,2245.7 684.9,2253.3 685.9,2255.6 686.9,2245.7 687.9,2222.7 688.9,2189.9 689.9,2150.6 690.9,2108.1 691.9,2065.7 692.9,2026.8 693.9,1994.7 694.9,1972.6 695.9,1964 696.9,1969.2 697.9,1984.4 698.9,2007.5 699.9,2036 700.9,2067.7 701.9,2100.4 702.9,2131.6 703.9,2159.2 704.9,2180.9 705.9,2194.2 706.9,2197.3 707.9,2192 708.9,2181.5 709.9,2168 710.9,2153.7 711.9,2140.6 712.9,2131 713.9,2127.1 714.9,2130.5 715.9,2140.6 716.9,2156.3 717.9,2176.2 718.9,2199 719.9,2223.6 720.9,2248.5 721.9,2272.5 722.9,2294.4 723.9,2312.9 724.9,2326.7 725.9,2334.5 726.9,2334.1 727.9,2318.3 728.9,2289.6 729.9,2252.6 730.9,2212.2 731.9,2172.9 732.9,2139.5 733.9,2116.6 734.9,2108.8 735.9,2111.5 736.9,2118 737.9,2126.7 738.9,2136.3 739.9,2145.3 740.9,2152.2 741.9,2155.6 742.9,2153.5 743.9,2144.8 744.9,2130.9 745.9,2113.3 746.9,2093.7 747.9,2073.6 748.9,2054.6 749.9,2038.2 750.9,2025.9 751.9,2019.4 752.9,2020.1 753.9,2026.8 754.9,2035 755.9,2040.5 756.9,2038.4 757.9,2028 758.9,2014.1 759.9,2002 760.9,1996.6 761.9,2000.8 762.9,2012.3 763.9,2029 764.9,2048.6 765.9,2069 766.9,2087.8 767.9,2103 768.9,2112.2 769.9,2113.5 770.9,2107.1 771.9,2095.3 772.9,2079.8 773.9,2062.8 774.9,2046.1 775.9,2031.9 776.9,2021.9 777.9,2018.2 778.9,2020.5 779.9,2026.3 780.9,2034.3 781.9,2043.4 782.9,2052.3 783.9,2059.9 784.9,2068.4 785.9,2077.9 786.9,2087.3 787.9,2095.6 788.9,2101.7 789.9,2104.7 790.9,2102.8 791.9,2094.6 792.9,2082 793.9,2067.1 794.9,2051.9 795.9,2038.4 796.9,2028.6 797.9,2024.5 798.9,2026.1 799.9,2030.5 800.9,2036.8 801.9,2043.5 802.9,2049.6 803.9,2053.9 804.9,2055.2 805.9,2049.2 806.9,2035.7 807.9,2017.2 808.9,1996.2 809.9,1975.1 810.9,1956.4 811.9,1942.6 812.9,1936 813.9,1939.4 814.9,1948.4 815.9,1952 816.9,1946.4 817.9,1938.8 818.9,1937.1 819.9,1944 820.9,1955.3 821.9,1966.2 822.9,1971.7 823.9,1970.9 824.9,1968 825.9,1963.7 826.9,1958.5 827.9,1952.8 828.9,1946.3 829.9,1936.4 830.9,1923.9 831.9,1909.8 832.9,1895.4 833.9,1881.6 834.9,1869.7 835.9,1860.7 836.9,1855.8 837.9,1855.8 838.9,1860.1 839.9,1867.6 840.9,1877 841.9,1887.3 842.9,1897.4 843.9,1906.1 844.9,1912.3 845.9,1914.9 846.9,1910.1 847.9,1895.8 848.9,1874.9 849.9,1850.2 850.9,1824.8 851.9,1801.5 852.9,1783.4 853.9,1773.3 854.9,1773 855.9,1777.8 856.9,1786 857.9,1796.4 858.9,1808 859.9,1822 860.9,1845.2 861.9,1874.5 862.9,1905.5 863.9,1933.8 864.9,1955.1 865.9,1965 866.9,1962.9 867.9,1954.6 868.9,1942.7 869.9,1929.2 870.9,1916.4 871.9,1906.4 872.9,1901.5 873.9,1904.8 874.9,1918.1 875.9,1939.4 876.9,1966.6 877.9,1997.4 878.9,2029.8 879.9,2061.5 880.9,2090.4 881.9,2114.3 882.9,2131.1 883.9,2138.6 884.9,2137.2 885.9,2131.7 886.9,2123.3 887.9,2113.3 888.9,2102.9 889.9,2093.4 890.9,2083.9 891.9,2072.4 892.9,2060.7 893.9,2050.6 894.9,2044.2 895.9,2042.8 896.9,2043.7 897.9,2045.4 898.9,2047.7 899.9,2050.3 900.9,2052.9 901.9,2055.8 902.9,2059.8 903.9,2064.6 904.9,2069.6 905.9,2074.2 906.9,2077.8 907.9,2079.8 908.9,2076.9 909.9,2057.7 910.9,2026.3 911.9,1988.9 912.9,1951.7 913.9,1920.9 914.9,1902.6 915.9,1902.1 916.9,1916.9 917.9,1943.3 918.9,1978.2 919.9,2018.5 920.9,2061.1 921.9,2102.7 922.9,2140.3 923.9,2170.7 924.9,2190.8 925.9,2197.5 926.9,2188.7 927.9,2167.5 928.9,2137.6 929.9,2102.9 930.9,2067.3 931.9,2034.6 932.9,2008.8 933.9,1993.7 934.9,1992.4 935.9,2001.2 936.9,2016.2 937.9,2034.5 938.9,2053 939.9,2068.6 940.9,2078.3 941.9,2079.4 942.9,2072.8 943.9,2061.3 944.9,2047.2 945.9,2033 946.9,2021.1 947.9,2013.4 948.9,2006.6 949.9,1999.9 950.9,1993.4 951.9,1987.5 952.9,1982.1 953.9,1977.6 954.9,1974 955.9,1971.6 956.9,1970.5 957.9,1974 958.9,1988.3 959.9,2010.9 960.9,2039.4 961.9,2071 962.9,2103.1 963.9,2133.2 964.9,2158.5 965.9,2176.4 966.9,2184.3 967.9,2182.2 968.9,2174.6 969.9,2163.2 970.9,2149.4 971.9,2134.9 972.9,2121.3 973.9,2110.1 974.9,2102.8 975.9,2101.4 976.9,2113 977.9,2136.8 978.9,2168.2 979.9,2202.6 980.9,2235.7 981.9,2262.8 982.9,2279.3 983.9,2281.1 984.9,2269.2 985.9,2246.8 986.9,2216.9 987.9,2182.3 988.9,2146.1 989.9,2111.3 990.9,2080.7 991.9,2057.3 992.9,2044.1 993.9,2042.9 994.9,2047.6 995.9,2056.3 996.9,2068.2 997.9,2082.5 998.9,2098.4 999.9,2114.9 1000.9,2131.4 1001.9,2147.1 1002.9,2161 1003.9,2172.3 1004.9,2180.4 1005.9,2184.2 1006.9,2181.5 1007.9,2168.6 1008.9,2149.1 1009.9,2126.5 1010.9,2104.5 1011.9,2086.9 1012.9,2077.4 1013.9,2079 1014.9,2090.1 1015.9,2106.9 1016.9,2125.5 1017.9,2142.1 1018.9,2152.8 1019.9,2154.5 1020.9,2150.2 1021.9,2142.3 1022.9,2132.5 1023.9,2122.3 1024.9,2113.2 1025.9,2105.8 1026.9,2097.7 1027.9,2089.2 1028.9,2081 1029.9,2073.5 1030.9,2067.3 1031.9,2063 1032.9,2061 1033.9,2062.5 1034.9,2068 1035.9,2076.7 1036.9,2087.7 1037.9,2100.1 1038.9,2113.1 1039.9,2125.7 1040.9,2137.1 1041.9,2146.5 1042.9,2152.8 1043.9,2155.6 1044.9,2157 1045.9,2158 1046.9,2159.2 1047.9,2161.5 1048.9,2166.9 1049.9,2174.3 1050.9,2182.4 1051.9,2190 1052.9,2195.6 1053.9,2198 1054.9,2195.8 1055.9,2189.9 1056.9,2182.1 1057.9,2174.2 1058.9,2168 1059.9,2165.4 1060.9,2167.8 1061.9,2174.4 1062.9,2183 1063.9,2191.4 1064.9,2197.5 1065.9,2199.1 1066.9,2195.1 1067.9,2186.5 1068.9,2174.8 1069.9,2161.5 1070.9,2148 1071.9,2135.9 1072.9,2126.6 1073.9,2121.5 1074.9,2123.1 1075.9,2134.5 1076.9,2152.4 1077.9,2172.9 1078.9,2192.1 1079.9,2206.1 1080.9,2211 1081.9,2205.9 1082.9,2193.7 1083.9,2176.6 1084.9,2157 1085.9,2137.1 1086.9,2119.3 1087.9,2105.9 1088.9,2099.2 1089.9,2101.2 1090.9,2110.9 1091.9,2126.1 1092.9,2144.1 1093.9,2162.7 1094.9,2179.2 1095.9,2191.3 1096.9,2196.6 1097.9,2192.4 1098.9,2179.6 1099.9,2162 1100.9,2142.9 1101.9,2126.2 1102.9,2115.3 1103.9,2113.6 1104.9,2117.9 1105.9,2124.3 1106.9,2129.2 1107.9,2129.6 1108.9,2125.2 1109.9,2116.6 1110.9,2104.5 1111.9,2089.2 1112.9,2071.4 1113.9,2051.5 1114.9,2030.1 1115.9,2007.7 1116.9,1984.9 1117.9,1962.1 1118.9,1939.9 1119.9,1918.7 1120.9,1899.2 1121.9,1881.8 1122.9,1864.4 1123.9,1845.6 1124.9,1825.7 1125.9,1805.2 1126.9,1784.3 1127.9,1763.5 1128.9,1743.1 1129.9,1723.5 1130.9,1705 1131.9,1688.1 1132.9,1673 1133.9,1660.2 1134.9,1650 1135.9,1642.7 1136.9,1638.8 1137.9,1638.7 1138.9,1642.6 1139.9,1649.8 1140.9,1659.4 1141.9,1670.3 1142.9,1681.7 1143.9,1692.7 1144.9,1702.2 1145.9,1709.5 1146.9,1713.4 1147.9,1713.5 1148.9,1710.6 1149.9,1705.4 1150.9,1698.8 1151.9,1691.4 1152.9,1683.9 1153.9,1677 1154.9,1671.3 1155.9,1667.6 1156.9,1666.5 1157.9,1670.5 1158.9,1680.2 1159.9,1694.5 1160.9,1712.7 1161.9,1733.7 1162.9,1756.7 1163.9,1780.7 1164.9,1804.9 1165.9,1828.4 1166.9,1850.2 1167.9,1869.4 1168.9,1885.1 1169.9,1896.4 1170.9,1902.4 1171.9,1902.4 1172.9,1897.6 1173.9,1889.2 1174.9,1878.4 1175.9,1866.1 1176.9,1853.5 1177.9,1841.6 1178.9,1831.6 1179.9,1824.5 1180.9,1821.5 1181.9,1823.7 1182.9,1831 1183.9,1842 1184.9,1855 1185.9,1868.7 1186.9,1881.6 1187.9,1892.1 1188.9,1898.9 1189.9,1900.2 1190.9,1894.7 1191.9,1883 1192.9,1866.6 1193.9,1846.9 1194.9,1825.4 1195.9,1803.3 1196.9,1782.1 1197.9,1763.3 1198.9,1748.2 1199.9,1738.2 1200.9,1734.8 1201.9,1740.4 1202.9,1754.6 1203.9,1775.2 1204.9,1799.9 1205.9,1826.4 1206.9,1852.4 1207.9,1875.6 1208.9,1893.7 1209.9,1904.5 1210.9,1906.2 1211.9,1902.3 1212.9,1894.8 1213.9,1884.8 1214.9,1873.1 1215.9,1860.5 1216.9,1848.2 1217.9,1836.9 1218.9,1827.6 1219.9,1821.3 1220.9,1818.8 1221.9,1820.5 1222.9,1825.4 1223.9,1832.7 1224.9,1841.6 1225.9,1851.2 1226.9,1860.9 1227.9,1872.9 1228.9,1889.5 1229.9,1908.3 1230.9,1927 1231.9,1943.5 1232.9,1955.4 1233.9,1960.5 1234.9,1955.5 1235.9,1940.2 1236.9,1918 1237.9,1892.3 1238.9,1866.6 1239.9,1844.3 1240.9,1828.8 1241.9,1823.6 1242.9,1829.7 1243.9,1845 1244.9,1867.2 1245.9,1894.2 1246.9,1923.6 1247.9,1953.4 1248.9,1981.3 1249.9,2005 1250.9,2022.5 1251.9,2031.5 1252.9,2031 1253.9,2025 1254.9,2016.2 1255.9,2006.9 1256.9,1999.3 1257.9,1995.8 1258.9,1999 1259.9,2008.8 1260.9,2022.9 1261.9,2038.8 1262.9,2054.1 1263.9,2066.4 1264.9,2073.3 1265.9,2073.2 1266.9,2068.9 1267.9,2062 1268.9,2053.7 1269.9,2045.3 1270.9,2038.1 1271.9,2033.4 1272.9,2032.7 1273.9,2039.6 1274.9,2053.1 1275.9,2070.5 1276.9,2089.3 1277.9,2106.8 1278.9,2120.2 1279.9,2127.1 1280.9,2123.8 1281.9,2108.1 1282.9,2083 1283.9,2051.9 1284.9,2017.9 1285.9,1984.5 1286.9,1954.8 1287.9,1932.2 1288.9,1920 1289.9,1920 1290.9,1926.9 1291.9,1938.8 1292.9,1954.4 1293.9,1972.2 1294.9,1990.9 1295.9,2009 1296.9,2025.3 1297.9,2038.4 1298.9,2046.8 1299.9,2049.2 1300.9,2045.5 1301.9,2037.8 1302.9,2028.2 1303.9,2018.8 1304.9,2011.8 1305.9,2006.8 1306.9,2001.8 1307.9,1997.1 1308.9,1993.1 1309.9,1990 1310.9,1988.2 1311.9,1988.4 1312.9,1993.5 1313.9,2002.4 1314.9,2013 1315.9,2023.3 1316.9,2031.2 1317.9,2034.8 1318.9,2032.9 1319.9,2026.3 1320.9,2016.3 1321.9,2003.8 1322.9,1989.8 1323.9,1975.6 1324.9,1962 1325.9,1950.2 1326.9,1941.2 1327.9,1936 1328.9,1936.2 1329.9,1945 1330.9,1960.1 1331.9,1978.2 1332.9,1996.2 1333.9,2010.7 1334.9,2018.6 1335.9,2018.1 1336.9,2013.1 1337.9,2005.2 1338.9,1996 1339.9,1987 1340.9,1979.8 1341.9,1975.8 1342.9,1978 1343.9,1991.7 1344.9,2013.2 1345.9,2038 1346.9,2061.9 1347.9,2080.4 1348.9,2089.2 1349.9,2086.4 1350.9,2075.7 1351.9,2059.3 1352.9,2038.9 1353.9,2016.6 1354.9,1994.3 1355.9,1974 1356.9,1957.5 1357.9,1946.8 1358.9,1943.9 1359.9,1947 1360.9,1953.9 1361.9,1963.5 1362.9,1974.9 1363.9,1986.9 1364.9,1998.6 1365.9,2008.8 1366.9,2016.7 1367.9,2021 1368.9,2020.5 1369.9,2013.7 1370.9,2002.7 1371.9,1990.4 1372.9,1979.6 1373.9,1972.9 1374.9,1972.6 1375.9,1976.3 1376.9,1982.4 1377.9,1989.9 1378.9,1998.9 1379.9,2014.3 1380.9,2034.4 1381.9,2056.6 1382.9,2078.6 1383.9,2098 1384.9,2112.3 1385.9,2119.2 1386.9,2117.7 1387.9,2111.2 1388.9,2101 1389.9,2088.3 1390.9,2074.4 1391.9,2060.7 1392.9,2048.3 1393.9,2038.5 1394.9,2032.3 1395.9,2026.8 1396.9,2021.4 1397.9,2016.4 1398.9,2011.7 1399.9,2007.6 1400.9,2004.2 1401.9,2001.6 1402.9,2000 1403.9,1999.4 1404.9,2001 1405.9,2005.3 1406.9,2011.7 1407.9,2019.7 1408.9,2028.7 1409.9,2038.1 1410.9,2047.5 1411.9,2056.2 1412.9,2063.7 1413.9,2069.5 1414.9,2073 1415.9,2073.3 1416.9,2064.7 1417.9,2048.4 1418.9,2027.7 1419.9,2006.2 1420.9,1987.4 1421.9,1974.8 1422.9,1971.9 1423.9,1981 1424.9,1997.9 1425.9,2017.5 1426.9,2034.4 1427.9,2043.4 1428.9,2042.3 1429.9,2036.9 1430.9,2028.9 1431.9,2020.2 1432.9,2012.4 1433.9,2005.7 1434.9,1998.1 1435.9,1990.2 1436.9,1982.4 1437.9,1975.3 1438.9,1969.3 1439.9,1965.1 1440.9,1963 1441.9,1964.4 1442.9,1970.6 1443.9,1980.4 1444.9,1992.4 1445.9,2005 1446.9,2016.9 1447.9,2026.6 1448.9,2032.7 1449.9,2036.7 1450.9,2039.9 1451.9,2042.6 1452.9,2045 1453.9,2047.1 1454.9,2049.2 1455.9,2051.5 1456.9,2054.1 1457.9,2057.1 1458.9,2060.8 1459.9,2066.2 1460.9,2074.6 1461.9,2083.6 1462.9,2090.7 1463.9,2093.8 1464.9,2094.9 1465.9,2095.7 1466.9,2096.3 1467.9,2096.9 1468.9,2097.7 1469.9,2099 1470.9,2101 1471.9,2103.7 1472.9,2107 1473.9,2110.7 1474.9,2114.8 1475.9,2119.1 1476.9,2123.5 1477.9,2128.1 1478.9,2134.1 1479.9,2141.2 1480.9,2149.1 1481.9,2157.3 1482.9,2165.3 1483.9,2172.6 1484.9,2178.7 1485.9,2183.2 1486.9,2185.7 1487.9,2185.5 1488.9,2182.4 1489.9,2176.6 1490.9,2168.8 1491.9,2159.2 1492.9,2148.5 1493.9,2137.1 1494.9,2125.5 1495.9,2114.1 1496.9,2103.4 1497.9,2093.8 1498.9,2085.9 1499.9,2080.1 1500.9,2076.9 1501.9,2077.1 1502.9,2082.9 1503.9,2093 1504.9,2105.1 1505.9,2117.1 1506.9,2126.8 1507.9,2132.1 1508.9,2131.1 1509.9,2125.1 1510.9,2117.3 1511.9,2110.9 1512.9,2109.2 1513.9,2113.4 1514.9,2122.8 1515.9,2136.8 1516.9,2154.5 1517.9,2175.4 1518.9,2198.6 1519.9,2223.4 1520.9,2249.1 1521.9,2275 1522.9,2300.4 1523.9,2324.5 1524.9,2346.6 1525.9,2366.1 1526.9,2382.1 1527.9,2393.9 1528.9,2400.9 1529.9,2402.4 1530.9,2399.2 1531.9,2392.3 1532.9,2382.2 1533.9,2369.7 1534.9,2355.3 1535.9,2339.6 1536.9,2323.2 1537.9,2306.8 1538.9,2290.8 1539.9,2268.4 1540.9,2242.1 1541.9,2221.2 1542.9,2214.5 1543.9,2214.2 1544.9,2213.9 1545.9,2213.7 1546.9,2213.1 1547.9,2210.7 1548.9,2206.4 1549.9,2200.7 1550.9,2194.1 1551.9,2186.9 1552.9,2179.7 1553.9,2171.6 1554.9,2160.4 1555.9,2147.4 1556.9,2133.8 1557.9,2120.9 1558.9,2110 1559.9,2102.4 1560.9,2099.4 1561.9,2102.3 1562.9,2110.3 1563.9,2121.4 1564.9,2133.4 1565.9,2144.3 1566.9,2151.9 1567.9,2154 1568.9,2149.3 1569.9,2138.7 1570.9,2123.4 1571.9,2105.1 1572.9,2085.1 1573.9,2064.8 1574.9,2045.7 1575.9,2029.2 1576.9,2016.6 1577.9,2009.6 1578.9,2008.7 1579.9,2010.2 1580.9,2012.8 1581.9,2016.3 1582.9,2020.5 1583.9,2029.9 1584.9,2043.7 1585.9,2059 1586.9,2072.7 1587.9,2082 1588.9,2083.8 1589.9,2077.4 1590.9,2064.3 1591.9,2046.3 1592.9,2025.2 1593.9,2002.6 1594.9,1980.4 1595.9,1960.4 1596.9,1944.2 1597.9,1933.6 1598.9,1930.3 1599.9,1931.5 1600.9,1934.2 1601.9,1938 1602.9,1942.2 1603.9,1946.3 1604.9,1949.7 1605.9,1951.9 1606.9,1952.1 1607.9,1945.1 1608.9,1930.8 1609.9,1910.9 1610.9,1887.2 1611.9,1861.4 1612.9,1835.2 1613.9,1810.4 1614.9,1788.9 1615.9,1772.2 1616.9,1762.2 1617.9,1760.5 1618.9,1765.1 1619.9,1773.7 1620.9,1784.5 1621.9,1795.7 1622.9,1805.4 1623.9,1811.8 1624.9,1813.2 1625.9,1810.3 1626.9,1805.2 1627.9,1800.1 1628.9,1796.8 1629.9,1797.8 1630.9,1806 1631.9,1819.9 1632.9,1837.6 1633.9,1857.4 1634.9,1877.4 1635.9,1895.8 1636.9,1910.7 1637.9,1920.3 1638.9,1922.8 1639.9,1918.6 1640.9,1909.6 1641.9,1897.6 1642.9,1884.4 1643.9,1871.7 1644.9,1861.1 1645.9,1854.6 1646.9,1853.5 1647.9,1855.7 1648.9,1859.5 1649.9,1863.9 1650.9,1867.8 1651.9,1870 1652.9,1870.2 1653.9,1870 1654.9,1869.6 1655.9,1869.1 1656.9,1866.8 1657.9,1859.1 1658.9,1847.3 1659.9,1833.5 1660.9,1819.3 1661.9,1806.7 1662.9,1797.4 1663.9,1793.3 1664.9,1795.2 1665.9,1800.1 1666.9,1804.3 1667.9,1804 1668.9,1797.2 1669.9,1786.9 1670.9,1776.6 1671.9,1769.9 1672.9,1770.6 1673.9,1780.8 1674.9,1796.8 1675.9,1814.8 1676.9,1830.6 1677.9,1840.3 1678.9,1840.9 1679.9,1836.9 1680.9,1831.3 1681.9,1826.4 1682.9,1824.6 1683.9,1828.3 1684.9,1836 1685.9,1844.8 1686.9,1851.8 1687.9,1856.7 1688.9,1859.9 1689.9,1858.5 1690.9,1854.1 1691.9,1849.8 1692.9,1848.5 1693.9,1857.2 1694.9,1876.1 1695.9,1901.4 1696.9,1929.3 1697.9,1956.4 1698.9,1978.8 1699.9,1992.8 1700.9,1995.3 1701.9,1990.4 1702.9,1981.2 1703.9,1969.3 1704.9,1956.5 1705.9,1944.4 1706.9,1934.7 1707.9,1929.1 1708.9,1929.4 1709.9,1936.4 1710.9,1948.8 1711.9,1965.1 1712.9,1984 1713.9,2003.9 1714.9,2023.4 1715.9,2040.9 1716.9,2055.1 1717.9,2064.4 1718.9,2067.4 1719.9,2063.9 1720.9,2056.1 1721.9,2046.6 1722.9,2037.9 1723.9,2032.8 1724.9,2032.5 1725.9,2034.2 1726.9,2037 1727.9,2040.8 1728.9,2045.2 1729.9,2050 1730.9,2054.9 1731.9,2060.2 1732.9,2067.8 1733.9,2077.1 1734.9,2086.7 1735.9,2095.4 1736.9,2102 1737.9,2105.2 1738.9,2101.6 1739.9,2087 1740.9,2064 1741.9,2035.1 1742.9,2003.1 1743.9,1970.5 1744.9,1940.2 1745.9,1914.7 1746.9,1896.7 1747.9,1888.9 1748.9,1892 1749.9,1903 1750.9,1920 1751.9,1940.9 1752.9,1964 1753.9,1987.2 1754.9,2008.8 1755.9,2026.7 1756.9,2039 1757.9,2044 1758.9,2039.3 1759.9,2025.4 1760.9,2004.7 1761.9,1979.4 1762.9,1951.8 1763.9,1924.1 1764.9,1898.7 1765.9,1877.8 1766.9,1863.7 1767.9,1858.7 1768.9,1862.4 1769.9,1872.2 1770.9,1886.9 1771.9,1905.2 1772.9,1925.8 1773.9,1947.6 1774.9,1969.1 1775.9,1989.1 1776.9,2006.4 1777.9,2019.7 1778.9,2027.8 1779.9,2029.3 1780.9,2025 1781.9,2018.2 1782.9,2012.6 1783.9,2012 1784.9,2019.3 1785.9,2033.8 1786.9,2054.1 1787.9,2078.8 1788.9,2106.5 1789.9,2135.9 1790.9,2165.6 1791.9,2194.1 1792.9,2220.1 1793.9,2242.3 1794.9,2262.7 1795.9,2284.2 1796.9,2305 1797.9,2323.4 1798.9,2337.3 1799.9,2345 1800.9,2348.6 1801.9,2351.2 1802.9,2354.8 1803.9,2364.3 1804.9,2381.5 1805.9,2397.5 1806.9,2403.1 1807.9,2392.1 1808.9,2367.9 1809.9,2335.6 1810.9,2300 1811.9,2266.3 1812.9,2239.4 1813.9,2224.3 1814.9,2223.9 1815.9,2230.9 1816.9,2241.8 1817.9,2254.4 1818.9,2266.2 1819.9,2274.9 1820.9,2278 1821.9,2271.3 1822.9,2254.2 1823.9,2229 1824.9,2197.9 1825.9,2163.2 1826.9,2127.3 1827.9,2092.5 1828.9,2060.9 1829.9,2034.9 1830.9,2016.8 1831.9,2008.9 1832.9,2013.2 1833.9,2028.7 1834.9,2052.8 1835.9,2082.9 1836.9,2116.3 1837.9,2150.3 1838.9,2182.4 1839.9,2209.8 1840.9,2230 1841.9,2240.2 1842.9,2238.2 1843.9,2224.5 1844.9,2202 1845.9,2173.7 1846.9,2142.3 1847.9,2110.9 1848.9,2082.2 1849.9,2059.2 1850.9,2044.8 1851.9,2041.8 1852.9,2050.5 1853.9,2068.5 1854.9,2093.4 1855.9,2122.7 1856.9,2154 1857.9,2184.8 1858.9,2212.9 1859.9,2235.6 1860.9,2250.5 1861.9,2255.3 1862.9,2246.7 1863.9,2226 1864.9,2196.8 1865.9,2162.5 1866.9,2126.5 1867.9,2092.3 1868.9,2063.4 1869.9,2043.3 1870.9,2035.4 1871.9,2038 1872.9,2045.2 1873.9,2055.3 1874.9,2066.7 1875.9,2077.6 1876.9,2086.3 1877.9,2091.7 1878.9,2096.3 1879.9,2100.5 1880.9,2103.7 1881.9,2105.2 1882.9,2103.4 1883.9,2095.4 1884.9,2082.4 1885.9,2065.8 1886.9,2046.8 1887.9,2026.8 1888.9,2007.2 1889.9,1989.2 1890.9,1974.3 1891.9,1963.7 1892.9,1958.8 1893.9,1960.1 1894.9,1965.6 1895.9,1974.6 1896.9,1986.2 1897.9,1999.5 1898.9,2013.7 1899.9,2028 1900.9,2041.5 1901.9,2053.5 1902.9,2063 1903.9,2069.2 1904.9,2071.4 1905.9,2065.6 1906.9,2051.7 1907.9,2033.4 1908.9,2014.1 1909.9,1997.8 1910.9,1987.9 1911.9,1986.7 1912.9,1987.6 1913.9,1989.2 1914.9,1991.5 1915.9,1994.3 1916.9,1997.5 1917.9,2000.9 1918.9,2007 1919.9,2017.1 1920.9,2029.1 1921.9,2041.2 1922.9,2051.3 1923.9,2057.4 1924.9,2058.1 1925.9,2056 1926.9,2052.3 1927.9,2047.3 1928.9,2041.6 1929.9,2035.7 1930.9,2029.9 1931.9,2024.9 1932.9,2020.9 1933.9,2018.5 1934.9,2017 1935.9,2015.8 1936.9,2014.9 1937.9,2014 1938.9,2013 1939.9,2011.7 1940.9,2009.9 1941.9,2006.8 1942.9,1999.5 1943.9,1989.6 1944.9,1979.6 1945.9,1971.9 1946.9,1967 1947.9,1962.3 1948.9,1957.9 1949.9,1954.2 1950.9,1951.4 1951.9,1949.6 1952.9,1949.5 1953.9,1954.3 1954.9,1964 1955.9,1977.3 1956.9,1993 1957.9,2009.7 1958.9,2026.2 1959.9,2041.1 1960.9,2053.2 1961.9,2061.1 1962.9,2063.5 1963.9,2061.8 1964.9,2057.8 1965.9,2052 1966.9,2044.9 1967.9,2037.3 1968.9,2029.5 1969.9,2022.3 1970.9,2016.2 1971.9,2011.7 1972.9,2009.4 1973.9,2012.9 1974.9,2029.5 1975.9,2055.4 1976.9,2085.9 1977.9,2116.3 1978.9,2142 1979.9,2158.2 1980.9,2159.9 1981.9,2143 1982.9,2112.3 1983.9,2074.1 1984.9,2034.9 1985.9,2001.1 1986.9,1979.2 1987.9,1974.7 1988.9,1981.3 1989.9,1995.7 1990.9,2018 1991.9,2048 1992.9,2085.6 1993.1,2092.2"/>
</g>
<path d="M336 1420H338V2413H336ZM1992 1420H1994V2413H1992ZM336 1420H1994V1423H336ZM336 2410H1994V2413H336ZM338 1585H354V1587H338ZM1976 1585H1992V1587H1976ZM338 1751H354V1753H338ZM1976 1751H1992V1753H1976ZM338 1915H354V1917H338ZM1976 1915H1992V1917H1976ZM338 2081H354V2083H338ZM1976 2081H1992V2083H1976ZM338 2245H354V2247H338ZM1976 2245H1992V2247H1976ZM667 2393H669V2410H667ZM667 1423H669V1440H667ZM998 2393H1000V2410H998ZM998 1423H1000V1440H998ZM1330 2393H1332V2410H1330ZM1330 1423H1332V1440H1330ZM1661 2393H1663V2410H1661ZM1661 1423H1663V1440H1661Z" fill="#141414" shape-rendering="crispEdges"/>
<text x="212.6" y="1449.3" font-size="76" fill="#404040" textLength="92.1" lengthAdjust="spacingAndGlyphs">0.4</text>
<text x="212.6" y="1613.8" font-size="76" fill="#404040" textLength="92.1" lengthAdjust="spacingAndGlyphs">0.3</text>
<text x="217.6" y="1779.4" font-size="76" fill="#404040" textLength="92.1" lengthAdjust="spacingAndGlyphs">0.2</text>
<text x="223.9" y="1945.0" font-size="76" fill="#404040" textLength="92.1" lengthAdjust="spacingAndGlyphs">0.1</text>
<text x="271.3" y="2109.6" font-size="76" fill="#404040" textLength="36.9" lengthAdjust="spacingAndGlyphs">0</text>
<text x="185.8" y="2276.3" font-size="76" fill="#404040" textLength="133.7" lengthAdjust="spacingAndGlyphs">−0.1</text>
<text x="176.1" y="2437.0" font-size="76" fill="#404040" textLength="133.7" lengthAdjust="spacingAndGlyphs">−0.2</text>
<text x="322.4" y="2485.5" font-size="76" fill="#404040">0</text>
<text x="653.6" y="2485.5" font-size="76" fill="#404040">3</text>
<text x="986.6" y="2485.5" font-size="76" fill="#404040">6</text>
<text x="1320.2" y="2485.5" font-size="76" fill="#404040">9</text>
<text x="1635.5" y="2485.5" font-size="76" fill="#404040">12</text>
<text x="1963.7" y="2485.5" font-size="76" fill="#404040">15</text>
<text x="1038.6" y="2571.7" font-size="76" fill="#000">Time/min</text>
<text x="998.6" y="2694.0" font-size="86.7" fill="#000">(<tspan font-weight="bold">b</tspan>)</text>
<text transform="translate(134.1 2098.9) rotate(-90)" x="-3.3" y="0" font-size="77" fill="#000" textLength="52.5" lengthAdjust="spacingAndGlyphs">Δ</text>
<text transform="translate(134.1 2036.8) rotate(-90)" x="-15.4" y="0" font-size="77" fill="#000" font-style="italic">f</text>
<text transform="translate(153.3 2017.2) rotate(-90)" x="-11.3" y="0" font-size="47" fill="#000" font-style="italic">2</text>
<text transform="translate(147.0 1983.8) rotate(-90)" x="-0.0" y="0" font-size="77" fill="#000">/Hz</text>
<path d="M376 1480H508V1486H376Z" fill="#000000" shape-rendering="crispEdges"/>
<text x="521.9" y="1503.6" font-size="70" fill="#000">30%</text>
<text x="681.3" y="1503.6" font-size="67.8" fill="#000">penetration level</text>
<path d="M376 1582H512V1587H376Z" fill="#1c00bb" shape-rendering="crispEdges"/>
<text x="528.5" y="1605.1" font-size="70" fill="#000">40%</text>
<text x="687.1" y="1605.1" font-size="67.7" fill="#000">penetration level</text>
<path d="M374 1684H512V1689H374Z" fill="#e00000" shape-rendering="crispEdges"/>
<text x="528.2" y="1706.7" font-size="70" fill="#000">50%</text>
<text x="687.1" y="1706.7" font-size="67.7" fill="#000">penetration level</text>
</g>
<g id="chart-c">
<g fill="none" stroke-width="2.3" stroke-linejoin="round" stroke-linecap="butt" shape-rendering="crispEdges">
<path stroke="#000000" d="M333.9,3366.6 334.9,3369.1 335.9,3371.1 336.9,3372.6 337.9,3373.8 338.9,3374.6 339.9,3375.1 340.9,3375.5 341.9,3375.6 342.9,3375.7 343.9,3375.7 344.9,3373.8 345.9,3369 346.9,3362 347.9,3353.2 348.9,3343.2 349.9,3332.6 350.9,3321.9 351.9,3311.6 352.9,3302.3 353.9,3294.6 354.9,3289 355.9,3286 356.9,3286.3 357.9,3290.2 358.9,3297.1 359.9,3306.3 360.9,3317.3 361.9,3329.4 362.9,3342 363.9,3354.4 364.9,3365.9 365.9,3375.9 366.9,3383.9 367.9,3389.1 368.9,3390.8 369.9,3389.1 370.9,3384.7 371.9,3378 372.9,3369.7 373.9,3360.3 374.9,3350.3 375.9,3340.4 376.9,3331 377.9,3322.8 378.9,3316.2 379.9,3312 380.9,3310.5 381.9,3311.8 382.9,3315.3 383.9,3320.6 384.9,3327.4 385.9,3335.1 386.9,3343.5 387.9,3352 388.9,3360.3 389.9,3368 390.9,3374.8 391.9,3380.1 392.9,3383.6 393.9,3384.8 394.9,3383.6 395.9,3380.3 396.9,3375.1 397.9,3368.6 398.9,3361.3 399.9,3353.4 400.9,3345.5 401.9,3337.9 402.9,3331.1 403.9,3325.5 404.9,3321.6 405.9,3319.7 406.9,3320.3 407.9,3323.3 408.9,3328.3 409.9,3334.8 410.9,3342.5 411.9,3351 412.9,3359.8 413.9,3368.6 414.9,3376.8 415.9,3384.1 416.9,3390.1 417.9,3394.4 418.9,3396.4 419.9,3396.5 420.9,3396.3 421.9,3395.9 422.9,3395.5 423.9,3395.3 424.9,3395.4 425.9,3396.7 426.9,3399 427.9,3402 428.9,3405.3 429.9,3408.7 430.9,3411.8 431.9,3414.3 432.9,3415.8 433.9,3416.1 434.9,3415 435.9,3413 436.9,3410.5 437.9,3408 438.9,3405.7 439.9,3404.2 440.9,3404 441.9,3405.8 442.9,3409.4 443.9,3414.4 444.9,3420.1 445.9,3426.2 446.9,3432 447.9,3437.1 448.9,3440.9 449.9,3442.8 450.9,3442.3 451.9,3438.7 452.9,3432.2 453.9,3423.6 454.9,3413.2 455.9,3401.7 456.9,3389.5 457.9,3377.1 458.9,3365.1 459.9,3354 460.9,3344.3 461.9,3336.5 462.9,3331.2 463.9,3328.8 464.9,3329.3 465.9,3331.4 466.9,3334.8 467.9,3339 468.9,3343.6 469.9,3348.3 470.9,3352.7 471.9,3356.4 472.9,3358.9 473.9,3360 474.9,3360 475.9,3359.8 476.9,3359.7 477.9,3359.5 478.9,3359.7 479.9,3361.5 480.9,3364.8 481.9,3369.1 482.9,3373.9 483.9,3378.9 484.9,3383.5 485.9,3387.3 486.9,3389.9 487.9,3390.8 488.9,3389.3 489.9,3385.4 490.9,3379.6 491.9,3372.3 492.9,3364.1 493.9,3355.3 494.9,3346.5 495.9,3338.1 496.9,3330.6 497.9,3324.5 498.9,3320.3 499.9,3318.4 500.9,3319.3 501.9,3323.3 502.9,3329.5 503.9,3337.4 504.9,3346.3 505.9,3355.4 506.9,3364.2 507.9,3371.9 508.9,3377.9 509.9,3381.5 510.9,3382.1 511.9,3380.7 512.9,3378 513.9,3374.6 514.9,3371 515.9,3367.8 516.9,3365.6 517.9,3364.7 518.9,3366.3 519.9,3370.3 520.9,3376.2 521.9,3383.4 522.9,3391.2 523.9,3399.2 524.9,3406.7 525.9,3413.1 526.9,3417.9 527.9,3420.3 528.9,3420.2 529.9,3418.2 530.9,3414.7 531.9,3409.8 532.9,3403.7 533.9,3396.7 534.9,3389.1 535.9,3380.9 536.9,3372.5 537.9,3364.1 538.9,3355.9 539.9,3348.1 540.9,3340.9 541.9,3334.6 542.9,3329.3 543.9,3325.4 544.9,3322.9 545.9,3322.2 546.9,3323.2 547.9,3325.4 548.9,3328.8 549.9,3333 550.9,3337.8 551.9,3342.9 552.9,3348.2 553.9,3353.3 554.9,3358 555.9,3362 556.9,3365.2 557.9,3367.2 558.9,3367.9 559.9,3366.9 560.9,3364.6 561.9,3361.3 562.9,3357.3 563.9,3353.1 564.9,3349 565.9,3345.3 566.9,3342.4 567.9,3340.8 568.9,3340.6 569.9,3342 570.9,3344.5 571.9,3347.9 572.9,3351.7 573.9,3355.8 574.9,3359.7 575.9,3363.1 576.9,3365.7 577.9,3367.2 578.9,3367 579.9,3364.3 580.9,3359.4 581.9,3352.7 582.9,3344.8 583.9,3336 584.9,3326.9 585.9,3317.9 586.9,3309.5 587.9,3302.1 588.9,3296.2 589.9,3292.3 590.9,3290.9 591.9,3292.4 592.9,3296.7 593.9,3303.4 594.9,3311.9 595.9,3321.8 596.9,3332.6 597.9,3343.8 598.9,3355 599.9,3365.6 600.9,3375.2 601.9,3383.3 602.9,3389.5 603.9,3393.1 604.9,3394.1 605.9,3394.5 606.9,3394.7 607.9,3394.9 608.9,3395.3 609.9,3396.1 610.9,3397.7 611.9,3399.5 612.9,3401.2 613.9,3402.6 614.9,3403.1 615.9,3401.6 616.9,3397.5 617.9,3391.1 618.9,3383.2 619.9,3374.4 620.9,3365 621.9,3355.8 622.9,3347.3 623.9,3340.1 624.9,3334.7 625.9,3331.7 626.9,3331.9 627.9,3335.9 628.9,3343.4 629.9,3353.6 630.9,3365.9 631.9,3379.7 632.9,3394.2 633.9,3408.9 634.9,3422.9 635.9,3435.8 636.9,3446.8 637.9,3455.2 638.9,3460.4 639.9,3461.8 640.9,3459.6 641.9,3454.6 642.9,3447.3 643.9,3438.2 644.9,3427.7 645.9,3416.2 646.9,3404.3 647.9,3392.4 648.9,3380.9 649.9,3370.4 650.9,3361.3 651.9,3354 652.9,3349.1 653.9,3347 654.9,3347.2 655.9,3347.8 656.9,3348.8 657.9,3350.2 658.9,3351.9 659.9,3353.8 660.9,3356.1 661.9,3358.5 662.9,3361.1 663.9,3363.8 664.9,3367.6 665.9,3373.9 666.9,3382.1 667.9,3391.8 668.9,3402.3 669.9,3413.4 670.9,3424.3 671.9,3434.8 672.9,3444.2 673.9,3452 674.9,3457.9 675.9,3461.2 676.9,3461.6 677.9,3459.1 678.9,3454.2 679.9,3447.4 680.9,3439.2 681.9,3430.1 682.9,3420.5 683.9,3411 684.9,3402 685.9,3394 686.9,3387.5 687.9,3382.9 688.9,3380.8 689.9,3380.1 690.9,3379.6 691.9,3379 692.9,3378 693.9,3374.4 694.9,3367.7 695.9,3358.8 696.9,3348.5 697.9,3337.3 698.9,3326.2 699.9,3315.8 700.9,3306.9 701.9,3300.3 702.9,3296.6 703.9,3296.8 704.9,3301.8 705.9,3310.8 706.9,3323.2 707.9,3338 708.9,3354.4 709.9,3371.7 710.9,3388.9 711.9,3405.4 712.9,3420.2 713.9,3432.6 714.9,3441.7 715.9,3446.8 716.9,3447 717.9,3443.4 718.9,3436.8 719.9,3428.1 720.9,3418.2 721.9,3407.9 722.9,3398.3 723.9,3390.1 724.9,3384.2 725.9,3381.5 726.9,3382.8 727.9,3387.5 728.9,3394.8 729.9,3403.9 730.9,3413.7 731.9,3423.4 732.9,3432.1 733.9,3438.9 734.9,3442.9 735.9,3443.3 736.9,3441.1 737.9,3436.7 738.9,3430.4 739.9,3422.6 740.9,3413.5 741.9,3403.6 742.9,3393 743.9,3382.1 744.9,3371.3 745.9,3360.8 746.9,3351 747.9,3342.1 748.9,3334.4 749.9,3328.4 750.9,3324.3 751.9,3322.3 752.9,3322.5 753.9,3323.4 754.9,3325 755.9,3327 756.9,3329.2 757.9,3331.4 758.9,3333.4 759.9,3335.1 760.9,3336.2 761.9,3336.6 762.9,3335.9 763.9,3334.2 764.9,3332.1 765.9,3329.8 766.9,3327.9 767.9,3326.8 768.9,3326.9 769.9,3328.7 770.9,3331.7 771.9,3335.7 772.9,3340.1 773.9,3344.8 774.9,3349.2 775.9,3353 776.9,3355.9 777.9,3357.3 778.9,3357.2 779.9,3355.8 780.9,3353.5 781.9,3350.4 782.9,3346.9 783.9,3343.2 784.9,3339.5 785.9,3336.1 786.9,3333.3 787.9,3331.2 788.9,3330.1 789.9,3330.6 790.9,3332.9 791.9,3336.7 792.9,3341.6 793.9,3347.1 794.9,3352.7 795.9,3358 796.9,3362.5 797.9,3365.8 798.9,3367.3 799.9,3367.1 800.9,3366.1 801.9,3364.2 802.9,3361.7 803.9,3358.6 804.9,3354.9 805.9,3350.8 806.9,3346.4 807.9,3341.6 808.9,3336.6 809.9,3331.4 810.9,3326.2 811.9,3321 812.9,3315.9 813.9,3310.9 814.9,3306.2 815.9,3301.8 816.9,3297.8 817.9,3294.3 818.9,3291.4 819.9,3289 820.9,3287.4 821.9,3286.6 822.9,3286.6 823.9,3287.6 824.9,3289.4 825.9,3291.8 826.9,3294.6 827.9,3297.6 828.9,3300.6 829.9,3303.4 830.9,3305.9 831.9,3307.8 832.9,3308.9 833.9,3309.1 834.9,3307.2 835.9,3303.4 836.9,3298 837.9,3291.4 838.9,3284 839.9,3276.1 840.9,3268.1 841.9,3260.4 842.9,3253.4 843.9,3247.4 844.9,3242.9 845.9,3240.2 846.9,3239.6 847.9,3241.5 848.9,3245.2 849.9,3250.4 850.9,3256.4 851.9,3262.6 852.9,3268.5 853.9,3273.5 854.9,3277.1 855.9,3278.6 856.9,3277.7 857.9,3274.3 858.9,3269.2 859.9,3262.8 860.9,3255.7 861.9,3248.5 862.9,3241.8 863.9,3236 864.9,3231.8 865.9,3229.7 866.9,3230.5 867.9,3234.4 868.9,3241.1 869.9,3250 870.9,3260.4 871.9,3271.9 872.9,3283.8 873.9,3295.7 874.9,3306.9 875.9,3316.8 876.9,3325 877.9,3330.8 878.9,3333.8 879.9,3333.9 880.9,3333.6 881.9,3333.1 882.9,3332.8 883.9,3332.7 884.9,3334.1 885.9,3337.2 886.9,3341.6 887.9,3347.1 888.9,3353.2 889.9,3359.7 890.9,3366.2 891.9,3372.4 892.9,3378 893.9,3382.5 894.9,3385.8 895.9,3387.4 896.9,3386.9 897.9,3384 898.9,3379.1 899.9,3372.8 900.9,3365.3 901.9,3357.1 902.9,3348.7 903.9,3340.4 904.9,3332.8 905.9,3326.2 906.9,3321.1 907.9,3317.9 908.9,3317 909.9,3318.4 910.9,3321.4 911.9,3325.4 912.9,3330 913.9,3334.6 914.9,3338.7 915.9,3341.7 916.9,3343.1 917.9,3341.8 918.9,3337.3 919.9,3330.4 920.9,3322.1 921.9,3313.5 922.9,3305.5 923.9,3299.2 924.9,3295.4 925.9,3295.5 926.9,3300.7 927.9,3310.3 928.9,3323.2 929.9,3338.5 930.9,3355 931.9,3371.6 932.9,3387.3 933.9,3401.1 934.9,3411.8 935.9,3418.4 936.9,3420 937.9,3417 938.9,3410.6 939.9,3401.2 940.9,3389.6 941.9,3376.4 942.9,3362.1 943.9,3347.5 944.9,3333 945.9,3319.3 946.9,3307.1 947.9,3296.9 948.9,3289.4 949.9,3285.1 950.9,3284.6 951.9,3286.8 952.9,3291.1 953.9,3296.9 954.9,3303.9 955.9,3311.5 956.9,3319.3 957.9,3326.8 958.9,3333.7 959.9,3339.4 960.9,3343.5 961.9,3345.6 962.9,3345.4 963.9,3344.1 964.9,3342.3 965.9,3340.9 966.9,3340.6 967.9,3342.3 968.9,3346 969.9,3351.3 970.9,3357.7 971.9,3365 972.9,3372.6 973.9,3380.2 974.9,3387.3 975.9,3393.5 976.9,3398.5 977.9,3401.9 978.9,3403.1 979.9,3402.1 980.9,3399.5 981.9,3396 982.9,3392.3 983.9,3389 984.9,3387 985.9,3387 986.9,3389.2 987.9,3393.3 988.9,3398.6 989.9,3404.3 990.9,3409.8 991.9,3414.5 992.9,3417.7 993.9,3418.8 994.9,3416.6 995.9,3411.2 996.9,3403.4 997.9,3393.8 998.9,3383.1 999.9,3371.9 1000.9,3361 1001.9,3350.9 1002.9,3342.5 1003.9,3336.4 1004.9,3333.2 1005.9,3333.6 1006.9,3337.3 1007.9,3343.8 1008.9,3352.4 1009.9,3362.3 1010.9,3373.1 1011.9,3384.1 1012.9,3394.6 1013.9,3403.9 1014.9,3411.6 1015.9,3416.8 1016.9,3419 1017.9,3418 1018.9,3414.4 1019.9,3408.7 1020.9,3401.4 1021.9,3392.8 1022.9,3383.6 1023.9,3374 1024.9,3364.6 1025.9,3355.7 1026.9,3348 1027.9,3341.7 1028.9,3337.5 1029.9,3335.6 1030.9,3336 1031.9,3337.6 1032.9,3340.1 1033.9,3343.3 1034.9,3346.9 1035.9,3350.7 1036.9,3354.3 1037.9,3357.7 1038.9,3360.4 1039.9,3362.3 1040.9,3363.2 1041.9,3363.7 1042.9,3364 1043.9,3364.3 1044.9,3364.6 1045.9,3365 1046.9,3365.5 1047.9,3366.4 1048.9,3368.2 1049.9,3370.7 1050.9,3373.8 1051.9,3377.3 1052.9,3381.2 1053.9,3385.2 1054.9,3389.4 1055.9,3393.5 1056.9,3397.4 1057.9,3401 1058.9,3404.2 1059.9,3406.9 1060.9,3408.9 1061.9,3410.1 1062.9,3410.4 1063.9,3409.9 1064.9,3408.8 1065.9,3407.2 1066.9,3405.2 1067.9,3402.9 1068.9,3400.4 1069.9,3397.9 1070.9,3395.4 1071.9,3393 1072.9,3390.8 1073.9,3388.8 1074.9,3386.5 1075.9,3384 1076.9,3381.4 1077.9,3378.9 1078.9,3376.5 1079.9,3374.3 1080.9,3372.5 1081.9,3371.2 1082.9,3370.4 1083.9,3370.4 1084.9,3371.9 1085.9,3374.9 1086.9,3378.9 1087.9,3383.5 1088.9,3388.2 1089.9,3392.5 1090.9,3396 1091.9,3398.3 1092.9,3398.9 1093.9,3397.4 1094.9,3394.1 1095.9,3389.5 1096.9,3384.1 1097.9,3378.5 1098.9,3373.2 1099.9,3368.6 1100.9,3365.3 1101.9,3363.8 1102.9,3364 1103.9,3365.1 1104.9,3366.7 1105.9,3368.9 1106.9,3371.3 1107.9,3373.9 1108.9,3376.5 1109.9,3379 1110.9,3381 1111.9,3382.7 1112.9,3383.6 1113.9,3383.7 1114.9,3381.6 1115.9,3377.2 1116.9,3370.9 1117.9,3362.9 1118.9,3353.4 1119.9,3342.9 1120.9,3331.5 1121.9,3319.7 1122.9,3307.6 1123.9,3295.5 1124.9,3283.8 1125.9,3272.7 1126.9,3262.6 1127.9,3253.7 1128.9,3246.3 1129.9,3240.4 1130.9,3235 1131.9,3230.1 1132.9,3225.5 1133.9,3221.1 1134.9,3216.9 1135.9,3212.7 1136.9,3208.4 1137.9,3203.9 1138.9,3198.9 1139.9,3193.7 1140.9,3188.4 1141.9,3183 1142.9,3177.7 1143.9,3172.6 1144.9,3167.9 1145.9,3163.5 1146.9,3159.8 1147.9,3156.7 1148.9,3154.5 1149.9,3153.2 1150.9,3153 1151.9,3154.7 1152.9,3158.2 1153.9,3163.2 1154.9,3169.4 1155.9,3176.3 1156.9,3183.6 1157.9,3190.9 1158.9,3197.8 1159.9,3203.9 1160.9,3209 1161.9,3212.5 1162.9,3214.1 1163.9,3213.8 1164.9,3212.3 1165.9,3210.1 1166.9,3207.4 1167.9,3204.8 1168.9,3202.7 1169.9,3201.4 1170.9,3201.5 1171.9,3204.6 1172.9,3210.4 1173.9,3218.5 1174.9,3228.5 1175.9,3239.7 1176.9,3251.8 1177.9,3264.1 1178.9,3276.2 1179.9,3287.7 1180.9,3297.9 1181.9,3306.5 1182.9,3312.9 1183.9,3316.6 1184.9,3317.1 1185.9,3314.2 1186.9,3308.5 1187.9,3300.5 1188.9,3290.8 1189.9,3280 1190.9,3268.7 1191.9,3257.4 1192.9,3246.7 1193.9,3237.3 1194.9,3229.7 1195.9,3224.4 1196.9,3222.1 1197.9,3222.9 1198.9,3226 1199.9,3230.8 1200.9,3236.5 1201.9,3242.5 1202.9,3248.2 1203.9,3252.9 1204.9,3255.9 1205.9,3256.7 1206.9,3255.5 1207.9,3253 1208.9,3249.5 1209.9,3245.6 1210.9,3241.7 1211.9,3238.1 1212.9,3235.4 1213.9,3233.9 1214.9,3234.3 1215.9,3236.9 1216.9,3241.6 1217.9,3247.7 1218.9,3254.8 1219.9,3262.5 1220.9,3270.2 1221.9,3277.5 1222.9,3283.9 1223.9,3289 1224.9,3292.3 1225.9,3293.3 1226.9,3291.9 1227.9,3288.7 1228.9,3284.1 1229.9,3278.5 1230.9,3272.1 1231.9,3265.6 1232.9,3259.2 1233.9,3253.3 1234.9,3248.4 1235.9,3244.9 1236.9,3243.1 1237.9,3243.6 1238.9,3247 1239.9,3252.9 1240.9,3260.4 1241.9,3269.1 1242.9,3278.2 1243.9,3287.1 1244.9,3295.2 1245.9,3301.8 1246.9,3306.4 1247.9,3308.1 1248.9,3306.9 1249.9,3303.2 1250.9,3297.8 1251.9,3291.4 1252.9,3284.7 1253.9,3278.5 1254.9,3273.5 1255.9,3270.4 1256.9,3269.9 1257.9,3272.1 1258.9,3276.4 1259.9,3282.6 1260.9,3290.3 1261.9,3299.2 1262.9,3308.8 1263.9,3318.8 1264.9,3328.9 1265.9,3338.6 1266.9,3347.7 1267.9,3355.6 1268.9,3362.2 1269.9,3367 1270.9,3369.6 1271.9,3369.8 1272.9,3368.4 1273.9,3365.6 1274.9,3361.9 1275.9,3357.4 1276.9,3352.4 1277.9,3347.2 1278.9,3342 1279.9,3337 1280.9,3332.6 1281.9,3329 1282.9,3326.5 1283.9,3325.2 1284.9,3325.8 1285.9,3328.9 1286.9,3333.9 1287.9,3340.3 1288.9,3347.4 1289.9,3354.4 1290.9,3360.9 1291.9,3366 1292.9,3369.2 1293.9,3369.8 1294.9,3367 1295.9,3361 1296.9,3352.6 1297.9,3342.4 1298.9,3331 1299.9,3319 1300.9,3307.1 1301.9,3296 1302.9,3286.2 1303.9,3278.5 1304.9,3273.4 1305.9,3271.6 1306.9,3273.4 1307.9,3278.3 1308.9,3285.7 1309.9,3295 1310.9,3305.7 1311.9,3317 1312.9,3328.6 1313.9,3339.6 1314.9,3349.7 1315.9,3358.1 1316.9,3364.3 1317.9,3367.7 1318.9,3367.9 1319.9,3365.8 1320.9,3361.9 1321.9,3356.5 1322.9,3350 1323.9,3342.7 1324.9,3335 1325.9,3327.1 1326.9,3319.4 1327.9,3312.2 1328.9,3305.8 1329.9,3300.7 1330.9,3297 1331.9,3295.2 1332.9,3295.2 1333.9,3295.8 1334.9,3296.8 1335.9,3298.2 1336.9,3299.9 1337.9,3301.9 1338.9,3304.2 1339.9,3306.6 1340.9,3309.1 1341.9,3311.7 1342.9,3314.3 1343.9,3316.8 1344.9,3320.1 1345.9,3324.4 1346.9,3328.7 1347.9,3331.8 1348.9,3332.7 1349.9,3332.1 1350.9,3330.9 1351.9,3329.5 1352.9,3328 1353.9,3326.8 1354.9,3326.2 1355.9,3326.6 1356.9,3328.3 1357.9,3330.9 1358.9,3333.9 1359.9,3336.8 1360.9,3339.1 1361.9,3340.4 1362.9,3340.1 1363.9,3338 1364.9,3334.5 1365.9,3329.8 1366.9,3324.3 1367.9,3318.2 1368.9,3312 1369.9,3305.9 1370.9,3300.2 1371.9,3295.3 1372.9,3291.5 1373.9,3289.1 1374.9,3288.3 1375.9,3289.5 1376.9,3292.4 1377.9,3296.6 1378.9,3301.7 1379.9,3307.6 1380.9,3313.7 1381.9,3319.9 1382.9,3325.7 1383.9,3330.9 1384.9,3335.1 1385.9,3338 1386.9,3339.2 1387.9,3339.2 1388.9,3339.2 1389.9,3339.2 1390.9,3339.2 1391.9,3339.3 1392.9,3340.6 1393.9,3343 1394.9,3346.2 1395.9,3349.9 1396.9,3354 1397.9,3358.1 1398.9,3361.9 1399.9,3365.1 1400.9,3367.6 1401.9,3369 1402.9,3369 1403.9,3367.2 1404.9,3363.8 1405.9,3359.1 1406.9,3353.3 1407.9,3346.7 1408.9,3339.6 1409.9,3332.2 1410.9,3324.8 1411.9,3317.7 1412.9,3311.2 1413.9,3305.4 1414.9,3300.8 1415.9,3297.5 1416.9,3295.8 1417.9,3296.1 1418.9,3298.8 1419.9,3303.5 1420.9,3309.8 1421.9,3317.3 1422.9,3325.6 1423.9,3334.2 1424.9,3342.7 1425.9,3350.7 1426.9,3357.7 1427.9,3363.5 1428.9,3367.4 1429.9,3369.2 1430.9,3368.5 1431.9,3365.7 1432.9,3361.1 1433.9,3355.2 1434.9,3348.3 1435.9,3340.7 1436.9,3332.8 1437.9,3324.9 1438.9,3317.5 1439.9,3310.8 1440.9,3305.3 1441.9,3301.2 1442.9,3299.1 1443.9,3298.9 1444.9,3299.8 1445.9,3301.5 1446.9,3303.8 1447.9,3306.5 1448.9,3309.5 1449.9,3312.6 1450.9,3315.6 1451.9,3318.4 1452.9,3320.9 1453.9,3322.8 1454.9,3324.5 1455.9,3326 1456.9,3327.5 1457.9,3328.9 1458.9,3330.3 1459.9,3331.7 1460.9,3333.2 1461.9,3334.8 1462.9,3336.5 1463.9,3338.4 1464.9,3340.4 1465.9,3342.4 1466.9,3344.5 1467.9,3346.6 1468.9,3348.7 1469.9,3350.8 1470.9,3352.9 1471.9,3354.9 1472.9,3356.8 1473.9,3358.7 1474.9,3360.4 1475.9,3362.1 1476.9,3363.5 1477.9,3364.8 1478.9,3365.9 1479.9,3366.8 1480.9,3367.5 1481.9,3368.1 1482.9,3368.5 1483.9,3369 1484.9,3369.4 1485.9,3369.9 1486.9,3370.4 1487.9,3371.1 1488.9,3371.9 1489.9,3373.4 1490.9,3375.7 1491.9,3378.7 1492.9,3382.1 1493.9,3385.9 1494.9,3389.9 1495.9,3393.8 1496.9,3397.6 1497.9,3401.1 1498.9,3404.1 1499.9,3406.4 1500.9,3407.9 1501.9,3408.4 1502.9,3407.3 1503.9,3404.7 1504.9,3400.6 1505.9,3395.3 1506.9,3389.2 1507.9,3382.3 1508.9,3375 1509.9,3367.5 1510.9,3360.1 1511.9,3353 1512.9,3346.4 1513.9,3340.6 1514.9,3335.9 1515.9,3332.4 1516.9,3330.4 1517.9,3330.2 1518.9,3331.4 1519.9,3333.9 1520.9,3337.5 1521.9,3342.2 1522.9,3347.8 1523.9,3354.3 1524.9,3361.5 1525.9,3369.4 1526.9,3377.8 1527.9,3386.6 1528.9,3395.7 1529.9,3405 1530.9,3414.5 1531.9,3423.9 1532.9,3433.3 1533.9,3442.4 1534.9,3451.2 1535.9,3459.7 1536.9,3467.6 1537.9,3474.8 1538.9,3481.4 1539.9,3487.1 1540.9,3491.9 1541.9,3495.6 1542.9,3498.2 1543.9,3499.5 1544.9,3499.3 1545.9,3496.3 1546.9,3490.7 1547.9,3483 1548.9,3473.4 1549.9,3462.5 1550.9,3450.6 1551.9,3438.1 1552.9,3425.3 1553.9,3412.7 1554.9,3400.7 1555.9,3389.6 1556.9,3379.9 1557.9,3371.8 1558.9,3366 1559.9,3362.6 1560.9,3362 1561.9,3363.7 1562.9,3367 1563.9,3371.4 1564.9,3376.6 1565.9,3382 1566.9,3387.3 1567.9,3391.9 1568.9,3395.5 1569.9,3397.6 1570.9,3397.8 1571.9,3397.1 1572.9,3395.6 1573.9,3393.4 1574.9,3390.6 1575.9,3387.2 1576.9,3383.4 1577.9,3379.1 1578.9,3374.6 1579.9,3369.7 1580.9,3364.7 1581.9,3359.6 1582.9,3354.4 1583.9,3349.2 1584.9,3344.1 1585.9,3339.2 1586.9,3334.5 1587.9,3330.2 1588.9,3326.2 1589.9,3322.6 1590.9,3319.5 1591.9,3317.1 1592.9,3315.3 1593.9,3314.2 1594.9,3313.9 1595.9,3315.4 1596.9,3318.6 1597.9,3323.3 1598.9,3329 1599.9,3335.1 1600.9,3341.4 1601.9,3347.3 1602.9,3352.4 1603.9,3356.3 1604.9,3358.4 1605.9,3358.4 1606.9,3355.4 1607.9,3349.7 1608.9,3341.8 1609.9,3332.2 1610.9,3321.5 1611.9,3310 1612.9,3298.2 1613.9,3286.8 1614.9,3276.1 1615.9,3266.6 1616.9,3258.9 1617.9,3253.5 1618.9,3250.7 1619.9,3250.8 1620.9,3252.1 1621.9,3254.2 1622.9,3256.6 1623.9,3258.8 1624.9,3260.4 1625.9,3260.9 1626.9,3260 1627.9,3257.7 1628.9,3254.3 1629.9,3250.1 1630.9,3245.2 1631.9,3240 1632.9,3234.7 1633.9,3229.6 1634.9,3224.8 1635.9,3220.7 1636.9,3217.5 1637.9,3215.4 1638.9,3214.7 1639.9,3215.8 1640.9,3218.7 1641.9,3223.1 1642.9,3228.8 1643.9,3235.6 1644.9,3243.2 1645.9,3251.4 1646.9,3259.9 1647.9,3268.5 1648.9,3277 1649.9,3285.1 1650.9,3292.6 1651.9,3299.2 1652.9,3304.7 1653.9,3308.9 1654.9,3311.5 1655.9,3312.3 1656.9,3310.9 1657.9,3307.2 1658.9,3301.9 1659.9,3295.1 1660.9,3287.3 1661.9,3278.9 1662.9,3270.2 1663.9,3261.6 1664.9,3253.5 1665.9,3246.3 1666.9,3240.4 1667.9,3236.1 1668.9,3233.8 1669.9,3233.7 1670.9,3235 1671.9,3237.4 1672.9,3240.5 1673.9,3244 1674.9,3247.7 1675.9,3251.4 1676.9,3254.7 1677.9,3257.3 1678.9,3259.1 1679.9,3259.6 1680.9,3258.4 1681.9,3255.8 1682.9,3252.4 1683.9,3249 1684.9,3245.2 1685.9,3240.4 1686.9,3235 1687.9,3229.9 1688.9,3225.7 1689.9,3223.1 1690.9,3222.8 1691.9,3224.1 1692.9,3226.8 1693.9,3230.6 1694.9,3235.3 1695.9,3240.7 1696.9,3246.5 1697.9,3252.5 1698.9,3258.6 1699.9,3264.4 1700.9,3269.8 1701.9,3274.6 1702.9,3278.5 1703.9,3281.2 1704.9,3282.7 1705.9,3283.3 1706.9,3283.8 1707.9,3284.1 1708.9,3284.5 1709.9,3285.1 1710.9,3286.6 1711.9,3289.7 1712.9,3294 1713.9,3299.2 1714.9,3304.9 1715.9,3310.7 1716.9,3316.1 1717.9,3320.9 1718.9,3324.5 1719.9,3326.6 1720.9,3327 1721.9,3326.3 1722.9,3325 1723.9,3323.6 1724.9,3322.1 1725.9,3321 1726.9,3320.5 1727.9,3321 1728.9,3322.9 1729.9,3325.8 1730.9,3329.5 1731.9,3333.8 1732.9,3338.4 1733.9,3343.1 1734.9,3347.6 1735.9,3351.6 1736.9,3355 1737.9,3357.5 1738.9,3358.7 1739.9,3358.7 1740.9,3357.8 1741.9,3356.3 1742.9,3354.4 1743.9,3352.3 1744.9,3350.1 1745.9,3348.2 1746.9,3346.6 1747.9,3345.6 1748.9,3345.3 1749.9,3346.2 1750.9,3348 1751.9,3350.4 1752.9,3352.8 1753.9,3355 1754.9,3356.6 1755.9,3357 1756.9,3354.4 1757.9,3348.3 1758.9,3339.5 1759.9,3328.6 1760.9,3316.5 1761.9,3303.7 1762.9,3291.1 1763.9,3279.3 1764.9,3269 1765.9,3261 1766.9,3255.9 1767.9,3254.5 1768.9,3257.7 1769.9,3264.9 1770.9,3275.2 1771.9,3287.6 1772.9,3301.1 1773.9,3314.9 1774.9,3327.8 1775.9,3339.1 1776.9,3347.6 1777.9,3352.4 1778.9,3352.6 1779.9,3348.4 1780.9,3340.7 1781.9,3330.1 1782.9,3317.7 1783.9,3304.2 1784.9,3290.4 1785.9,3277.3 1786.9,3265.6 1787.9,3256.1 1788.9,3249.8 1789.9,3247.4 1790.9,3249.6 1791.9,3255.8 1792.9,3265.4 1793.9,3277.5 1794.9,3291.5 1795.9,3306.7 1796.9,3322.2 1797.9,3337.4 1798.9,3351.6 1799.9,3364 1800.9,3375 1801.9,3386.4 1802.9,3397.7 1803.9,3408.5 1804.9,3418.3 1805.9,3426.6 1806.9,3433 1807.9,3438.2 1808.9,3442.8 1809.9,3446.8 1810.9,3450.5 1811.9,3454 1812.9,3457.4 1813.9,3460.8 1814.9,3464.4 1815.9,3468.3 1816.9,3472.6 1817.9,3476.8 1818.9,3480.9 1819.9,3484.7 1820.9,3487.8 1821.9,3490.2 1822.9,3491.6 1823.9,3491.8 1824.9,3489 1825.9,3483.3 1826.9,3475.3 1827.9,3465.5 1828.9,3454.4 1829.9,3442.7 1830.9,3430.7 1831.9,3419.2 1832.9,3408.7 1833.9,3399.6 1834.9,3392.6 1835.9,3388.3 1836.9,3386.9 1837.9,3386.6 1838.9,3386.4 1839.9,3386.3 1840.9,3386.1 1841.9,3385.7 1842.9,3383.6 1843.9,3378.9 1844.9,3372.1 1845.9,3364.1 1846.9,3355.3 1847.9,3346.5 1848.9,3338.3 1849.9,3331.3 1850.9,3326.1 1851.9,3323.4 1852.9,3324.1 1853.9,3329.3 1854.9,3338.4 1855.9,3350.2 1856.9,3363.9 1857.9,3378.6 1858.9,3393.3 1859.9,3407 1860.9,3418.8 1861.9,3427.8 1862.9,3433.1 1863.9,3433.6 1864.9,3429.2 1865.9,3420.7 1866.9,3409.2 1867.9,3395.7 1868.9,3381.2 1869.9,3366.7 1870.9,3353.4 1871.9,3342.1 1872.9,3333.9 1873.9,3329.9 1874.9,3330.8 1875.9,3336.2 1876.9,3345 1877.9,3356.2 1878.9,3368.7 1879.9,3381.4 1880.9,3393.4 1881.9,3403.6 1882.9,3410.9 1883.9,3414.3 1884.9,3413.3 1885.9,3408.7 1886.9,3401.3 1887.9,3391.6 1888.9,3380.4 1889.9,3368.1 1890.9,3355.4 1891.9,3343 1892.9,3331.4 1893.9,3321.3 1894.9,3313.3 1895.9,3308.1 1896.9,3306.2 1897.9,3307.8 1898.9,3312.5 1899.9,3319.2 1900.9,3327.2 1901.9,3335.9 1902.9,3344.2 1903.9,3351.6 1904.9,3357.2 1905.9,3360.1 1906.9,3359.9 1907.9,3356.9 1908.9,3351.8 1909.9,3345 1910.9,3337.2 1911.9,3328.8 1912.9,3320.4 1913.9,3312.6 1914.9,3305.8 1915.9,3300.6 1916.9,3297.6 1917.9,3297.2 1918.9,3299.3 1919.9,3303.3 1920.9,3308.9 1921.9,3315.4 1922.9,3322.4 1923.9,3329.5 1924.9,3336.1 1925.9,3341.9 1926.9,3346.3 1927.9,3348.8 1928.9,3349 1929.9,3347.4 1930.9,3344.4 1931.9,3340.4 1932.9,3335.6 1933.9,3330.6 1934.9,3325.5 1935.9,3320.9 1936.9,3316.9 1937.9,3314.1 1938.9,3312.7 1939.9,3313.1 1940.9,3315 1941.9,3318.1 1942.9,3322.1 1943.9,3326.6 1944.9,3331.5 1945.9,3336.3 1946.9,3340.8 1947.9,3344.6 1948.9,3347.4 1949.9,3349 1950.9,3349.1 1951.9,3348 1952.9,3345.9 1953.9,3342.9 1954.9,3339.3 1955.9,3335.1 1956.9,3330.4 1957.9,3325.3 1958.9,3320.1 1959.9,3314.9 1960.9,3309.6 1961.9,3304.6 1962.9,3299.9 1963.9,3295.7 1964.9,3292.1 1965.9,3289.1 1966.9,3287 1967.9,3285.9 1968.9,3286 1969.9,3287.9 1970.9,3291.3 1971.9,3296 1972.9,3301.9 1973.9,3308.6 1974.9,3315.8 1975.9,3323.4 1976.9,3331.1 1977.9,3338.6 1978.9,3345.7 1979.9,3352.2 1980.9,3357.7 1981.9,3362 1982.9,3364.9 1983.9,3366.1 1984.9,3365.2 1985.9,3361.9 1986.9,3356.9 1987.9,3350.7 1988.9,3343.9 1989.9,3337.1 1990.9,3330.9 1991.9,3325.9 1992.9,3322.7 1993.9,3321.9 1994.9,3324 1995.9,3328.8 1996.9,3335.3 1997.9,3343 1998.9,3350.8 1999.9,3358.3 2000.9,3364.4 2001.9,3368.6 2002.9,3370.1 2003.9,3369.8 2004.9,3368.7 2005.9,3366.9 2006.9,3364.2 2007.9,3360.3 2008.3,3358.3"/>
<path stroke="#1c00bb" d="M333.9,3387.4 334.9,3390.6 335.9,3393.2 336.9,3395.2 337.9,3396.7 338.9,3397.8 339.9,3398.5 340.9,3398.9 341.9,3399.1 342.9,3399.2 343.9,3399.2 344.9,3396.4 345.9,3389.4 346.9,3378.9 347.9,3366 348.9,3351.2 349.9,3335.5 350.9,3319.6 351.9,3304.4 352.9,3290.7 353.9,3279.3 354.9,3271 355.9,3266.6 356.9,3267 357.9,3272.7 358.9,3282.9 359.9,3296.6 360.9,3312.9 361.9,3330.7 362.9,3349.3 363.9,3367.5 364.9,3384.5 365.9,3399.4 366.9,3411.1 367.9,3418.7 368.9,3421.4 369.9,3418.9 370.9,3412.5 371.9,3402.9 372.9,3391 373.9,3377.4 374.9,3363.1 375.9,3348.8 376.9,3335.3 377.9,3323.5 378.9,3314.1 379.9,3307.9 380.9,3305.8 381.9,3307.7 382.9,3312.7 383.9,3320.3 384.9,3329.9 385.9,3340.9 386.9,3352.8 387.9,3364.9 388.9,3376.8 389.9,3387.8 390.9,3397.4 391.9,3404.9 392.9,3409.9 393.9,3411.7 394.9,3410 395.9,3405.2 396.9,3397.8 397.9,3388.5 398.9,3377.9 399.9,3366.7 400.9,3355.3 401.9,3344.5 402.9,3334.8 403.9,3326.8 404.9,3321.1 405.9,3318.4 406.9,3319.3 407.9,3323.6 408.9,3330.8 409.9,3340.2 410.9,3351.4 411.9,3363.6 412.9,3376.3 413.9,3388.8 414.9,3400.7 415.9,3411.3 416.9,3419.9 417.9,3426 418.9,3429 419.9,3429.1 420.9,3428.6 421.9,3427.8 422.9,3427.1 423.9,3426.7 424.9,3426.8 425.9,3428.7 426.9,3432.2 427.9,3436.6 428.9,3441.7 429.9,3446.8 430.9,3451.4 431.9,3455.1 432.9,3457.4 433.9,3457.8 434.9,3456.1 435.9,3453 436.9,3449.2 437.9,3445.2 438.9,3441.7 439.9,3439.4 440.9,3439 441.9,3441.7 442.9,3447.2 443.9,3454.8 444.9,3463.5 445.9,3472.7 446.9,3481.6 447.9,3489.3 448.9,3495.1 449.9,3498.1 450.9,3497.3 451.9,3491.8 452.9,3482.1 453.9,3469.1 454.9,3453.6 455.9,3436.3 456.9,3417.9 457.9,3399.3 458.9,3381.3 459.9,3364.6 460.9,3350 461.9,3338.4 462.9,3330.3 463.9,3326.8 464.9,3327.4 465.9,3330.3 466.9,3334.8 467.9,3340.6 468.9,3347 469.9,3353.5 470.9,3359.8 471.9,3365.2 472.9,3369.3 473.9,3371.7 474.9,3372.5 475.9,3372.9 476.9,3373.4 477.9,3373.9 478.9,3375.1 479.9,3378.4 480.9,3383.6 481.9,3390 482.9,3397.2 483.9,3404.4 484.9,3411 485.9,3416.4 486.9,3420.1 487.9,3421.4 488.9,3419.2 489.9,3413.4 490.9,3404.9 491.9,3394.2 492.9,3382.1 493.9,3369.2 494.9,3356.3 495.9,3344 496.9,3333 497.9,3324.1 498.9,3317.8 499.9,3315 500.9,3316.4 501.9,3322.2 502.9,3331.4 503.9,3343.1 504.9,3356.2 505.9,3369.6 506.9,3382.6 507.9,3393.9 508.9,3402.8 509.9,3408 510.9,3408.9 511.9,3406.6 512.9,3402.2 513.9,3396.8 514.9,3391 515.9,3385.9 516.9,3382.2 517.9,3380.9 518.9,3383.3 519.9,3389.4 520.9,3398.3 521.9,3409.2 522.9,3421.2 523.9,3433.3 524.9,3444.6 525.9,3454.4 526.9,3461.6 527.9,3465.4 528.9,3465.2 529.9,3462.3 530.9,3457 531.9,3449.6 532.9,3440.6 533.9,3430.3 534.9,3418.9 535.9,3406.8 536.9,3394.4 537.9,3381.9 538.9,3369.7 539.9,3358 540.9,3347.4 541.9,3338 542.9,3330.2 543.9,3324.3 544.9,3320.7 545.9,3319.6 546.9,3321 547.9,3324.5 548.9,3329.6 549.9,3335.9 550.9,3343.2 551.9,3351 552.9,3358.9 553.9,3366.6 554.9,3373.7 555.9,3379.9 556.9,3384.7 557.9,3387.8 558.9,3388.7 559.9,3387.3 560.9,3383.7 561.9,3378.6 562.9,3372.5 563.9,3366 564.9,3359.6 565.9,3353.9 566.9,3349.5 567.9,3346.9 568.9,3346.7 569.9,3348.7 570.9,3352.4 571.9,3357.4 572.9,3363.1 573.9,3369.1 574.9,3374.8 575.9,3379.9 576.9,3383.7 577.9,3385.9 578.9,3385.6 579.9,3381.7 580.9,3374.5 581.9,3364.7 582.9,3353 583.9,3340.2 584.9,3326.8 585.9,3313.5 586.9,3301.2 587.9,3290.4 588.9,3281.7 589.9,3276 590.9,3273.9 591.9,3276.1 592.9,3282.4 593.9,3292.1 594.9,3304.6 595.9,3319 596.9,3334.8 597.9,3351.2 598.9,3367.5 599.9,3383.1 600.9,3397.2 601.9,3409.2 602.9,3418.3 603.9,3423.9 604.9,3425.6 605.9,3426.3 606.9,3426.7 607.9,3427.2 608.9,3427.9 609.9,3429.3 610.9,3431.7 611.9,3434.4 612.9,3436.9 613.9,3438.8 614.9,3439.6 615.9,3437.4 616.9,3431 617.9,3421.2 618.9,3409.1 619.9,3395.4 620.9,3381.1 621.9,3366.9 622.9,3353.8 623.9,3342.7 624.9,3334.5 625.9,3329.9 626.9,3330 627.9,3336.1 628.9,3347.3 629.9,3362.6 630.9,3381.1 631.9,3401.8 632.9,3423.6 633.9,3445.5 634.9,3466.7 635.9,3486 636.9,3502.4 637.9,3515 638.9,3522.8 639.9,3524.9 640.9,3521.7 641.9,3514.3 642.9,3503.6 643.9,3490.1 644.9,3474.5 645.9,3457.6 646.9,3440 647.9,3422.4 648.9,3405.4 649.9,3389.9 650.9,3376.5 651.9,3365.8 652.9,3358.5 653.9,3355.4 654.9,3355.7 655.9,3356.8 656.9,3358.7 657.9,3361.3 658.9,3364.4 659.9,3368.1 660.9,3372.1 661.9,3376.5 662.9,3381.1 663.9,3385.8 664.9,3392 665.9,3401.5 666.9,3413.5 667.9,3427.4 668.9,3442.4 669.9,3458 670.9,3473.4 671.9,3488.1 672.9,3501.2 673.9,3512.2 674.9,3520.3 675.9,3524.9 676.9,3525.4 677.9,3521.7 678.9,3514.4 679.9,3504.3 680.9,3492.1 681.9,3478.6 682.9,3464.4 683.9,3450.3 684.9,3437.1 685.9,3425.4 686.9,3416 687.9,3409.6 688.9,3406.9 689.9,3406.2 690.9,3405.7 691.9,3405.1 692.9,3404.1 693.9,3399 694.9,3389.4 695.9,3376.3 696.9,3360.8 697.9,3344.2 698.9,3327.5 699.9,3311.9 700.9,3298.5 701.9,3288.5 702.9,3283 703.9,3283.3 704.9,3290.6 705.9,3303.9 706.9,3322.1 707.9,3343.8 708.9,3368 709.9,3393.4 710.9,3418.8 711.9,3443 712.9,3464.8 713.9,3483 714.9,3496.4 715.9,3503.8 716.9,3504.2 717.9,3498.9 718.9,3489.2 719.9,3476.5 720.9,3462 721.9,3447.1 722.9,3433 723.9,3421 724.9,3412.4 725.9,3408.5 726.9,3410.3 727.9,3417.2 728.9,3428 729.9,3441.3 730.9,3455.7 731.9,3470 732.9,3482.8 733.9,3492.8 734.9,3498.7 735.9,3499.3 736.9,3496 737.9,3489.5 738.9,3480.3 739.9,3468.9 740.9,3455.6 741.9,3441 742.9,3425.5 743.9,3409.6 744.9,3393.7 745.9,3378.3 746.9,3363.8 747.9,3350.8 748.9,3339.6 749.9,3330.8 750.9,3324.7 751.9,3321.9 752.9,3322 753.9,3323.2 754.9,3325.2 755.9,3327.7 756.9,3330.4 757.9,3333.2 758.9,3335.7 759.9,3337.8 760.9,3339.2 761.9,3339.7 762.9,3338.8 763.9,3336.8 764.9,3334.1 765.9,3331.4 766.9,3329 767.9,3327.6 768.9,3327.8 769.9,3330.4 770.9,3334.8 771.9,3340.6 772.9,3347.2 773.9,3354 774.9,3360.5 775.9,3366.1 776.9,3370.2 777.9,3372.4 778.9,3372.2 779.9,3370.1 780.9,3366.6 781.9,3362 782.9,3356.8 783.9,3351.2 784.9,3345.6 785.9,3340.5 786.9,3336.2 787.9,3333.1 788.9,3331.5 789.9,3332.1 790.9,3335.6 791.9,3341.4 792.9,3348.7 793.9,3357 794.9,3365.4 795.9,3373.4 796.9,3380.1 797.9,3385 798.9,3387.4 799.9,3387.1 800.9,3385.5 801.9,3382.8 802.9,3379.1 803.9,3374.4 804.9,3369 805.9,3362.9 806.9,3356.3 807.9,3349.2 808.9,3341.7 809.9,3334.1 810.9,3326.4 811.9,3318.6 812.9,3311 813.9,3303.7 814.9,3296.7 815.9,3290.2 816.9,3284.3 817.9,3279.1 818.9,3274.7 819.9,3271.2 820.9,3268.8 821.9,3267.6 822.9,3267.7 823.9,3269.2 824.9,3271.8 825.9,3275.4 826.9,3279.6 827.9,3284 828.9,3288.5 829.9,3292.8 830.9,3296.4 831.9,3299.3 832.9,3301 833.9,3301.2 834.9,3298.5 835.9,3292.9 836.9,3285 837.9,3275.4 838.9,3264.5 839.9,3253 840.9,3241.3 841.9,3230.1 842.9,3219.9 843.9,3211.2 844.9,3204.5 845.9,3200.5 846.9,3199.7 847.9,3202.4 848.9,3207.9 849.9,3215.3 850.9,3224 851.9,3233 852.9,3241.5 853.9,3248.8 854.9,3254 855.9,3256.2 856.9,3254.7 857.9,3249.9 858.9,3242.4 859.9,3233.1 860.9,3222.8 861.9,3212.3 862.9,3202.5 863.9,3194.1 864.9,3188 865.9,3184.9 866.9,3186 867.9,3191.8 868.9,3201.6 869.9,3214.6 870.9,3229.9 871.9,3246.8 872.9,3264.3 873.9,3281.7 874.9,3298.1 875.9,3312.7 876.9,3324.7 877.9,3333.3 878.9,3337.6 879.9,3337.8 880.9,3337.5 881.9,3337.1 882.9,3336.7 883.9,3336.7 884.9,3338.7 885.9,3343.1 886.9,3349.6 887.9,3357.5 888.9,3366.4 889.9,3375.9 890.9,3385.3 891.9,3394.3 892.9,3402.4 893.9,3409 894.9,3413.7 895.9,3416 896.9,3415.3 897.9,3411.2 898.9,3404.4 899.9,3395.3 900.9,3384.7 901.9,3373.1 902.9,3361.2 903.9,3349.5 904.9,3338.7 905.9,3329.3 906.9,3322.1 907.9,3317.5 908.9,3316.3 909.9,3318.2 910.9,3322.6 911.9,3328.5 912.9,3335.2 913.9,3341.9 914.9,3347.8 915.9,3352.2 916.9,3354.3 917.9,3352.8 918.9,3347.2 919.9,3338.7 920.9,3328.5 921.9,3317.8 922.9,3308 923.9,3300.2 924.9,3295.6 925.9,3295.7 926.9,3302.7 927.9,3315.7 928.9,3333.3 929.9,3353.9 930.9,3376.3 931.9,3398.8 932.9,3420.1 933.9,3438.7 934.9,3453.2 935.9,3462.2 936.9,3464.3 937.9,3459.9 938.9,3450.5 939.9,3436.8 940.9,3419.8 941.9,3400.4 942.9,3379.5 943.9,3358 944.9,3336.8 945.9,3316.8 946.9,3298.8 947.9,3283.9 948.9,3272.9 949.9,3266.7 950.9,3265.9 951.9,3269.2 952.9,3275.4 953.9,3283.8 954.9,3293.9 955.9,3305 956.9,3316.4 957.9,3327.4 958.9,3337.4 959.9,3345.7 960.9,3351.7 961.9,3354.6 962.9,3354.3 963.9,3351.9 964.9,3348.9 965.9,3346.4 966.9,3345.8 967.9,3348.4 968.9,3353.9 969.9,3361.9 970.9,3371.6 971.9,3382.4 972.9,3393.9 973.9,3405.2 974.9,3415.9 975.9,3425.3 976.9,3432.8 977.9,3437.8 978.9,3439.7 979.9,3438.2 980.9,3434.4 981.9,3429.2 982.9,3423.6 983.9,3418.9 984.9,3415.9 985.9,3415.8 986.9,3419.2 987.9,3425.3 988.9,3433.1 989.9,3441.6 990.9,3449.8 991.9,3456.8 992.9,3461.6 993.9,3463.1 994.9,3459.6 995.9,3451 996.9,3438.5 997.9,3423 998.9,3405.7 999.9,3387.8 1000.9,3370.2 1001.9,3354.1 1002.9,3340.5 1003.9,3330.7 1004.9,3325.6 1005.9,3326.2 1006.9,3332.1 1007.9,3342.4 1008.9,3356 1009.9,3371.9 1010.9,3389 1011.9,3406.5 1012.9,3423.2 1013.9,3438.1 1014.9,3450.2 1015.9,3458.5 1016.9,3462 1017.9,3460.5 1018.9,3455.2 1019.9,3446.7 1020.9,3435.9 1021.9,3423.2 1022.9,3409.4 1023.9,3395.2 1024.9,3381.2 1025.9,3368.1 1026.9,3356.6 1027.9,3347.4 1028.9,3341 1029.9,3338.2 1030.9,3338.9 1031.9,3341.4 1032.9,3345.5 1033.9,3350.6 1034.9,3356.4 1035.9,3362.4 1036.9,3368.2 1037.9,3373.4 1038.9,3377.6 1039.9,3380.4 1040.9,3381.4 1041.9,3381.9 1042.9,3382.3 1043.9,3382.6 1044.9,3382.8 1045.9,3383.2 1046.9,3383.7 1047.9,3384.9 1048.9,3387.4 1049.9,3390.9 1050.9,3395.4 1051.9,3400.6 1052.9,3406.3 1053.9,3412.4 1054.9,3418.6 1055.9,3424.7 1056.9,3430.6 1057.9,3436.1 1058.9,3441 1059.9,3445 1060.9,3448 1061.9,3449.9 1062.9,3450.3 1063.9,3449.5 1064.9,3447.8 1065.9,3445.2 1066.9,3442 1067.9,3438.4 1068.9,3434.5 1069.9,3430.5 1070.9,3426.6 1071.9,3422.9 1072.9,3419.7 1073.9,3416.8 1074.9,3413.5 1075.9,3410.1 1076.9,3406.6 1077.9,3403.2 1078.9,3400 1079.9,3397.1 1080.9,3394.7 1081.9,3392.9 1082.9,3391.9 1083.9,3391.8 1084.9,3394 1085.9,3398.2 1086.9,3403.9 1087.9,3410.3 1088.9,3416.9 1089.9,3423 1090.9,3428 1091.9,3431.2 1092.9,3432 1093.9,3429.8 1094.9,3425 1095.9,3418.4 1096.9,3410.7 1097.9,3402.6 1098.9,3394.9 1099.9,3388.2 1100.9,3383.5 1101.9,3381.3 1102.9,3381.6 1103.9,3383.1 1104.9,3385.5 1105.9,3388.6 1106.9,3392.1 1107.9,3395.8 1108.9,3399.5 1109.9,3403 1110.9,3406 1111.9,3408.2 1112.9,3409.6 1113.9,3409.7 1114.9,3407.4 1115.9,3402.3 1116.9,3394.9 1117.9,3385.5 1118.9,3374.4 1119.9,3361.8 1120.9,3348.1 1121.9,3333.6 1122.9,3318.5 1123.9,3303.3 1124.9,3288.2 1125.9,3273.4 1126.9,3259.4 1127.9,3246.4 1128.9,3234.7 1129.9,3224.2 1130.9,3213.8 1131.9,3203.4 1132.9,3193.2 1133.9,3183.3 1134.9,3173.8 1135.9,3164.9 1136.9,3156.7 1137.9,3148.9 1138.9,3140.8 1139.9,3132.4 1140.9,3124.1 1141.9,3115.8 1142.9,3107.9 1143.9,3100.3 1144.9,3093.4 1145.9,3087.1 1146.9,3081.7 1147.9,3077.4 1148.9,3074.2 1149.9,3072.4 1150.9,3072.1 1151.9,3074.5 1152.9,3079.6 1153.9,3086.9 1154.9,3095.8 1155.9,3105.7 1156.9,3116.2 1157.9,3126.7 1158.9,3136.6 1159.9,3145.4 1160.9,3152.7 1161.9,3157.7 1162.9,3160.1 1163.9,3159.6 1164.9,3157.4 1165.9,3154.1 1166.9,3150.3 1167.9,3146.5 1168.9,3143.4 1169.9,3141.5 1170.9,3141.6 1171.9,3146 1172.9,3154.4 1173.9,3166.1 1174.9,3180.4 1175.9,3196.6 1176.9,3213.9 1177.9,3231.7 1178.9,3249.1 1179.9,3265.6 1180.9,3280.3 1181.9,3292.6 1182.9,3301.8 1183.9,3307.1 1184.9,3307.8 1185.9,3303.8 1186.9,3295.6 1187.9,3284.2 1188.9,3270.4 1189.9,3255 1190.9,3238.9 1191.9,3222.8 1192.9,3207.6 1193.9,3194.2 1194.9,3183.3 1195.9,3175.8 1196.9,3172.5 1197.9,3173.8 1198.9,3178.3 1199.9,3185.3 1200.9,3193.7 1201.9,3202.5 1202.9,3210.8 1203.9,3217.7 1204.9,3222.1 1205.9,3223.3 1206.9,3221.5 1207.9,3217.8 1208.9,3212.9 1209.9,3207.2 1210.9,3201.4 1211.9,3196.3 1212.9,3192.3 1213.9,3190.1 1214.9,3190.6 1215.9,3194.5 1216.9,3201.3 1217.9,3210.2 1218.9,3220.6 1219.9,3231.8 1220.9,3243.1 1221.9,3253.8 1222.9,3263.2 1223.9,3270.6 1224.9,3275.4 1225.9,3276.8 1226.9,3274.9 1227.9,3270.2 1228.9,3263.4 1229.9,3255.1 1230.9,3245.8 1231.9,3236.2 1232.9,3226.8 1233.9,3218.2 1234.9,3211.1 1235.9,3205.8 1236.9,3203.2 1237.9,3204 1238.9,3209 1239.9,3217.5 1240.9,3228.4 1241.9,3241 1242.9,3254.2 1243.9,3267.2 1244.9,3278.9 1245.9,3288.5 1246.9,3295.1 1247.9,3297.7 1248.9,3295.9 1249.9,3290.6 1250.9,3282.9 1251.9,3273.8 1252.9,3264.3 1253.9,3255.4 1254.9,3248.3 1255.9,3243.8 1256.9,3243.1 1257.9,3246.1 1258.9,3252.3 1259.9,3261.1 1260.9,3272.1 1261.9,3284.6 1262.9,3298.3 1263.9,3312.5 1264.9,3326.8 1265.9,3340.6 1266.9,3353.4 1267.9,3364.8 1268.9,3374.1 1269.9,3380.9 1270.9,3384.6 1271.9,3384.9 1272.9,3382.9 1273.9,3379.1 1274.9,3373.9 1275.9,3367.7 1276.9,3360.8 1277.9,3353.6 1278.9,3346.4 1279.9,3339.5 1280.9,3333.4 1281.9,3328.4 1282.9,3324.9 1283.9,3323.1 1284.9,3323.9 1285.9,3328.2 1286.9,3335.2 1287.9,3344.1 1288.9,3353.8 1289.9,3363.6 1290.9,3372.5 1291.9,3379.6 1292.9,3384.1 1293.9,3384.9 1294.9,3380.9 1295.9,3372.4 1296.9,3360.5 1297.9,3346 1298.9,3329.8 1299.9,3312.8 1300.9,3295.9 1301.9,3280.1 1302.9,3266.3 1303.9,3255.3 1304.9,3248.1 1305.9,3245.5 1306.9,3248.1 1307.9,3255 1308.9,3265.5 1309.9,3278.7 1310.9,3293.8 1311.9,3310 1312.9,3326.3 1313.9,3342 1314.9,3356.3 1315.9,3368.2 1316.9,3377 1317.9,3381.8 1318.9,3382.1 1319.9,3379.2 1320.9,3373.8 1321.9,3366.3 1322.9,3357.3 1323.9,3347.1 1324.9,3336.3 1325.9,3325.3 1326.9,3314.5 1327.9,3304.5 1328.9,3295.7 1329.9,3288.5 1330.9,3283.4 1331.9,3280.9 1332.9,3280.9 1333.9,3281.7 1334.9,3283 1335.9,3284.9 1336.9,3287.2 1337.9,3289.9 1338.9,3292.9 1339.9,3296.2 1340.9,3299.6 1341.9,3303.1 1342.9,3306.7 1343.9,3310.2 1344.9,3314.8 1345.9,3321.1 1346.9,3327.3 1347.9,3331.9 1348.9,3333.2 1349.9,3332.4 1350.9,3331 1351.9,3329.1 1352.9,3327.2 1353.9,3325.7 1354.9,3324.9 1355.9,3325.4 1356.9,3327.7 1357.9,3331.3 1358.9,3335.4 1359.9,3339.3 1360.9,3342.5 1361.9,3344.3 1362.9,3343.8 1363.9,3340.9 1364.9,3335.8 1365.9,3329.1 1366.9,3321.1 1367.9,3312.5 1368.9,3303.5 1369.9,3294.7 1370.9,3286.6 1371.9,3279.6 1372.9,3274.1 1373.9,3270.6 1374.9,3269.6 1375.9,3271.3 1376.9,3275.6 1377.9,3281.9 1378.9,3289.6 1379.9,3298.3 1380.9,3307.6 1381.9,3316.8 1382.9,3325.6 1383.9,3333.3 1384.9,3339.6 1385.9,3343.9 1386.9,3345.7 1387.9,3345.6 1388.9,3345.2 1389.9,3344.8 1390.9,3344.5 1391.9,3344.6 1392.9,3346.4 1393.9,3349.8 1394.9,3354.4 1395.9,3359.8 1396.9,3365.6 1397.9,3371.5 1398.9,3376.9 1399.9,3381.6 1400.9,3385.2 1401.9,3387.2 1402.9,3387.2 1403.9,3384.6 1404.9,3379.6 1405.9,3372.8 1406.9,3364.3 1407.9,3354.7 1408.9,3344.4 1409.9,3333.7 1410.9,3322.9 1411.9,3312.6 1412.9,3303.1 1413.9,3294.8 1414.9,3288 1415.9,3283.2 1416.9,3280.7 1417.9,3281.2 1418.9,3285.1 1419.9,3291.9 1420.9,3301.1 1421.9,3312 1422.9,3324 1423.9,3336.5 1424.9,3348.9 1425.9,3360.5 1426.9,3370.8 1427.9,3379.1 1428.9,3384.9 1429.9,3387.4 1430.9,3386.4 1431.9,3382.3 1432.9,3375.7 1433.9,3367.1 1434.9,3357.1 1435.9,3346 1436.9,3334.6 1437.9,3323.2 1438.9,3312.4 1439.9,3302.7 1440.9,3294.7 1441.9,3288.8 1442.9,3285.6 1443.9,3285.4 1444.9,3286.8 1445.9,3289.5 1446.9,3293.1 1447.9,3297.4 1448.9,3302.1 1449.9,3307 1450.9,3311.8 1451.9,3316.3 1452.9,3320.1 1453.9,3323.1 1454.9,3325.8 1455.9,3328.2 1456.9,3330.5 1457.9,3332.6 1458.9,3334.8 1459.9,3337 1460.9,3339.3 1461.9,3341.7 1462.9,3344.3 1463.9,3347 1464.9,3349.7 1465.9,3352.6 1466.9,3355.5 1467.9,3358.4 1468.9,3361.3 1469.9,3364.2 1470.9,3367.1 1471.9,3369.9 1472.9,3372.7 1473.9,3375.3 1474.9,3377.8 1475.9,3380.2 1476.9,3382.4 1477.9,3384.4 1478.9,3386.2 1479.9,3387.8 1480.9,3389.1 1481.9,3390.3 1482.9,3391.3 1483.9,3392.2 1484.9,3393.1 1485.9,3394.1 1486.9,3395.2 1487.9,3396.5 1488.9,3398.1 1489.9,3400.5 1490.9,3403.9 1491.9,3408 1492.9,3412.8 1493.9,3417.9 1494.9,3423.2 1495.9,3428.5 1496.9,3433.5 1497.9,3438 1498.9,3441.9 1499.9,3444.9 1500.9,3446.9 1501.9,3447.5 1502.9,3446 1503.9,3442 1504.9,3435.9 1505.9,3428 1506.9,3418.7 1507.9,3408.4 1508.9,3397.5 1509.9,3386.3 1510.9,3375.1 1511.9,3364.4 1512.9,3354.6 1513.9,3345.9 1514.9,3338.7 1515.9,3333.5 1516.9,3330.6 1517.9,3330.2 1518.9,3332 1519.9,3335.7 1520.9,3341.1 1521.9,3348.1 1522.9,3356.4 1523.9,3366.1 1524.9,3376.8 1525.9,3388.4 1526.9,3400.9 1527.9,3413.9 1528.9,3427.5 1529.9,3441.3 1530.9,3455.4 1531.9,3469.4 1532.9,3483.3 1533.9,3496.9 1534.9,3510 1535.9,3522.5 1536.9,3534.2 1537.9,3545 1538.9,3554.7 1539.9,3563.2 1540.9,3570.3 1541.9,3575.8 1542.9,3579.7 1543.9,3581.6 1544.9,3581.3 1545.9,3576.8 1546.9,3568.6 1547.9,3557.2 1548.9,3543.1 1549.9,3527 1550.9,3509.4 1551.9,3490.8 1552.9,3472 1553.9,3453.4 1554.9,3435.6 1555.9,3419.3 1556.9,3404.9 1557.9,3393 1558.9,3384.3 1559.9,3379.3 1560.9,3378.5 1561.9,3381 1562.9,3385.8 1563.9,3392.3 1564.9,3399.9 1565.9,3407.9 1566.9,3415.6 1567.9,3422.5 1568.9,3427.7 1569.9,3430.8 1570.9,3431.2 1571.9,3430.1 1572.9,3427.8 1573.9,3424.6 1574.9,3420.4 1575.9,3415.4 1576.9,3409.7 1577.9,3403.4 1578.9,3396.6 1579.9,3389.5 1580.9,3382 1581.9,3374.4 1582.9,3366.7 1583.9,3359 1584.9,3351.5 1585.9,3344.2 1586.9,3337.2 1587.9,3330.7 1588.9,3324.8 1589.9,3319.5 1590.9,3315 1591.9,3311.3 1592.9,3308.6 1593.9,3307 1594.9,3306.6 1595.9,3308.7 1596.9,3313.4 1597.9,3320.2 1598.9,3328.3 1599.9,3337.2 1600.9,3346.2 1601.9,3354.7 1602.9,3362.1 1603.9,3367.7 1604.9,3370.8 1605.9,3370.8 1606.9,3366.4 1607.9,3358.1 1608.9,3346.7 1609.9,3332.8 1610.9,3317.1 1611.9,3300.4 1612.9,3283.3 1613.9,3266.7 1614.9,3251.1 1615.9,3237.4 1616.9,3226.2 1617.9,3218.3 1618.9,3214.3 1619.9,3214.4 1620.9,3216.4 1621.9,3219.5 1622.9,3223.1 1623.9,3226.4 1624.9,3228.8 1625.9,3229.6 1626.9,3228.2 1627.9,3224.9 1628.9,3219.9 1629.9,3213.7 1630.9,3206.6 1631.9,3198.9 1632.9,3191.1 1633.9,3183.6 1634.9,3176.6 1635.9,3170.5 1636.9,3165.8 1637.9,3162.8 1638.9,3161.8 1639.9,3163.4 1640.9,3167.7 1641.9,3174.2 1642.9,3182.7 1643.9,3192.8 1644.9,3204 1645.9,3216.2 1646.9,3228.8 1647.9,3241.6 1648.9,3254.2 1649.9,3266.2 1650.9,3277.3 1651.9,3287.1 1652.9,3295.3 1653.9,3301.5 1654.9,3305.4 1655.9,3306.6 1656.9,3304.4 1657.9,3299.1 1658.9,3291.1 1659.9,3281 1660.9,3269.5 1661.9,3256.9 1662.9,3244.1 1663.9,3231.3 1664.9,3219.4 1665.9,3208.7 1666.9,3199.9 1667.9,3193.5 1668.9,3190.1 1669.9,3190 1670.9,3192 1671.9,3195.5 1672.9,3200.1 1673.9,3205.4 1674.9,3211 1675.9,3216.5 1676.9,3221.4 1677.9,3225.4 1678.9,3228 1679.9,3228.8 1680.9,3227 1681.9,3222.9 1682.9,3217.8 1683.9,3212.6 1684.9,3207 1685.9,3199.9 1686.9,3192.1 1687.9,3184.8 1688.9,3178.8 1689.9,3175.1 1690.9,3174.6 1691.9,3176.5 1692.9,3180.5 1693.9,3186 1694.9,3192.8 1695.9,3200.6 1696.9,3209.1 1697.9,3217.9 1698.9,3226.7 1699.9,3235.2 1700.9,3243 1701.9,3250 1702.9,3255.6 1703.9,3259.7 1704.9,3261.8 1705.9,3262.8 1706.9,3263.4 1707.9,3264 1708.9,3264.6 1709.9,3265.5 1710.9,3267.6 1711.9,3272.2 1712.9,3278.6 1713.9,3286.2 1714.9,3294.6 1715.9,3303.1 1716.9,3311.1 1717.9,3318 1718.9,3323.3 1719.9,3326.5 1720.9,3326.9 1721.9,3326.1 1722.9,3324.5 1723.9,3322.6 1724.9,3320.8 1725.9,3319.4 1726.9,3318.7 1727.9,3319.5 1728.9,3322.1 1729.9,3326.3 1730.9,3331.7 1731.9,3337.9 1732.9,3344.5 1733.9,3351.2 1734.9,3357.7 1735.9,3363.6 1736.9,3368.5 1737.9,3372 1738.9,3373.8 1739.9,3373.8 1740.9,3372.4 1741.9,3370.1 1742.9,3367.2 1743.9,3363.9 1744.9,3360.6 1745.9,3357.6 1746.9,3355.1 1747.9,3353.5 1748.9,3353.2 1749.9,3354.4 1750.9,3356.9 1751.9,3360.1 1752.9,3363.5 1753.9,3366.6 1754.9,3368.7 1755.9,3369.2 1756.9,3365.4 1757.9,3356.6 1758.9,3343.8 1759.9,3328.1 1760.9,3310.5 1761.9,3292 1762.9,3273.7 1763.9,3256.6 1764.9,3241.7 1765.9,3230 1766.9,3222.7 1767.9,3220.7 1768.9,3225.2 1769.9,3235.5 1770.9,3250.3 1771.9,3268.1 1772.9,3287.6 1773.9,3307.3 1774.9,3325.9 1775.9,3342.1 1776.9,3354.3 1777.9,3361.2 1778.9,3361.5 1779.9,3355.5 1780.9,3344.3 1781.9,3329.1 1782.9,3311.1 1783.9,3291.6 1784.9,3271.7 1785.9,3252.7 1786.9,3235.8 1787.9,3222.2 1788.9,3213 1789.9,3209.6 1790.9,3212.6 1791.9,3221.3 1792.9,3234.6 1793.9,3251.6 1794.9,3271.3 1795.9,3292.8 1796.9,3314.9 1797.9,3336.8 1798.9,3357.5 1799.9,3375.9 1800.9,3392.9 1801.9,3411.3 1802.9,3430 1803.9,3447.8 1804.9,3463.8 1805.9,3476.8 1806.9,3485.7 1807.9,3492.4 1808.9,3498.1 1809.9,3502.9 1810.9,3507.3 1811.9,3511.4 1812.9,3515.6 1813.9,3520 1814.9,3525.1 1815.9,3531.2 1816.9,3537.8 1817.9,3544.7 1818.9,3551.5 1819.9,3557.8 1820.9,3563.2 1821.9,3567.3 1822.9,3569.7 1823.9,3570 1824.9,3565.9 1825.9,3557.5 1826.9,3545.6 1827.9,3531.1 1828.9,3514.7 1829.9,3497.3 1830.9,3479.7 1831.9,3462.8 1832.9,3447.2 1833.9,3433.9 1834.9,3423.7 1835.9,3417.4 1836.9,3415.6 1837.9,3415.3 1838.9,3415.2 1839.9,3415 1840.9,3414.8 1841.9,3414.4 1842.9,3411.5 1843.9,3404.6 1844.9,3394.8 1845.9,3382.9 1846.9,3370 1847.9,3357 1848.9,3344.8 1849.9,3334.4 1850.9,3326.7 1851.9,3322.7 1852.9,3323.7 1853.9,3331.4 1854.9,3344.7 1855.9,3362.1 1856.9,3382.2 1857.9,3403.7 1858.9,3425.2 1859.9,3445.3 1860.9,3462.6 1861.9,3475.8 1862.9,3483.5 1863.9,3484.3 1864.9,3477.8 1865.9,3465.4 1866.9,3448.6 1867.9,3428.8 1868.9,3407.6 1869.9,3386.5 1870.9,3366.9 1871.9,3350.4 1872.9,3338.5 1873.9,3332.6 1874.9,3334 1875.9,3341.9 1876.9,3354.7 1877.9,3371.1 1878.9,3389.3 1879.9,3407.9 1880.9,3425.5 1881.9,3440.3 1882.9,3451 1883.9,3456 1884.9,3454.5 1885.9,3448 1886.9,3437.3 1887.9,3423.4 1888.9,3407.2 1889.9,3389.5 1890.9,3371.2 1891.9,3353.4 1892.9,3336.7 1893.9,3322.2 1894.9,3310.7 1895.9,3303.2 1896.9,3300.4 1897.9,3302.7 1898.9,3309 1899.9,3318.1 1900.9,3329 1901.9,3340.7 1902.9,3352.1 1903.9,3362 1904.9,3369.6 1905.9,3373.6 1906.9,3373.3 1907.9,3369.1 1908.9,3361.8 1909.9,3352.3 1910.9,3341.2 1911.9,3329.4 1912.9,3317.5 1913.9,3306.4 1914.9,3296.9 1915.9,3289.6 1916.9,3285.3 1917.9,3284.8 1918.9,3287.7 1919.9,3293.5 1920.9,3301.4 1921.9,3310.6 1922.9,3320.7 1923.9,3330.8 1924.9,3340.2 1925.9,3348.4 1926.9,3354.7 1927.9,3358.3 1928.9,3358.6 1929.9,3356.4 1930.9,3352.3 1931.9,3346.8 1932.9,3340.3 1933.9,3333.3 1934.9,3326.4 1935.9,3320 1936.9,3314.6 1937.9,3310.7 1938.9,3308.9 1939.9,3309.4 1940.9,3311.9 1941.9,3316.2 1942.9,3321.6 1943.9,3327.9 1944.9,3334.6 1945.9,3341.2 1946.9,3347.3 1947.9,3352.5 1948.9,3356.4 1949.9,3358.6 1950.9,3358.7 1951.9,3357.1 1952.9,3354.1 1953.9,3349.8 1954.9,3344.6 1955.9,3338.5 1956.9,3331.7 1957.9,3324.5 1958.9,3317 1959.9,3309.4 1960.9,3301.9 1961.9,3294.7 1962.9,3287.9 1963.9,3281.8 1964.9,3276.6 1965.9,3272.3 1966.9,3269.3 1967.9,3267.7 1968.9,3267.9 1969.9,3270.5 1970.9,3275.4 1971.9,3282.3 1972.9,3290.7 1973.9,3300.3 1974.9,3310.7 1975.9,3321.7 1976.9,3332.7 1977.9,3343.5 1978.9,3353.8 1979.9,3363 1980.9,3370.9 1981.9,3377.1 1982.9,3381.3 1983.9,3383.1 1984.9,3381.8 1985.9,3377.2 1986.9,3370 1987.9,3361.3 1988.9,3351.7 1989.9,3342.1 1990.9,3333.3 1991.9,3326.3 1992.9,3321.8 1993.9,3320.6 1994.9,3323.7 1995.9,3330.5 1996.9,3339.9 1997.9,3350.8 1998.9,3362.1 1999.9,3372.7 2000.9,3381.6 2001.9,3387.6 2002.9,3389.6 2003.9,3388.5 2004.9,3385.4 2005.9,3380.4 2006.9,3373.6 2007.9,3365.1 2008.3,3360.9"/>
<path stroke="#e00000" d="M333.9,3387.4 334.9,3392.8 335.9,3397.1 336.9,3400.4 337.9,3402.9 338.9,3404.6 339.9,3405.8 340.9,3406.5 341.9,3406.9 342.9,3407 343.9,3407 344.9,3402.8 345.9,3392.4 346.9,3376.9 347.9,3357.5 348.9,3335.5 349.9,3312.1 350.9,3288.4 351.9,3265.8 352.9,3245.4 353.9,3228.4 354.9,3216 355.9,3209.4 356.9,3210.1 357.9,3218.6 358.9,3233.8 359.9,3254.3 360.9,3278.6 361.9,3305.4 362.9,3333.1 363.9,3360.4 364.9,3385.8 365.9,3408.1 366.9,3425.6 367.9,3437 368.9,3440.9 369.9,3437.3 370.9,3427.8 371.9,3413.5 372.9,3395.6 373.9,3375.4 374.9,3354.1 375.9,3332.8 376.9,3312.7 377.9,3295.1 378.9,3281.1 379.9,3271.9 380.9,3268.7 381.9,3271.5 382.9,3279 383.9,3290.2 384.9,3304.5 385.9,3320.8 386.9,3338.4 387.9,3356.4 388.9,3374 389.9,3390.3 390.9,3404.5 391.9,3415.7 392.9,3423.1 393.9,3425.8 394.9,3423.3 395.9,3416.1 396.9,3405.2 397.9,3391.5 398.9,3375.8 399.9,3359.1 400.9,3342.3 401.9,3326.3 402.9,3311.9 403.9,3300.1 404.9,3291.7 405.9,3287.7 406.9,3289 407.9,3295.3 408.9,3305.9 409.9,3319.9 410.9,3336.4 411.9,3354.4 412.9,3373.2 413.9,3391.8 414.9,3409.3 415.9,3424.9 416.9,3437.6 417.9,3446.6 418.9,3451.1 419.9,3451.1 420.9,3450.1 421.9,3448.7 422.9,3447.3 423.9,3446.3 424.9,3446.5 425.9,3449.4 426.9,3454.7 427.9,3461.7 428.9,3469.4 429.9,3477.3 430.9,3484.4 431.9,3490.1 432.9,3493.7 433.9,3494.2 434.9,3491.6 435.9,3486.8 436.9,3480.7 437.9,3474.4 438.9,3468.9 439.9,3465.3 440.9,3464.6 441.9,3468.7 442.9,3476.9 443.9,3488.2 444.9,3501.2 445.9,3515 446.9,3528.2 447.9,3539.7 448.9,3548.2 449.9,3552.7 450.9,3551.6 451.9,3543.4 452.9,3529.1 453.9,3509.9 454.9,3486.8 455.9,3461.1 456.9,3434 457.9,3406.4 458.9,3379.7 459.9,3355 460.9,3333.4 461.9,3316.1 462.9,3304.2 463.9,3298.9 464.9,3299.9 465.9,3304.3 466.9,3311.3 467.9,3320 468.9,3329.8 469.9,3339.8 470.9,3349.2 471.9,3357.3 472.9,3363.3 473.9,3366.4 474.9,3367.2 475.9,3367.7 476.9,3368.1 477.9,3368.7 478.9,3370 479.9,3374.7 480.9,3382.3 481.9,3392 482.9,3402.8 483.9,3413.7 484.9,3423.8 485.9,3432.1 486.9,3437.7 487.9,3439.6 488.9,3436.3 489.9,3427.8 490.9,3415.1 491.9,3399.2 492.9,3381.2 493.9,3362 494.9,3342.8 495.9,3324.5 496.9,3308.2 497.9,3294.9 498.9,3285.6 499.9,3281.4 500.9,3283.5 501.9,3292.1 502.9,3305.9 503.9,3323.2 504.9,3342.6 505.9,3362.7 506.9,3381.9 507.9,3398.8 508.9,3411.9 509.9,3419.8 510.9,3421.1 511.9,3417.8 512.9,3411.6 513.9,3403.9 514.9,3395.8 515.9,3388.5 516.9,3383.3 517.9,3381.4 518.9,3384.9 519.9,3393.8 520.9,3406.8 521.9,3422.6 522.9,3440 523.9,3457.6 524.9,3474.2 525.9,3488.3 526.9,3498.8 527.9,3504.3 528.9,3504.1 529.9,3499.7 530.9,3491.8 531.9,3480.9 532.9,3467.6 533.9,3452.2 534.9,3435.2 535.9,3417.3 536.9,3398.7 537.9,3380.1 538.9,3362 539.9,3344.7 540.9,3328.8 541.9,3314.8 542.9,3303.2 543.9,3294.5 544.9,3289.1 545.9,3287.5 546.9,3289.7 547.9,3294.9 548.9,3302.5 549.9,3312.1 550.9,3323 551.9,3334.6 552.9,3346.6 553.9,3358.1 554.9,3368.8 555.9,3378 556.9,3385.2 557.9,3389.9 558.9,3391.3 559.9,3389.2 560.9,3383.9 561.9,3376.3 562.9,3367.3 563.9,3357.6 564.9,3348.2 565.9,3339.7 566.9,3333.2 567.9,3329.4 568.9,3329 569.9,3332.1 570.9,3337.7 571.9,3345.2 572.9,3353.9 573.9,3362.9 574.9,3371.6 575.9,3379.3 576.9,3385.1 577.9,3388.3 578.9,3388 579.9,3382.1 580.9,3371.4 581.9,3356.8 582.9,3339.5 583.9,3320.3 584.9,3300.4 585.9,3280.7 586.9,3262.3 587.9,3246.2 588.9,3233.4 589.9,3224.9 590.9,3221.8 591.9,3225 592.9,3234.5 593.9,3249 594.9,3267.6 595.9,3289.1 596.9,3312.7 597.9,3337.1 598.9,3361.4 599.9,3384.6 600.9,3405.5 601.9,3423.1 602.9,3436.4 603.9,3444.4 604.9,3446.5 605.9,3447.1 606.9,3447.6 607.9,3448 608.9,3448.7 609.9,3450.6 610.9,3453.9 611.9,3457.9 612.9,3461.7 613.9,3464.5 614.9,3465.7 615.9,3462.4 616.9,3452.9 617.9,3438.5 618.9,3420.6 619.9,3400.4 620.9,3379.2 621.9,3358.3 622.9,3339 623.9,3322.6 624.9,3310.3 625.9,3303.6 626.9,3303.8 627.9,3312.8 628.9,3329.3 629.9,3352.1 630.9,3379.4 631.9,3410 632.9,3442.2 633.9,3474.7 634.9,3506 635.9,3534.5 636.9,3558.9 637.9,3577.6 638.9,3589.2 639.9,3592.1 640.9,3587.4 641.9,3576.6 642.9,3560.7 643.9,3540.8 644.9,3517.8 645.9,3492.8 646.9,3466.7 647.9,3440.7 648.9,3415.8 649.9,3392.8 650.9,3373 651.9,3357.2 652.9,3346.5 653.9,3341.9 654.9,3342.4 655.9,3344.7 656.9,3348.4 657.9,3353.4 658.9,3359.4 659.9,3366.3 660.9,3373.9 661.9,3381.9 662.9,3390.2 663.9,3398.5 664.9,3408.7 665.9,3422.8 666.9,3439.9 667.9,3459.3 668.9,3480.1 669.9,3501.4 670.9,3522.3 671.9,3542 672.9,3559.6 673.9,3574.2 674.9,3585 675.9,3591.2 676.9,3591.8 677.9,3586.3 678.9,3575.6 679.9,3560.7 680.9,3542.8 681.9,3522.8 682.9,3502 683.9,3481.2 684.9,3461.7 685.9,3444.5 686.9,3430.7 687.9,3421.2 688.9,3417.3 689.9,3416.1 690.9,3415.4 691.9,3414.6 692.9,3413 693.9,3405.6 694.9,3391.5 695.9,3372.4 696.9,3349.9 697.9,3325.6 698.9,3301.2 699.9,3278.5 700.9,3259 701.9,3244.4 702.9,3236.4 703.9,3236.8 704.9,3247.5 705.9,3267.1 706.9,3293.7 707.9,3325.7 708.9,3361.2 709.9,3398.5 710.9,3435.8 711.9,3471.3 712.9,3503.4 713.9,3530.1 714.9,3549.8 715.9,3560.7 716.9,3561.3 717.9,3553.3 718.9,3538.8 719.9,3519.8 720.9,3498.2 721.9,3475.9 722.9,3454.8 723.9,3436.9 724.9,3424 725.9,3418.2 726.9,3420.9 727.9,3431.4 728.9,3447.6 729.9,3467.5 730.9,3489.2 731.9,3510.6 732.9,3529.9 733.9,3544.9 734.9,3553.7 735.9,3554.8 736.9,3549.9 737.9,3540.2 738.9,3526.6 739.9,3509.6 740.9,3489.9 741.9,3468.3 742.9,3445.3 743.9,3421.7 744.9,3398.1 745.9,3375.3 746.9,3353.9 747.9,3334.5 748.9,3318 749.9,3304.9 750.9,3295.9 751.9,3291.7 752.9,3291.9 753.9,3293.9 754.9,3297.2 755.9,3301.2 756.9,3305.7 757.9,3310.2 758.9,3314.4 759.9,3317.9 760.9,3320.2 761.9,3320.9 762.9,3319.4 763.9,3316 764.9,3311.4 765.9,3306.7 766.9,3302.7 767.9,3300.4 768.9,3300.6 769.9,3304.5 770.9,3311.2 771.9,3319.8 772.9,3329.7 773.9,3340 774.9,3349.7 775.9,3358.1 776.9,3364.4 777.9,3367.6 778.9,3367.3 779.9,3364.3 780.9,3359.1 781.9,3352.4 782.9,3344.6 783.9,3336.4 784.9,3328.3 785.9,3320.8 786.9,3314.4 787.9,3309.8 788.9,3307.5 789.9,3308.4 790.9,3313.5 791.9,3321.8 792.9,3332.4 793.9,3344.3 794.9,3356.4 795.9,3367.9 796.9,3377.7 797.9,3384.7 798.9,3388.1 799.9,3387.7 800.9,3385.4 801.9,3381.4 802.9,3376 803.9,3369.2 804.9,3361.3 805.9,3352.4 806.9,3342.6 807.9,3332.2 808.9,3321.4 809.9,3310.2 810.9,3298.9 811.9,3287.6 812.9,3276.4 813.9,3265.7 814.9,3255.5 815.9,3246 816.9,3237.3 817.9,3229.7 818.9,3223.2 819.9,3218.2 820.9,3214.7 821.9,3212.9 822.9,3213 823.9,3215.2 824.9,3219.1 825.9,3224.3 826.9,3230.4 827.9,3236.9 828.9,3243.5 829.9,3249.7 830.9,3255 831.9,3259.2 832.9,3261.7 833.9,3262 834.9,3258 835.9,3249.8 836.9,3238.2 837.9,3223.9 838.9,3207.9 839.9,3190.9 840.9,3173.7 841.9,3157.2 842.9,3142.1 843.9,3129.2 844.9,3119.5 845.9,3113.6 846.9,3112.4 847.9,3116.4 848.9,3124.6 849.9,3135.8 850.9,3148.7 851.9,3162.2 852.9,3175 853.9,3185.9 854.9,3193.6 855.9,3196.9 856.9,3194.8 857.9,3187.6 858.9,3176.4 859.9,3162.6 860.9,3147.3 861.9,3131.8 862.9,3117.2 863.9,3104.7 864.9,3095.6 865.9,3091.1 866.9,3092.6 867.9,3101.2 868.9,3115.7 869.9,3134.9 870.9,3157.5 871.9,3182.4 872.9,3208.3 873.9,3234 874.9,3258.2 875.9,3279.8 876.9,3297.6 877.9,3310.2 878.9,3316.5 879.9,3316.9 880.9,3316.2 881.9,3315.3 882.9,3314.6 883.9,3314.5 884.9,3317.5 885.9,3324 886.9,3333.5 887.9,3345.1 888.9,3358.2 889.9,3372 890.9,3385.9 891.9,3399.1 892.9,3410.9 893.9,3420.6 894.9,3427.5 895.9,3430.8 896.9,3429.8 897.9,3423.7 898.9,3413.6 899.9,3400.2 900.9,3384.4 901.9,3367.3 902.9,3349.6 903.9,3332.3 904.9,3316.3 905.9,3302.5 906.9,3291.7 907.9,3285 908.9,3283.2 909.9,3286.2 910.9,3292.9 911.9,3302 912.9,3312.3 913.9,3322.7 914.9,3331.8 915.9,3338.6 916.9,3341.7 917.9,3339.4 918.9,3331 919.9,3318.3 920.9,3303 921.9,3287.1 922.9,3272.3 923.9,3260.6 924.9,3253.6 925.9,3253.8 926.9,3264.2 927.9,3283.5 928.9,3309.5 929.9,3340 930.9,3373.1 931.9,3406.4 932.9,3437.9 933.9,3465.5 934.9,3487 935.9,3500.3 936.9,3503.3 937.9,3496.9 938.9,3482.9 939.9,3462.7 940.9,3437.5 941.9,3408.8 942.9,3377.9 943.9,3346 944.9,3314.6 945.9,3285 946.9,3258.4 947.9,3236.3 948.9,3220 949.9,3210.8 950.9,3209.7 951.9,3214.6 952.9,3223.9 953.9,3236.6 954.9,3251.7 955.9,3268.3 956.9,3285.4 957.9,3301.9 958.9,3316.9 959.9,3329.4 960.9,3338.3 961.9,3342.8 962.9,3342.3 963.9,3339 964.9,3334.6 965.9,3331.1 966.9,3330.2 967.9,3333.9 968.9,3342 969.9,3353.5 970.9,3367.6 971.9,3383.4 972.9,3400 973.9,3416.5 974.9,3432 975.9,3445.6 976.9,3456.5 977.9,3463.8 978.9,3466.5 979.9,3464.3 980.9,3458.4 981.9,3450.4 982.9,3441.9 983.9,3434.6 984.9,3430 985.9,3429.8 986.9,3434.9 987.9,3444 988.9,3455.6 989.9,3468.3 990.9,3480.6 991.9,3491 992.9,3498.1 993.9,3500.4 994.9,3495.2 995.9,3482.4 996.9,3463.7 997.9,3440.7 998.9,3415 999.9,3388.3 1000.9,3362.1 1001.9,3338.2 1002.9,3318.1 1003.9,3303.4 1004.9,3295.8 1005.9,3296.7 1006.9,3305.7 1007.9,3321.1 1008.9,3341.6 1009.9,3365.5 1010.9,3391.3 1011.9,3417.5 1012.9,3442.6 1013.9,3465.1 1014.9,3483.3 1015.9,3495.9 1016.9,3501.2 1017.9,3498.9 1018.9,3491 1019.9,3478.5 1020.9,3462.3 1021.9,3443.5 1022.9,3423 1023.9,3402 1024.9,3381.2 1025.9,3361.8 1026.9,3344.7 1027.9,3330.9 1028.9,3321.5 1029.9,3317.4 1030.9,3318.3 1031.9,3322 1032.9,3327.7 1033.9,3335 1034.9,3343.2 1035.9,3351.8 1036.9,3360 1037.9,3367.5 1038.9,3373.5 1039.9,3377.4 1040.9,3379 1041.9,3379.7 1042.9,3380.2 1043.9,3380.6 1044.9,3381.1 1045.9,3381.6 1046.9,3382.4 1047.9,3384.1 1048.9,3387.7 1049.9,3393 1050.9,3399.6 1051.9,3407.2 1052.9,3415.6 1053.9,3424.5 1054.9,3433.7 1055.9,3442.7 1056.9,3451.4 1057.9,3459.4 1058.9,3466.6 1059.9,3472.5 1060.9,3477 1061.9,3479.7 1062.9,3480.3 1063.9,3479.4 1064.9,3477.2 1065.9,3474.1 1066.9,3470.2 1067.9,3465.6 1068.9,3460.7 1069.9,3455.6 1070.9,3450.4 1071.9,3445.5 1072.9,3440.9 1073.9,3436.4 1074.9,3431.2 1075.9,3425.5 1076.9,3419.6 1077.9,3413.6 1078.9,3407.9 1079.9,3402.8 1080.9,3398.5 1081.9,3395.2 1082.9,3393.3 1083.9,3393.2 1084.9,3396.5 1085.9,3403 1086.9,3411.6 1087.9,3421.5 1088.9,3431.6 1089.9,3440.9 1090.9,3448.5 1091.9,3453.4 1092.9,3454.7 1093.9,3451.4 1094.9,3444.4 1095.9,3434.7 1096.9,3423.3 1097.9,3411.4 1098.9,3400 1099.9,3390.3 1100.9,3383.2 1101.9,3380 1102.9,3380.5 1103.9,3382.7 1104.9,3386.3 1105.9,3390.8 1106.9,3396 1107.9,3401.5 1108.9,3407 1109.9,3412.1 1110.9,3416.6 1111.9,3420 1112.9,3422 1113.9,3422.1 1114.9,3417.3 1115.9,3407.2 1116.9,3392.6 1117.9,3374.2 1118.9,3352.6 1119.9,3328.6 1120.9,3302.8 1121.9,3276 1122.9,3248.8 1123.9,3222 1124.9,3196.2 1125.9,3172.2 1126.9,3150.6 1127.9,3132.2 1128.9,3117.6 1129.9,3106.8 1130.9,3097.6 1131.9,3089.4 1132.9,3081.9 1133.9,3074.8 1134.9,3067.8 1135.9,3060.4 1136.9,3052.5 1137.9,3043.5 1138.9,3033.1 1139.9,3021.8 1140.9,3009.9 1141.9,2997.6 1142.9,2985.4 1143.9,2973.4 1144.9,2962.1 1145.9,2951.8 1146.9,2942.7 1147.9,2935.3 1148.9,2929.8 1149.9,2926.6 1150.9,2926.1 1151.9,2929.6 1152.9,2937.1 1153.9,2947.8 1154.9,2960.9 1155.9,2975.5 1156.9,2991 1157.9,3006.4 1158.9,3021 1159.9,3034.1 1160.9,3044.7 1161.9,3052.2 1162.9,3055.7 1163.9,3055 1164.9,3051.7 1165.9,3046.7 1166.9,3040.9 1167.9,3035.2 1168.9,3030.5 1169.9,3027.6 1170.9,3027.8 1171.9,3034.5 1172.9,3047.3 1173.9,3065.1 1174.9,3086.8 1175.9,3111.3 1176.9,3137.6 1177.9,3164.6 1178.9,3191.1 1179.9,3216.1 1180.9,3238.5 1181.9,3257.2 1182.9,3271.1 1183.9,3279.2 1184.9,3280.3 1185.9,3274 1186.9,3261.5 1187.9,3243.9 1188.9,3222.7 1189.9,3199 1190.9,3174.2 1191.9,3149.5 1192.9,3126.1 1193.9,3105.4 1194.9,3088.7 1195.9,3077.2 1196.9,3072.1 1197.9,3074 1198.9,3080.9 1199.9,3091.4 1200.9,3104.1 1201.9,3117.4 1202.9,3130 1203.9,3140.4 1204.9,3147.2 1205.9,3148.9 1206.9,3146.3 1207.9,3140.8 1208.9,3133.4 1209.9,3125 1210.9,3116.5 1211.9,3108.8 1212.9,3102.9 1213.9,3099.7 1214.9,3100.4 1215.9,3106.2 1216.9,3116.3 1217.9,3129.6 1218.9,3145 1219.9,3161.7 1220.9,3178.4 1221.9,3194.3 1222.9,3208.3 1223.9,3219.3 1224.9,3226.4 1225.9,3228.5 1226.9,3225.6 1227.9,3218.7 1228.9,3208.6 1229.9,3196.2 1230.9,3182.4 1231.9,3168 1232.9,3154 1233.9,3141.2 1234.9,3130.5 1235.9,3122.7 1236.9,3118.8 1237.9,3119.9 1238.9,3127.4 1239.9,3140 1240.9,3156.3 1241.9,3175 1242.9,3194.7 1243.9,3213.9 1244.9,3231.4 1245.9,3245.7 1246.9,3255.5 1247.9,3259.3 1248.9,3256.5 1249.9,3248.4 1250.9,3236.5 1251.9,3222.5 1252.9,3207.9 1253.9,3194.3 1254.9,3183.3 1255.9,3176.5 1256.9,3175.4 1257.9,3180.1 1258.9,3189.6 1259.9,3203.3 1260.9,3220.3 1261.9,3239.8 1262.9,3260.9 1263.9,3283 1264.9,3305.1 1265.9,3326.5 1266.9,3346.4 1267.9,3364 1268.9,3378.4 1269.9,3388.9 1270.9,3394.7 1271.9,3395.2 1272.9,3391.9 1273.9,3385.7 1274.9,3377.2 1275.9,3367.1 1276.9,3355.7 1277.9,3343.9 1278.9,3332.1 1279.9,3320.9 1280.9,3310.9 1281.9,3302.7 1282.9,3296.8 1283.9,3294 1284.9,3295.3 1285.9,3302.3 1286.9,3313.8 1287.9,3328.3 1288.9,3344.3 1289.9,3360.3 1290.9,3374.9 1291.9,3386.6 1292.9,3393.9 1293.9,3395.2 1294.9,3389 1295.9,3376 1296.9,3357.6 1297.9,3335.2 1298.9,3310.2 1299.9,3284 1300.9,3258.1 1301.9,3233.7 1302.9,3212.3 1303.9,3195.4 1304.9,3184.2 1305.9,3180.3 1306.9,3184.2 1307.9,3194.9 1308.9,3211 1309.9,3231.3 1310.9,3254.6 1311.9,3279.4 1312.9,3304.5 1313.9,3328.6 1314.9,3350.5 1315.9,3368.9 1316.9,3382.4 1317.9,3389.8 1318.9,3390.3 1319.9,3385.7 1320.9,3377.2 1321.9,3365.6 1322.9,3351.5 1323.9,3335.6 1324.9,3318.7 1325.9,3301.5 1326.9,3284.7 1327.9,3269.1 1328.9,3255.3 1329.9,3244 1330.9,3236.1 1331.9,3232.2 1332.9,3232.2 1333.9,3233.3 1334.9,3235.4 1335.9,3238.2 1336.9,3241.6 1337.9,3245.7 1338.9,3250.2 1339.9,3255.1 1340.9,3260.2 1341.9,3265.5 1342.9,3270.9 1343.9,3276.1 1344.9,3283 1345.9,3292.4 1346.9,3301.8 1347.9,3308.6 1348.9,3310.5 1349.9,3309.2 1350.9,3306.7 1351.9,3303.5 1352.9,3300.3 1353.9,3297.6 1354.9,3296.2 1355.9,3296.9 1356.9,3300.4 1357.9,3305.7 1358.9,3311.8 1359.9,3317.8 1360.9,3322.6 1361.9,3325.2 1362.9,3324.5 1363.9,3320.2 1364.9,3312.7 1365.9,3302.9 1366.9,3291.3 1367.9,3278.6 1368.9,3265.5 1369.9,3252.7 1370.9,3240.8 1371.9,3230.5 1372.9,3222.4 1373.9,3217.3 1374.9,3215.8 1375.9,3218.4 1376.9,3224.7 1377.9,3233.8 1378.9,3245.2 1379.9,3258 1380.9,3271.5 1381.9,3285.1 1382.9,3297.9 1383.9,3309.3 1384.9,3318.5 1385.9,3324.8 1386.9,3327.4 1387.9,3327.3 1388.9,3327 1389.9,3326.5 1390.9,3326.2 1391.9,3326.5 1392.9,3329.2 1393.9,3334.4 1394.9,3341.5 1395.9,3349.8 1396.9,3358.7 1397.9,3367.6 1398.9,3376 1399.9,3383.2 1400.9,3388.7 1401.9,3391.7 1402.9,3391.7 1403.9,3387.8 1404.9,3380.3 1405.9,3370 1406.9,3357.3 1407.9,3342.8 1408.9,3327.2 1409.9,3311.1 1410.9,3294.9 1411.9,3279.4 1412.9,3265 1413.9,3252.4 1414.9,3242.2 1415.9,3235 1416.9,3231.3 1417.9,3231.9 1418.9,3237.8 1419.9,3248.1 1420.9,3262 1421.9,3278.4 1422.9,3296.5 1423.9,3315.3 1424.9,3334 1425.9,3351.5 1426.9,3367 1427.9,3379.6 1428.9,3388.2 1429.9,3392.1 1430.9,3390.5 1431.9,3384.5 1432.9,3374.6 1433.9,3361.7 1434.9,3346.6 1435.9,3330 1436.9,3312.8 1437.9,3295.7 1438.9,3279.5 1439.9,3265 1440.9,3253 1441.9,3244.2 1442.9,3239.4 1443.9,3239 1444.9,3241.2 1445.9,3245.2 1446.9,3250.6 1447.9,3257 1448.9,3264 1449.9,3271.1 1450.9,3278 1451.9,3284.3 1452.9,3289.5 1453.9,3293.3 1454.9,3296.4 1455.9,3299.2 1456.9,3301.6 1457.9,3304 1458.9,3306.3 1459.9,3308.8 1460.9,3311.6 1461.9,3314.7 1462.9,3318.3 1463.9,3322.2 1464.9,3326.4 1465.9,3330.9 1466.9,3335.5 1467.9,3340.3 1468.9,3345.2 1469.9,3350.1 1470.9,3355 1471.9,3359.8 1472.9,3364.4 1473.9,3368.8 1474.9,3373 1475.9,3376.8 1476.9,3380.3 1477.9,3383.3 1478.9,3385.9 1479.9,3387.9 1480.9,3389.5 1481.9,3390.7 1482.9,3391.8 1483.9,3392.8 1484.9,3393.8 1485.9,3394.8 1486.9,3396 1487.9,3397.6 1488.9,3399.4 1489.9,3402.7 1490.9,3407.7 1491.9,3414.2 1492.9,3421.7 1493.9,3429.9 1494.9,3438.4 1495.9,3447 1496.9,3455.2 1497.9,3462.6 1498.9,3469 1499.9,3474 1500.9,3477.2 1501.9,3478.3 1502.9,3476 1503.9,3470.2 1504.9,3461.1 1505.9,3449.5 1506.9,3435.9 1507.9,3420.7 1508.9,3404.6 1509.9,3388.1 1510.9,3371.7 1511.9,3355.9 1512.9,3341.4 1513.9,3328.6 1514.9,3318.1 1515.9,3310.4 1516.9,3306 1517.9,3305.5 1518.9,3308.2 1519.9,3313.6 1520.9,3321.5 1521.9,3331.7 1522.9,3343.9 1523.9,3358 1524.9,3373.8 1525.9,3390.9 1526.9,3409.1 1527.9,3428.3 1528.9,3448.1 1529.9,3468.4 1530.9,3489 1531.9,3509.6 1532.9,3529.9 1533.9,3549.8 1534.9,3569.1 1535.9,3587.4 1536.9,3604.6 1537.9,3620.4 1538.9,3634.7 1539.9,3647.1 1540.9,3657.5 1541.9,3665.6 1542.9,3671.3 1543.9,3674.2 1544.9,3673.6 1545.9,3667.1 1546.9,3654.9 1547.9,3638.1 1548.9,3617.3 1549.9,3593.6 1550.9,3567.6 1551.9,3540.3 1552.9,3512.5 1553.9,3485.1 1554.9,3458.9 1555.9,3434.8 1556.9,3413.5 1557.9,3396.1 1558.9,3383.3 1559.9,3375.9 1560.9,3374.7 1561.9,3378.4 1562.9,3385.5 1563.9,3395.2 1564.9,3406.5 1565.9,3418.4 1566.9,3429.9 1567.9,3440.1 1568.9,3447.9 1569.9,3452.5 1570.9,3453.1 1571.9,3451.4 1572.9,3448.1 1573.9,3443.3 1574.9,3437.2 1575.9,3429.9 1576.9,3421.5 1577.9,3412.3 1578.9,3402.3 1579.9,3391.8 1580.9,3380.9 1581.9,3369.7 1582.9,3358.3 1583.9,3347.1 1584.9,3336 1585.9,3325.3 1586.9,3315.1 1587.9,3305.5 1588.9,3296.8 1589.9,3289 1590.9,3282.4 1591.9,3277 1592.9,3273.1 1593.9,3270.7 1594.9,3270.1 1595.9,3273.2 1596.9,3280.3 1597.9,3290.3 1598.9,3302.5 1599.9,3315.8 1600.9,3329.2 1601.9,3341.9 1602.9,3352.9 1603.9,3361.2 1604.9,3365.9 1605.9,3365.8 1606.9,3359.4 1607.9,3347.2 1608.9,3330.3 1609.9,3309.7 1610.9,3286.6 1611.9,3261.9 1612.9,3236.8 1613.9,3212.2 1614.9,3189.3 1615.9,3169 1616.9,3152.5 1617.9,3140.7 1618.9,3134.9 1619.9,3135 1620.9,3138 1621.9,3142.8 1622.9,3148.1 1623.9,3153.1 1624.9,3156.7 1625.9,3157.8 1626.9,3155.8 1627.9,3150.8 1628.9,3143.4 1629.9,3134.1 1630.9,3123.5 1631.9,3112.2 1632.9,3100.6 1633.9,3089.3 1634.9,3078.9 1635.9,3069.9 1636.9,3062.9 1637.9,3058.4 1638.9,3056.9 1639.9,3059.3 1640.9,3065.5 1641.9,3075.2 1642.9,3087.6 1643.9,3102.4 1644.9,3118.9 1645.9,3136.8 1646.9,3155.3 1647.9,3174.1 1648.9,3192.6 1649.9,3210.2 1650.9,3226.5 1651.9,3241 1652.9,3253 1653.9,3262.1 1654.9,3267.8 1655.9,3269.5 1656.9,3266.3 1657.9,3258.5 1658.9,3246.8 1659.9,3232.1 1660.9,3215.2 1661.9,3196.8 1662.9,3178 1663.9,3159.4 1664.9,3141.8 1665.9,3126.2 1666.9,3113.3 1667.9,3103.9 1668.9,3099 1669.9,3098.8 1670.9,3101.7 1671.9,3106.9 1672.9,3113.6 1673.9,3121.4 1674.9,3129.6 1675.9,3137.7 1676.9,3144.9 1677.9,3150.7 1678.9,3154.5 1679.9,3155.7 1680.9,3153.1 1681.9,3147.1 1682.9,3139.5 1683.9,3131.9 1684.9,3123.7 1685.9,3113.1 1686.9,3101.6 1687.9,3090.7 1688.9,3081.7 1689.9,3076.2 1690.9,3075.5 1691.9,3078.4 1692.9,3084.3 1693.9,3092.5 1694.9,3102.6 1695.9,3114.2 1696.9,3126.7 1697.9,3139.8 1698.9,3152.8 1699.9,3165.4 1700.9,3177 1701.9,3187.2 1702.9,3195.5 1703.9,3201.4 1704.9,3204.5 1705.9,3205.7 1706.9,3206.6 1707.9,3207.3 1708.9,3208.1 1709.9,3209.3 1710.9,3212.3 1711.9,3218.9 1712.9,3228.3 1713.9,3239.5 1714.9,3251.8 1715.9,3264.3 1716.9,3276.1 1717.9,3286.3 1718.9,3294.2 1719.9,3298.8 1720.9,3299.5 1721.9,3298.2 1722.9,3295.9 1723.9,3293.1 1724.9,3290.5 1725.9,3288.4 1726.9,3287.4 1727.9,3288.6 1728.9,3292.6 1729.9,3299 1730.9,3307.1 1731.9,3316.5 1732.9,3326.6 1733.9,3336.8 1734.9,3346.7 1735.9,3355.6 1736.9,3363 1737.9,3368.3 1738.9,3371.1 1739.9,3371 1740.9,3368.9 1741.9,3365.3 1742.9,3360.7 1743.9,3355.6 1744.9,3350.4 1745.9,3345.7 1746.9,3341.9 1747.9,3339.4 1748.9,3338.8 1749.9,3340.7 1750.9,3344.5 1751.9,3349.5 1752.9,3354.7 1753.9,3359.4 1754.9,3362.6 1755.9,3363.4 1756.9,3357.8 1757.9,3344.8 1758.9,3325.9 1759.9,3302.7 1760.9,3276.7 1761.9,3249.4 1762.9,3222.3 1763.9,3197 1764.9,3175 1765.9,3157.8 1766.9,3147 1767.9,3144 1768.9,3150.6 1769.9,3165.8 1770.9,3187.5 1771.9,3213.6 1772.9,3242.2 1773.9,3271.2 1774.9,3298.5 1775.9,3322.2 1776.9,3340.1 1777.9,3350.3 1778.9,3350.8 1779.9,3341.9 1780.9,3325.4 1781.9,3303 1782.9,3276.6 1783.9,3247.9 1784.9,3218.7 1785.9,3190.8 1786.9,3165.9 1787.9,3145.9 1788.9,3132.4 1789.9,3127.4 1790.9,3132.7 1791.9,3147.7 1792.9,3170.8 1793.9,3199.9 1794.9,3233.4 1795.9,3269.3 1796.9,3305.8 1797.9,3341.1 1798.9,3373.3 1799.9,3400.6 1800.9,3423.9 1801.9,3447.5 1802.9,3470.6 1803.9,3492.3 1804.9,3511.4 1805.9,3527.1 1806.9,3538.5 1807.9,3547.3 1808.9,3554.7 1809.9,3561.1 1810.9,3566.9 1811.9,3572.4 1812.9,3578 1813.9,3584.2 1814.9,3591.3 1815.9,3600 1816.9,3609.7 1817.9,3619.9 1818.9,3629.9 1819.9,3639.2 1820.9,3647.3 1821.9,3653.4 1822.9,3657.1 1823.9,3657.5 1824.9,3651.5 1825.9,3639.3 1826.9,3622 1827.9,3600.7 1828.9,3576.8 1829.9,3551.4 1830.9,3525.6 1831.9,3500.8 1832.9,3478 1833.9,3458.5 1834.9,3443.4 1835.9,3434 1836.9,3431.2 1837.9,3430.6 1838.9,3430.2 1839.9,3429.9 1840.9,3429.5 1841.9,3428.7 1842.9,3424.2 1843.9,3413.9 1844.9,3399.3 1845.9,3381.8 1846.9,3362.8 1847.9,3343.6 1848.9,3325.6 1849.9,3310.3 1850.9,3299 1851.9,3293.1 1852.9,3294.7 1853.9,3306.1 1854.9,3325.6 1855.9,3351.2 1856.9,3381 1857.9,3412.7 1858.9,3444.5 1859.9,3474.2 1860.9,3499.8 1861.9,3519.3 1862.9,3530.6 1863.9,3531.8 1864.9,3522.2 1865.9,3504 1866.9,3479.4 1867.9,3450.4 1868.9,3419.3 1869.9,3388.3 1870.9,3359.7 1871.9,3335.5 1872.9,3317.9 1873.9,3309.3 1874.9,3311.3 1875.9,3322.9 1876.9,3341.7 1877.9,3365.5 1878.9,3392.2 1879.9,3419.5 1880.9,3445.2 1881.9,3466.9 1882.9,3482.5 1883.9,3489.8 1884.9,3487.7 1885.9,3478 1886.9,3462.3 1887.9,3441.8 1888.9,3417.8 1889.9,3391.8 1890.9,3364.9 1891.9,3338.5 1892.9,3314 1893.9,3292.6 1894.9,3275.7 1895.9,3264.5 1896.9,3260.5 1897.9,3263.9 1898.9,3273.2 1899.9,3286.8 1900.9,3303.1 1901.9,3320.5 1902.9,3337.4 1903.9,3352.3 1904.9,3363.5 1905.9,3369.5 1906.9,3369 1907.9,3362.7 1908.9,3351.8 1909.9,3337.6 1910.9,3321 1911.9,3303.3 1912.9,3285.6 1913.9,3269 1914.9,3254.7 1915.9,3243.8 1916.9,3237.4 1917.9,3236.6 1918.9,3241.1 1919.9,3249.7 1920.9,3261.5 1921.9,3275.5 1922.9,3290.5 1923.9,3305.7 1924.9,3320 1925.9,3332.3 1926.9,3341.6 1927.9,3347 1928.9,3347.6 1929.9,3344.2 1930.9,3338 1931.9,3329.6 1932.9,3319.8 1933.9,3309.3 1934.9,3298.8 1935.9,3289.2 1936.9,3281.1 1937.9,3275.2 1938.9,3272.4 1939.9,3273.1 1940.9,3277 1941.9,3283.4 1942.9,3291.7 1943.9,3301.2 1944.9,3311.2 1945.9,3321.2 1946.9,3330.4 1947.9,3338.3 1948.9,3344.2 1949.9,3347.5 1950.9,3347.6 1951.9,3345.2 1952.9,3340.8 1953.9,3334.5 1954.9,3326.7 1955.9,3317.6 1956.9,3307.6 1957.9,3296.9 1958.9,3285.7 1959.9,3274.4 1960.9,3263.3 1961.9,3252.5 1962.9,3242.5 1963.9,3233.4 1964.9,3225.6 1965.9,3219.3 1966.9,3214.9 1967.9,3212.5 1968.9,3212.7 1969.9,3216.6 1970.9,3223.9 1971.9,3234.1 1972.9,3246.6 1973.9,3260.9 1974.9,3276.4 1975.9,3292.6 1976.9,3309.1 1977.9,3325.1 1978.9,3340.3 1979.9,3354 1980.9,3365.8 1981.9,3375 1982.9,3381.2 1983.9,3383.9 1984.9,3381.9 1985.9,3375 1986.9,3364.4 1987.9,3351.3 1988.9,3337 1989.9,3322.7 1990.9,3309.7 1991.9,3299.1 1992.9,3292.4 1993.9,3290.6 1994.9,3295.3 1995.9,3305.5 1996.9,3319.6 1997.9,3336 1998.9,3353 1999.9,3368.9 2000.9,3382.2 2001.9,3391.2 2002.9,3394.3 2003.9,3392.7 2004.9,3388.1 2005.9,3380.7 2006.9,3370.6 2007.9,3357.9 2008.3,3351.8"/>
</g>
<path d="M332 2788H335V3786H332ZM2007 2788H2009V3786H2007ZM332 2788H2009V2790H332ZM332 3784H2009V3786H332ZM335 2930H351V2932H335ZM1991 2930H2007V2932H1991ZM335 3073H351V3075H335ZM1991 3073H2007V3075H1991ZM335 3215H351V3217H335ZM1991 3215H2007V3217H1991ZM335 3357H351V3359H335ZM1991 3357H2007V3359H1991ZM335 3499H351V3501H335ZM1991 3499H2007V3501H1991ZM335 3642H351V3644H335ZM1991 3642H2007V3644H1991ZM667 3767H669V3784H667ZM667 2790H669V2807H667ZM1002 3767H1004V3784H1002ZM1002 2790H1004V2807H1002ZM1337 3767H1339V3784H1337ZM1337 2790H1339V2807H1337ZM1672 3767H1674V3784H1672ZM1672 2790H1674V2807H1672Z" fill="#141414" shape-rendering="crispEdges"/>
<text x="218.9" y="2816.9" font-size="76" fill="#404040" textLength="92.1" lengthAdjust="spacingAndGlyphs">0.4</text>
<text x="219.7" y="2951.5" font-size="76" fill="#404040" textLength="92.1" lengthAdjust="spacingAndGlyphs">0.3</text>
<text x="216.8" y="3100.3" font-size="76" fill="#404040" textLength="92.1" lengthAdjust="spacingAndGlyphs">0.2</text>
<text x="218.9" y="3243.7" font-size="76" fill="#404040" textLength="92.1" lengthAdjust="spacingAndGlyphs">0.1</text>
<text x="268.3" y="3385.4" font-size="76" fill="#404040" textLength="36.9" lengthAdjust="spacingAndGlyphs">0</text>
<text x="170.7" y="3526.7" font-size="76" fill="#404040" textLength="133.7" lengthAdjust="spacingAndGlyphs">−0.1</text>
<text x="169.8" y="3671.4" font-size="76" fill="#404040" textLength="133.7" lengthAdjust="spacingAndGlyphs">−0.2</text>
<text x="170.7" y="3817.3" font-size="76" fill="#404040" textLength="133.7" lengthAdjust="spacingAndGlyphs">−0.3</text>
<text x="319.0" y="3860.0" font-size="76" fill="#404040">0</text>
<text x="650.1" y="3860.0" font-size="76" fill="#404040">3</text>
<text x="986.6" y="3860.0" font-size="76" fill="#404040">6</text>
<text x="1322.2" y="3860.0" font-size="76" fill="#404040">9</text>
<text x="1643.8" y="3860.0" font-size="76" fill="#404040">12</text>
<text x="1975.8" y="3860.0" font-size="76" fill="#404040">15</text>
<text x="1040.3" y="3941.7" font-size="76" fill="#000">Time/min</text>
<text x="1004.6" y="4054.4" font-size="85.2" fill="#000">(<tspan font-weight="bold">c</tspan>)</text>
<text transform="translate(119.1 3367.0) rotate(-90)" x="-3.2" y="0" font-size="76" fill="#000" textLength="51.8" lengthAdjust="spacingAndGlyphs">Δ</text>
<text transform="translate(119.1 3305.5) rotate(-90)" x="-15.2" y="0" font-size="76" fill="#000" font-style="italic">f</text>
<text transform="translate(138.6 3288.2) rotate(-90)" x="-10.9" y="0" font-size="47" fill="#000" font-style="italic">3</text>
<text transform="translate(135.7 3256.5) rotate(-90)" x="-0.0" y="0" font-size="77" fill="#000">/Hz</text>
<path d="M378 2855H512V2861H378Z" fill="#000000" shape-rendering="crispEdges"/>
<text x="525.7" y="2878.9" font-size="70" fill="#000">30%</text>
<text x="687.1" y="2878.9" font-size="68.4" fill="#000">penetration level</text>
<path d="M377 2958H517V2963H377Z" fill="#1c00bb" shape-rendering="crispEdges"/>
<text x="532.7" y="2981.8" font-size="70" fill="#000">40%</text>
<text x="692.6" y="2981.8" font-size="68.6" fill="#000">penetration level</text>
<path d="M376 3061H517V3066H376Z" fill="#e00000" shape-rendering="crispEdges"/>
<text x="533.1" y="3083.3" font-size="70" fill="#000">50%</text>
<text x="692.6" y="3083.3" font-size="68.6" fill="#000">penetration level</text>
</g>
</svg></body></html>
